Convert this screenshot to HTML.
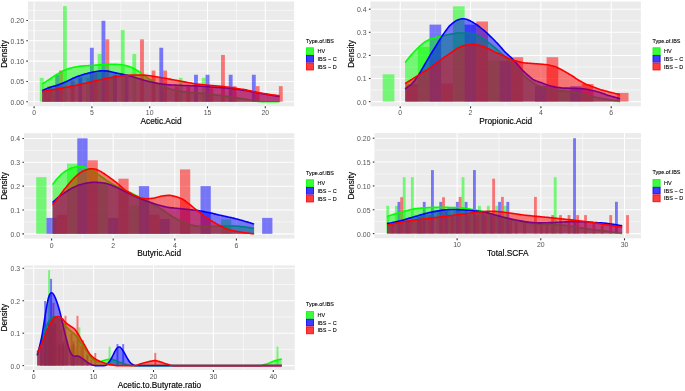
<!DOCTYPE html>
<html><head><meta charset="utf-8"><style>
html,body{margin:0;padding:0;background:#fff;width:685px;height:391px;overflow:hidden}
svg{display:block;filter:blur(0.3px)}
text{font-family:"Liberation Sans",sans-serif}
svg{-webkit-font-smoothing:antialiased}
.tx{filter:grayscale(1)}
.tk{font-size:6.9px;fill:#555;stroke:none}
.at{font-size:8.3px;fill:#000;stroke:#000;stroke-width:0.15px}
.lt{font-size:5.4px;fill:#000;stroke:#000;stroke-width:0.1px}
.lx{font-size:5.5px;fill:#000;stroke:#000;stroke-width:0.1px}
</style></head><body>
<svg width="685" height="391" viewBox="0 0 685 391">
<rect width="685" height="391" fill="#fff"/>
<rect x="27.9" y="1.5" width="266.2" height="104.8" fill="#EBEBEB"/>
<line x1="27.9" x2="294.1" y1="91.59" y2="91.59" stroke="#fff" stroke-width="0.55"/>
<line x1="27.9" x2="294.1" y1="71.28" y2="71.28" stroke="#fff" stroke-width="0.55"/>
<line x1="27.9" x2="294.1" y1="50.96" y2="50.96" stroke="#fff" stroke-width="0.55"/>
<line x1="27.9" x2="294.1" y1="30.65" y2="30.65" stroke="#fff" stroke-width="0.55"/>
<line x1="27.9" x2="294.1" y1="10.33" y2="10.33" stroke="#fff" stroke-width="0.55"/>
<line y1="1.5" y2="106.3" x1="63" x2="63" stroke="#fff" stroke-width="0.55"/>
<line y1="1.5" y2="106.3" x1="120.8" x2="120.8" stroke="#fff" stroke-width="0.55"/>
<line y1="1.5" y2="106.3" x1="178.6" x2="178.6" stroke="#fff" stroke-width="0.55"/>
<line y1="1.5" y2="106.3" x1="236.4" x2="236.4" stroke="#fff" stroke-width="0.55"/>
<line x1="27.9" x2="294.1" y1="101.75" y2="101.75" stroke="#fff" stroke-width="1.05"/>
<line x1="27.9" x2="294.1" y1="81.44" y2="81.44" stroke="#fff" stroke-width="1.05"/>
<line x1="27.9" x2="294.1" y1="61.12" y2="61.12" stroke="#fff" stroke-width="1.05"/>
<line x1="27.9" x2="294.1" y1="40.8" y2="40.8" stroke="#fff" stroke-width="1.05"/>
<line x1="27.9" x2="294.1" y1="20.49" y2="20.49" stroke="#fff" stroke-width="1.05"/>
<line y1="1.5" y2="106.3" x1="34.1" x2="34.1" stroke="#fff" stroke-width="1.05"/>
<line y1="1.5" y2="106.3" x1="91.9" x2="91.9" stroke="#fff" stroke-width="1.05"/>
<line y1="1.5" y2="106.3" x1="149.7" x2="149.7" stroke="#fff" stroke-width="1.05"/>
<line y1="1.5" y2="106.3" x1="207.5" x2="207.5" stroke="#fff" stroke-width="1.05"/>
<line y1="1.5" y2="106.3" x1="265.3" x2="265.3" stroke="#fff" stroke-width="1.05"/>
<clipPath id="c1"><rect x="27.9" y="1.5" width="266.2" height="104.8"/></clipPath>
<g clip-path="url(#c1)">
<g fill="#00FF00" fill-opacity="0.5"><rect x="39.8" y="77.85" width="3.86" height="23.9"/><rect x="62.94" y="6.15" width="3.86" height="95.6"/><rect x="97.64" y="53.95" width="3.86" height="47.8"/><rect x="120.78" y="30.05" width="3.86" height="71.7"/><rect x="132.34" y="53.95" width="3.86" height="47.8"/><rect x="178.62" y="77.85" width="3.86" height="23.9"/><rect x="201.75" y="77.85" width="3.86" height="23.9"/><rect x="51.37" y="88.15" width="3.86" height="13.6"/><rect x="86.07" y="77.85" width="3.86" height="23.9"/><rect x="109.21" y="77.85" width="3.86" height="23.9"/></g>
<g fill="#0000FF" fill-opacity="0.5"><rect x="55.22" y="74.75" width="3.86" height="27"/><rect x="89.93" y="47.75" width="3.86" height="54"/><rect x="101.5" y="20.75" width="3.86" height="81"/><rect x="159.34" y="47.75" width="3.86" height="54"/><rect x="194.04" y="74.75" width="3.86" height="27"/><rect x="205.61" y="74.75" width="3.86" height="27"/><rect x="228.74" y="74.75" width="3.86" height="27"/><rect x="251.88" y="74.75" width="3.86" height="27"/><rect x="78.36" y="77.3" width="3.86" height="24.45"/><rect x="113.06" y="74.85" width="3.86" height="26.9"/><rect x="124.63" y="76.49" width="3.86" height="25.26"/></g>
<g fill="#FF0000" fill-opacity="0.5"><rect x="47.51" y="86.15" width="3.86" height="15.6"/><rect x="59.08" y="70.55" width="3.86" height="31.2"/><rect x="105.35" y="39.35" width="3.86" height="62.4"/><rect x="140.06" y="39.35" width="3.86" height="62.4"/><rect x="151.62" y="70.55" width="3.86" height="31.2"/><rect x="163.19" y="70.55" width="3.86" height="31.2"/><rect x="221.03" y="54.95" width="3.86" height="46.8"/><rect x="232.6" y="86.15" width="3.86" height="15.6"/><rect x="255.74" y="86.15" width="3.86" height="15.6"/><rect x="278.87" y="86.15" width="3.86" height="15.6"/><rect x="43.66" y="91.08" width="3.86" height="10.67"/><rect x="70.65" y="80.65" width="3.86" height="21.1"/><rect x="93.78" y="73.07" width="3.86" height="28.68"/><rect x="174.76" y="86.47" width="3.86" height="15.28"/><rect x="186.33" y="86.87" width="3.86" height="14.88"/><rect x="209.46" y="88.39" width="3.86" height="13.36"/></g>
<path d="M42.1,83.9C42.35,83.75 43.1,83.29 43.6,82.99C44.1,82.68 44.6,82.38 45.1,82.07C45.6,81.77 46.1,81.47 46.6,81.16C47.1,80.85 47.6,80.54 48.1,80.23C48.6,79.91 49.1,79.59 49.6,79.27C50.1,78.94 50.6,78.61 51.1,78.27C51.6,77.94 52.1,77.6 52.6,77.26C53.1,76.92 53.6,76.57 54.1,76.24C54.6,75.9 55.1,75.57 55.6,75.24C56.1,74.92 56.6,74.6 57.1,74.3C57.6,73.99 58.1,73.69 58.6,73.4C59.1,73.1 59.6,72.81 60.1,72.53C60.6,72.25 61.1,71.97 61.6,71.71C62.1,71.45 62.6,71.19 63.1,70.95C63.6,70.71 64.1,70.49 64.6,70.28C65.1,70.06 65.6,69.86 66.1,69.67C66.6,69.47 67.1,69.28 67.6,69.1C68.1,68.92 68.6,68.74 69.1,68.57C69.6,68.41 70.1,68.25 70.6,68.1C71.1,67.96 71.6,67.82 72.1,67.7C72.6,67.57 73.1,67.44 73.6,67.33C74.1,67.21 74.6,67.1 75.1,66.99C75.6,66.89 76.1,66.79 76.6,66.71C77.1,66.62 77.6,66.55 78.1,66.48C78.6,66.41 79.1,66.36 79.6,66.3C80.1,66.24 80.6,66.19 81.1,66.14C81.6,66.09 82.1,66.05 82.6,66C83.1,65.96 83.6,65.92 84.1,65.88C84.6,65.84 85.1,65.81 85.6,65.78C86.1,65.74 86.6,65.71 87.1,65.68C87.6,65.65 88.1,65.62 88.6,65.59C89.1,65.57 89.6,65.54 90.1,65.51C90.6,65.48 91.1,65.45 91.6,65.42C92.1,65.39 92.6,65.37 93.1,65.34C93.6,65.31 94.1,65.28 94.6,65.24C95.1,65.21 95.6,65.18 96.1,65.14C96.6,65.11 97.1,65.07 97.6,65.03C98.1,64.99 98.6,64.95 99.1,64.91C99.6,64.87 100.1,64.83 100.6,64.78C101.1,64.74 101.6,64.7 102.1,64.67C102.6,64.63 103.1,64.59 103.6,64.56C104.1,64.53 104.6,64.5 105.1,64.47C105.6,64.45 106.1,64.43 106.6,64.4C107.1,64.38 107.6,64.36 108.1,64.34C108.6,64.32 109.1,64.3 109.6,64.28C110.1,64.26 110.6,64.24 111.1,64.23C111.6,64.21 112.1,64.2 112.6,64.19C113.1,64.18 113.6,64.18 114.1,64.19C114.6,64.19 115.1,64.21 115.6,64.23C116.1,64.25 116.6,64.29 117.1,64.32C117.6,64.35 118.1,64.39 118.6,64.43C119.1,64.48 119.6,64.52 120.1,64.58C120.6,64.64 121.1,64.7 121.6,64.77C122.1,64.85 122.6,64.93 123.1,65.01C123.6,65.1 124.1,65.19 124.6,65.29C125.1,65.39 125.6,65.49 126.1,65.61C126.6,65.72 127.1,65.85 127.6,65.99C128.1,66.13 128.6,66.3 129.1,66.47C129.6,66.65 130.1,66.84 130.6,67.05C131.1,67.25 131.6,67.47 132.1,67.7C132.6,67.93 133.1,68.18 133.6,68.44C134.1,68.69 134.6,68.97 135.1,69.25C135.6,69.52 136.1,69.81 136.6,70.11C137.1,70.41 137.6,70.72 138.1,71.04C138.6,71.36 139.1,71.69 139.6,72.04C140.1,72.38 140.6,72.74 141.1,73.1C141.6,73.46 142.1,73.83 142.6,74.2C143.1,74.56 143.6,74.94 144.1,75.31C144.6,75.68 145.1,76.06 145.6,76.43C146.1,76.8 146.6,77.17 147.1,77.53C147.6,77.89 148.1,78.25 148.6,78.58C149.1,78.92 149.6,79.24 150.1,79.55C150.6,79.86 151.1,80.16 151.6,80.45C152.1,80.74 152.6,81.01 153.1,81.29C153.6,81.57 154.1,81.84 154.6,82.11C155.1,82.38 155.6,82.64 156.1,82.91C156.6,83.17 157.1,83.43 157.6,83.7C158.1,83.96 158.6,84.22 159.1,84.47C159.6,84.73 160.1,84.98 160.6,85.22C161.1,85.46 161.6,85.7 162.1,85.92C162.6,86.14 163.1,86.35 163.6,86.55C164.1,86.76 164.6,86.95 165.1,87.14C165.6,87.33 166.1,87.52 166.6,87.71C167.1,87.89 167.6,88.08 168.1,88.26C168.6,88.43 169.1,88.6 169.6,88.76C170.1,88.92 170.6,89.07 171.1,89.21C171.6,89.34 172.1,89.47 172.6,89.6C173.1,89.72 173.6,89.84 174.1,89.96C174.6,90.08 175.1,90.19 175.6,90.31C176.1,90.42 176.6,90.54 177.1,90.65C177.6,90.76 178.1,90.87 178.6,90.96C179.1,91.06 179.6,91.15 180.1,91.24C180.6,91.32 181.1,91.39 181.6,91.47C182.1,91.54 182.6,91.6 183.1,91.67C183.6,91.74 184.1,91.8 184.6,91.86C185.1,91.93 185.6,91.99 186.1,92.05C186.6,92.1 187.1,92.16 187.6,92.21C188.1,92.26 188.6,92.31 189.1,92.35C189.6,92.39 190.1,92.43 190.6,92.47C191.1,92.5 191.6,92.54 192.1,92.57C192.6,92.61 193.1,92.64 193.6,92.67C194.1,92.71 194.6,92.74 195.1,92.77C195.6,92.81 196.1,92.84 196.6,92.88C197.1,92.91 197.6,92.95 198.1,92.99C198.6,93.02 199.1,93.06 199.6,93.1C200.1,93.13 200.6,93.17 201.1,93.21C201.6,93.25 202.1,93.28 202.6,93.33C203.1,93.37 203.6,93.41 204.1,93.46C204.6,93.5 205.1,93.55 205.6,93.61C206.1,93.66 206.6,93.73 207.1,93.79C207.6,93.85 208.1,93.91 208.6,93.98C209.1,94.04 209.6,94.11 210.1,94.17C210.6,94.24 211.1,94.31 211.6,94.37C212.1,94.44 212.6,94.5 213.1,94.57C213.6,94.63 214.1,94.69 214.6,94.76C215.1,94.82 215.6,94.89 216.1,94.95C216.6,95.02 217.1,95.08 217.6,95.14C218.1,95.21 218.6,95.27 219.1,95.34C219.6,95.4 220.1,95.46 220.6,95.53C221.1,95.59 221.6,95.66 222.1,95.73C222.6,95.79 223.1,95.86 223.6,95.93C224.1,95.99 224.6,96.06 225.1,96.13C225.6,96.2 226.1,96.28 226.6,96.35C227.1,96.42 227.6,96.49 228.1,96.56C228.6,96.63 229.1,96.71 229.6,96.78C230.1,96.85 230.6,96.92 231.1,97C231.6,97.07 232.1,97.14 232.6,97.21C233.1,97.28 233.6,97.36 234.1,97.43C234.6,97.5 235.1,97.58 235.6,97.65C236.1,97.73 236.6,97.8 237.1,97.88C237.6,97.95 238.1,98.03 238.6,98.11C239.1,98.18 239.6,98.26 240.1,98.34C240.6,98.42 241.1,98.49 241.6,98.57C242.1,98.65 242.6,98.72 243.1,98.8C243.6,98.88 244.1,98.95 244.6,99.03C245.1,99.11 245.6,99.19 246.1,99.27C246.6,99.35 247.1,99.44 247.6,99.52C248.1,99.61 248.6,99.7 249.1,99.78C249.6,99.87 250.1,99.96 250.6,100.05C251.1,100.14 251.6,100.23 252.1,100.32C252.6,100.41 253.1,100.5 253.6,100.59C254.1,100.68 254.6,100.77 255.1,100.86C255.6,100.95 256.1,101.04 256.6,101.13C257.1,101.21 257.6,101.3 258.1,101.37C258.6,101.45 259.1,101.52 259.6,101.57C260.1,101.62 260.6,101.66 261.1,101.68C261.6,101.71 262.1,101.72 262.6,101.73C263.1,101.74 263.6,101.74 264.1,101.75C264.6,101.75 265.1,101.75 265.6,101.75C266.1,101.75 266.6,101.75 267.1,101.75C267.6,101.75 268.1,101.75 268.6,101.75C269.1,101.75 269.6,101.75 270.1,101.75C270.6,101.75 271.1,101.75 271.6,101.75C272.1,101.75 272.6,101.75 273.1,101.75C273.6,101.75 274.1,101.75 274.6,101.75C275.1,101.75 275.6,101.75 276.1,101.75C276.6,101.75 277.1,101.75 277.6,101.75C278.1,101.75 278.78,101.75 279.1,101.75C279.42,101.75 279.43,101.75 279.5,101.75L279.5,101.75L42.1,101.75Z" fill="#00FF00" fill-opacity="0.5"/>
<path d="M42.1,83.9C42.35,83.75 43.1,83.29 43.6,82.99C44.1,82.68 44.6,82.38 45.1,82.07C45.6,81.77 46.1,81.47 46.6,81.16C47.1,80.85 47.6,80.54 48.1,80.23C48.6,79.91 49.1,79.59 49.6,79.27C50.1,78.94 50.6,78.61 51.1,78.27C51.6,77.94 52.1,77.6 52.6,77.26C53.1,76.92 53.6,76.57 54.1,76.24C54.6,75.9 55.1,75.57 55.6,75.24C56.1,74.92 56.6,74.6 57.1,74.3C57.6,73.99 58.1,73.69 58.6,73.4C59.1,73.1 59.6,72.81 60.1,72.53C60.6,72.25 61.1,71.97 61.6,71.71C62.1,71.45 62.6,71.19 63.1,70.95C63.6,70.71 64.1,70.49 64.6,70.28C65.1,70.06 65.6,69.86 66.1,69.67C66.6,69.47 67.1,69.28 67.6,69.1C68.1,68.92 68.6,68.74 69.1,68.57C69.6,68.41 70.1,68.25 70.6,68.1C71.1,67.96 71.6,67.82 72.1,67.7C72.6,67.57 73.1,67.44 73.6,67.33C74.1,67.21 74.6,67.1 75.1,66.99C75.6,66.89 76.1,66.79 76.6,66.71C77.1,66.62 77.6,66.55 78.1,66.48C78.6,66.41 79.1,66.36 79.6,66.3C80.1,66.24 80.6,66.19 81.1,66.14C81.6,66.09 82.1,66.05 82.6,66C83.1,65.96 83.6,65.92 84.1,65.88C84.6,65.84 85.1,65.81 85.6,65.78C86.1,65.74 86.6,65.71 87.1,65.68C87.6,65.65 88.1,65.62 88.6,65.59C89.1,65.57 89.6,65.54 90.1,65.51C90.6,65.48 91.1,65.45 91.6,65.42C92.1,65.39 92.6,65.37 93.1,65.34C93.6,65.31 94.1,65.28 94.6,65.24C95.1,65.21 95.6,65.18 96.1,65.14C96.6,65.11 97.1,65.07 97.6,65.03C98.1,64.99 98.6,64.95 99.1,64.91C99.6,64.87 100.1,64.83 100.6,64.78C101.1,64.74 101.6,64.7 102.1,64.67C102.6,64.63 103.1,64.59 103.6,64.56C104.1,64.53 104.6,64.5 105.1,64.47C105.6,64.45 106.1,64.43 106.6,64.4C107.1,64.38 107.6,64.36 108.1,64.34C108.6,64.32 109.1,64.3 109.6,64.28C110.1,64.26 110.6,64.24 111.1,64.23C111.6,64.21 112.1,64.2 112.6,64.19C113.1,64.18 113.6,64.18 114.1,64.19C114.6,64.19 115.1,64.21 115.6,64.23C116.1,64.25 116.6,64.29 117.1,64.32C117.6,64.35 118.1,64.39 118.6,64.43C119.1,64.48 119.6,64.52 120.1,64.58C120.6,64.64 121.1,64.7 121.6,64.77C122.1,64.85 122.6,64.93 123.1,65.01C123.6,65.1 124.1,65.19 124.6,65.29C125.1,65.39 125.6,65.49 126.1,65.61C126.6,65.72 127.1,65.85 127.6,65.99C128.1,66.13 128.6,66.3 129.1,66.47C129.6,66.65 130.1,66.84 130.6,67.05C131.1,67.25 131.6,67.47 132.1,67.7C132.6,67.93 133.1,68.18 133.6,68.44C134.1,68.69 134.6,68.97 135.1,69.25C135.6,69.52 136.1,69.81 136.6,70.11C137.1,70.41 137.6,70.72 138.1,71.04C138.6,71.36 139.1,71.69 139.6,72.04C140.1,72.38 140.6,72.74 141.1,73.1C141.6,73.46 142.1,73.83 142.6,74.2C143.1,74.56 143.6,74.94 144.1,75.31C144.6,75.68 145.1,76.06 145.6,76.43C146.1,76.8 146.6,77.17 147.1,77.53C147.6,77.89 148.1,78.25 148.6,78.58C149.1,78.92 149.6,79.24 150.1,79.55C150.6,79.86 151.1,80.16 151.6,80.45C152.1,80.74 152.6,81.01 153.1,81.29C153.6,81.57 154.1,81.84 154.6,82.11C155.1,82.38 155.6,82.64 156.1,82.91C156.6,83.17 157.1,83.43 157.6,83.7C158.1,83.96 158.6,84.22 159.1,84.47C159.6,84.73 160.1,84.98 160.6,85.22C161.1,85.46 161.6,85.7 162.1,85.92C162.6,86.14 163.1,86.35 163.6,86.55C164.1,86.76 164.6,86.95 165.1,87.14C165.6,87.33 166.1,87.52 166.6,87.71C167.1,87.89 167.6,88.08 168.1,88.26C168.6,88.43 169.1,88.6 169.6,88.76C170.1,88.92 170.6,89.07 171.1,89.21C171.6,89.34 172.1,89.47 172.6,89.6C173.1,89.72 173.6,89.84 174.1,89.96C174.6,90.08 175.1,90.19 175.6,90.31C176.1,90.42 176.6,90.54 177.1,90.65C177.6,90.76 178.1,90.87 178.6,90.96C179.1,91.06 179.6,91.15 180.1,91.24C180.6,91.32 181.1,91.39 181.6,91.47C182.1,91.54 182.6,91.6 183.1,91.67C183.6,91.74 184.1,91.8 184.6,91.86C185.1,91.93 185.6,91.99 186.1,92.05C186.6,92.1 187.1,92.16 187.6,92.21C188.1,92.26 188.6,92.31 189.1,92.35C189.6,92.39 190.1,92.43 190.6,92.47C191.1,92.5 191.6,92.54 192.1,92.57C192.6,92.61 193.1,92.64 193.6,92.67C194.1,92.71 194.6,92.74 195.1,92.77C195.6,92.81 196.1,92.84 196.6,92.88C197.1,92.91 197.6,92.95 198.1,92.99C198.6,93.02 199.1,93.06 199.6,93.1C200.1,93.13 200.6,93.17 201.1,93.21C201.6,93.25 202.1,93.28 202.6,93.33C203.1,93.37 203.6,93.41 204.1,93.46C204.6,93.5 205.1,93.55 205.6,93.61C206.1,93.66 206.6,93.73 207.1,93.79C207.6,93.85 208.1,93.91 208.6,93.98C209.1,94.04 209.6,94.11 210.1,94.17C210.6,94.24 211.1,94.31 211.6,94.37C212.1,94.44 212.6,94.5 213.1,94.57C213.6,94.63 214.1,94.69 214.6,94.76C215.1,94.82 215.6,94.89 216.1,94.95C216.6,95.02 217.1,95.08 217.6,95.14C218.1,95.21 218.6,95.27 219.1,95.34C219.6,95.4 220.1,95.46 220.6,95.53C221.1,95.59 221.6,95.66 222.1,95.73C222.6,95.79 223.1,95.86 223.6,95.93C224.1,95.99 224.6,96.06 225.1,96.13C225.6,96.2 226.1,96.28 226.6,96.35C227.1,96.42 227.6,96.49 228.1,96.56C228.6,96.63 229.1,96.71 229.6,96.78C230.1,96.85 230.6,96.92 231.1,97C231.6,97.07 232.1,97.14 232.6,97.21C233.1,97.28 233.6,97.36 234.1,97.43C234.6,97.5 235.1,97.58 235.6,97.65C236.1,97.73 236.6,97.8 237.1,97.88C237.6,97.95 238.1,98.03 238.6,98.11C239.1,98.18 239.6,98.26 240.1,98.34C240.6,98.42 241.1,98.49 241.6,98.57C242.1,98.65 242.6,98.72 243.1,98.8C243.6,98.88 244.1,98.95 244.6,99.03C245.1,99.11 245.6,99.19 246.1,99.27C246.6,99.35 247.1,99.44 247.6,99.52C248.1,99.61 248.6,99.7 249.1,99.78C249.6,99.87 250.1,99.96 250.6,100.05C251.1,100.14 251.6,100.23 252.1,100.32C252.6,100.41 253.1,100.5 253.6,100.59C254.1,100.68 254.6,100.77 255.1,100.86C255.6,100.95 256.1,101.04 256.6,101.13C257.1,101.21 257.6,101.3 258.1,101.37C258.6,101.45 259.1,101.52 259.6,101.57C260.1,101.62 260.6,101.66 261.1,101.68C261.6,101.71 262.1,101.72 262.6,101.73C263.1,101.74 263.6,101.74 264.1,101.75C264.6,101.75 265.1,101.75 265.6,101.75C266.1,101.75 266.6,101.75 267.1,101.75C267.6,101.75 268.1,101.75 268.6,101.75C269.1,101.75 269.6,101.75 270.1,101.75C270.6,101.75 271.1,101.75 271.6,101.75C272.1,101.75 272.6,101.75 273.1,101.75C273.6,101.75 274.1,101.75 274.6,101.75C275.1,101.75 275.6,101.75 276.1,101.75C276.6,101.75 277.1,101.75 277.6,101.75C278.1,101.75 278.78,101.75 279.1,101.75C279.42,101.75 279.43,101.75 279.5,101.75" fill="none" stroke="#00FF00" stroke-width="1.6" stroke-linejoin="round"/>
<path d="M42.1,90.7C42.35,90.58 43.1,90.22 43.6,89.98C44.1,89.75 44.6,89.52 45.1,89.31C45.6,89.09 46.1,88.88 46.6,88.68C47.1,88.48 47.6,88.28 48.1,88.09C48.6,87.9 49.1,87.72 49.6,87.55C50.1,87.38 50.6,87.21 51.1,87.05C51.6,86.89 52.1,86.74 52.6,86.59C53.1,86.44 53.6,86.29 54.1,86.14C54.6,85.99 55.1,85.83 55.6,85.68C56.1,85.52 56.6,85.36 57.1,85.19C57.6,85.02 58.1,84.85 58.6,84.68C59.1,84.51 59.6,84.33 60.1,84.15C60.6,83.97 61.1,83.79 61.6,83.6C62.1,83.4 62.6,83.2 63.1,83C63.6,82.79 64.1,82.56 64.6,82.34C65.1,82.11 65.6,81.87 66.1,81.64C66.6,81.4 67.1,81.16 67.6,80.92C68.1,80.68 68.6,80.44 69.1,80.2C69.6,79.96 70.1,79.72 70.6,79.49C71.1,79.25 71.6,79.02 72.1,78.79C72.6,78.55 73.1,78.32 73.6,78.1C74.1,77.87 74.6,77.64 75.1,77.43C75.6,77.21 76.1,77 76.6,76.8C77.1,76.6 77.6,76.41 78.1,76.22C78.6,76.04 79.1,75.87 79.6,75.69C80.1,75.52 80.6,75.35 81.1,75.19C81.6,75.02 82.1,74.86 82.6,74.7C83.1,74.55 83.6,74.4 84.1,74.25C84.6,74.11 85.1,73.97 85.6,73.83C86.1,73.69 86.6,73.56 87.1,73.43C87.6,73.29 88.1,73.16 88.6,73.04C89.1,72.91 89.6,72.79 90.1,72.67C90.6,72.55 91.1,72.44 91.6,72.33C92.1,72.22 92.6,72.12 93.1,72.02C93.6,71.92 94.1,71.82 94.6,71.73C95.1,71.64 95.6,71.55 96.1,71.47C96.6,71.39 97.1,71.31 97.6,71.24C98.1,71.16 98.6,71.09 99.1,71.03C99.6,70.97 100.1,70.91 100.6,70.86C101.1,70.82 101.6,70.78 102.1,70.76C102.6,70.75 103.1,70.75 103.6,70.76C104.1,70.77 104.6,70.79 105.1,70.83C105.6,70.86 106.1,70.9 106.6,70.96C107.1,71.02 107.6,71.08 108.1,71.16C108.6,71.25 109.1,71.35 109.6,71.45C110.1,71.56 110.6,71.68 111.1,71.79C111.6,71.91 112.1,72.04 112.6,72.16C113.1,72.28 113.6,72.4 114.1,72.52C114.6,72.63 115.1,72.75 115.6,72.86C116.1,72.97 116.6,73.08 117.1,73.18C117.6,73.29 118.1,73.39 118.6,73.5C119.1,73.6 119.6,73.7 120.1,73.8C120.6,73.9 121.1,74 121.6,74.1C122.1,74.2 122.6,74.3 123.1,74.39C123.6,74.49 124.1,74.58 124.6,74.68C125.1,74.78 125.6,74.88 126.1,74.99C126.6,75.09 127.1,75.2 127.6,75.33C128.1,75.45 128.6,75.58 129.1,75.72C129.6,75.86 130.1,76.01 130.6,76.16C131.1,76.31 131.6,76.46 132.1,76.62C132.6,76.77 133.1,76.93 133.6,77.08C134.1,77.23 134.6,77.39 135.1,77.54C135.6,77.69 136.1,77.84 136.6,77.99C137.1,78.13 137.6,78.28 138.1,78.43C138.6,78.58 139.1,78.72 139.6,78.87C140.1,79.02 140.6,79.16 141.1,79.31C141.6,79.45 142.1,79.6 142.6,79.74C143.1,79.88 143.6,80.03 144.1,80.17C144.6,80.31 145.1,80.45 145.6,80.58C146.1,80.72 146.6,80.85 147.1,80.98C147.6,81.11 148.1,81.23 148.6,81.35C149.1,81.47 149.6,81.59 150.1,81.7C150.6,81.82 151.1,81.93 151.6,82.04C152.1,82.15 152.6,82.26 153.1,82.37C153.6,82.48 154.1,82.58 154.6,82.68C155.1,82.79 155.6,82.89 156.1,82.98C156.6,83.08 157.1,83.18 157.6,83.28C158.1,83.38 158.6,83.47 159.1,83.57C159.6,83.66 160.1,83.75 160.6,83.83C161.1,83.92 161.6,83.99 162.1,84.07C162.6,84.14 163.1,84.2 163.6,84.26C164.1,84.31 164.6,84.37 165.1,84.42C165.6,84.47 166.1,84.52 166.6,84.57C167.1,84.61 167.6,84.66 168.1,84.7C168.6,84.75 169.1,84.79 169.6,84.83C170.1,84.86 170.6,84.9 171.1,84.93C171.6,84.96 172.1,84.98 172.6,85.01C173.1,85.03 173.6,85.05 174.1,85.07C174.6,85.1 175.1,85.12 175.6,85.14C176.1,85.16 176.6,85.18 177.1,85.2C177.6,85.22 178.1,85.24 178.6,85.26C179.1,85.28 179.6,85.3 180.1,85.32C180.6,85.34 181.1,85.36 181.6,85.38C182.1,85.39 182.6,85.41 183.1,85.43C183.6,85.45 184.1,85.46 184.6,85.48C185.1,85.5 185.6,85.52 186.1,85.53C186.6,85.55 187.1,85.57 187.6,85.59C188.1,85.6 188.6,85.62 189.1,85.64C189.6,85.65 190.1,85.67 190.6,85.69C191.1,85.7 191.6,85.72 192.1,85.74C192.6,85.75 193.1,85.77 193.6,85.79C194.1,85.81 194.6,85.82 195.1,85.84C195.6,85.86 196.1,85.89 196.6,85.91C197.1,85.94 197.6,85.97 198.1,86C198.6,86.03 199.1,86.06 199.6,86.1C200.1,86.13 200.6,86.17 201.1,86.21C201.6,86.25 202.1,86.28 202.6,86.32C203.1,86.36 203.6,86.4 204.1,86.44C204.6,86.48 205.1,86.52 205.6,86.56C206.1,86.6 206.6,86.64 207.1,86.69C207.6,86.73 208.1,86.77 208.6,86.82C209.1,86.86 209.6,86.9 210.1,86.94C210.6,86.99 211.1,87.03 211.6,87.06C212.1,87.1 212.6,87.14 213.1,87.17C213.6,87.21 214.1,87.24 214.6,87.27C215.1,87.3 215.6,87.33 216.1,87.36C216.6,87.39 217.1,87.42 217.6,87.45C218.1,87.48 218.6,87.52 219.1,87.55C219.6,87.58 220.1,87.61 220.6,87.64C221.1,87.67 221.6,87.7 222.1,87.73C222.6,87.77 223.1,87.8 223.6,87.83C224.1,87.86 224.6,87.89 225.1,87.93C225.6,87.96 226.1,87.99 226.6,88.03C227.1,88.06 227.6,88.1 228.1,88.14C228.6,88.18 229.1,88.23 229.6,88.28C230.1,88.33 230.6,88.39 231.1,88.45C231.6,88.52 232.1,88.58 232.6,88.65C233.1,88.72 233.6,88.79 234.1,88.86C234.6,88.93 235.1,89 235.6,89.07C236.1,89.14 236.6,89.21 237.1,89.28C237.6,89.35 238.1,89.43 238.6,89.5C239.1,89.58 239.6,89.65 240.1,89.73C240.6,89.81 241.1,89.88 241.6,89.96C242.1,90.04 242.6,90.12 243.1,90.19C243.6,90.27 244.1,90.35 244.6,90.43C245.1,90.51 245.6,90.59 246.1,90.67C246.6,90.76 247.1,90.84 247.6,90.93C248.1,91.02 248.6,91.11 249.1,91.2C249.6,91.29 250.1,91.38 250.6,91.48C251.1,91.57 251.6,91.66 252.1,91.76C252.6,91.85 253.1,91.95 253.6,92.04C254.1,92.14 254.6,92.23 255.1,92.33C255.6,92.43 256.1,92.52 256.6,92.62C257.1,92.72 257.6,92.82 258.1,92.92C258.6,93.01 259.1,93.11 259.6,93.2C260.1,93.3 260.6,93.39 261.1,93.48C261.6,93.57 262.1,93.65 262.6,93.74C263.1,93.83 263.6,93.91 264.1,94C264.6,94.08 265.1,94.17 265.6,94.25C266.1,94.34 266.6,94.42 267.1,94.51C267.6,94.59 268.1,94.68 268.6,94.76C269.1,94.84 269.6,94.92 270.1,95.01C270.6,95.09 271.1,95.17 271.6,95.25C272.1,95.33 272.6,95.41 273.1,95.49C273.6,95.57 274.1,95.65 274.6,95.73C275.1,95.8 275.6,95.88 276.1,95.96C276.6,96.04 277.1,96.12 277.6,96.19C278.1,96.27 278.78,96.37 279.1,96.42C279.42,96.47 279.43,96.49 279.5,96.5L279.5,101.75L42.1,101.75Z" fill="#0000FF" fill-opacity="0.5"/>
<path d="M42.1,90.7C42.35,90.58 43.1,90.22 43.6,89.98C44.1,89.75 44.6,89.52 45.1,89.31C45.6,89.09 46.1,88.88 46.6,88.68C47.1,88.48 47.6,88.28 48.1,88.09C48.6,87.9 49.1,87.72 49.6,87.55C50.1,87.38 50.6,87.21 51.1,87.05C51.6,86.89 52.1,86.74 52.6,86.59C53.1,86.44 53.6,86.29 54.1,86.14C54.6,85.99 55.1,85.83 55.6,85.68C56.1,85.52 56.6,85.36 57.1,85.19C57.6,85.02 58.1,84.85 58.6,84.68C59.1,84.51 59.6,84.33 60.1,84.15C60.6,83.97 61.1,83.79 61.6,83.6C62.1,83.4 62.6,83.2 63.1,83C63.6,82.79 64.1,82.56 64.6,82.34C65.1,82.11 65.6,81.87 66.1,81.64C66.6,81.4 67.1,81.16 67.6,80.92C68.1,80.68 68.6,80.44 69.1,80.2C69.6,79.96 70.1,79.72 70.6,79.49C71.1,79.25 71.6,79.02 72.1,78.79C72.6,78.55 73.1,78.32 73.6,78.1C74.1,77.87 74.6,77.64 75.1,77.43C75.6,77.21 76.1,77 76.6,76.8C77.1,76.6 77.6,76.41 78.1,76.22C78.6,76.04 79.1,75.87 79.6,75.69C80.1,75.52 80.6,75.35 81.1,75.19C81.6,75.02 82.1,74.86 82.6,74.7C83.1,74.55 83.6,74.4 84.1,74.25C84.6,74.11 85.1,73.97 85.6,73.83C86.1,73.69 86.6,73.56 87.1,73.43C87.6,73.29 88.1,73.16 88.6,73.04C89.1,72.91 89.6,72.79 90.1,72.67C90.6,72.55 91.1,72.44 91.6,72.33C92.1,72.22 92.6,72.12 93.1,72.02C93.6,71.92 94.1,71.82 94.6,71.73C95.1,71.64 95.6,71.55 96.1,71.47C96.6,71.39 97.1,71.31 97.6,71.24C98.1,71.16 98.6,71.09 99.1,71.03C99.6,70.97 100.1,70.91 100.6,70.86C101.1,70.82 101.6,70.78 102.1,70.76C102.6,70.75 103.1,70.75 103.6,70.76C104.1,70.77 104.6,70.79 105.1,70.83C105.6,70.86 106.1,70.9 106.6,70.96C107.1,71.02 107.6,71.08 108.1,71.16C108.6,71.25 109.1,71.35 109.6,71.45C110.1,71.56 110.6,71.68 111.1,71.79C111.6,71.91 112.1,72.04 112.6,72.16C113.1,72.28 113.6,72.4 114.1,72.52C114.6,72.63 115.1,72.75 115.6,72.86C116.1,72.97 116.6,73.08 117.1,73.18C117.6,73.29 118.1,73.39 118.6,73.5C119.1,73.6 119.6,73.7 120.1,73.8C120.6,73.9 121.1,74 121.6,74.1C122.1,74.2 122.6,74.3 123.1,74.39C123.6,74.49 124.1,74.58 124.6,74.68C125.1,74.78 125.6,74.88 126.1,74.99C126.6,75.09 127.1,75.2 127.6,75.33C128.1,75.45 128.6,75.58 129.1,75.72C129.6,75.86 130.1,76.01 130.6,76.16C131.1,76.31 131.6,76.46 132.1,76.62C132.6,76.77 133.1,76.93 133.6,77.08C134.1,77.23 134.6,77.39 135.1,77.54C135.6,77.69 136.1,77.84 136.6,77.99C137.1,78.13 137.6,78.28 138.1,78.43C138.6,78.58 139.1,78.72 139.6,78.87C140.1,79.02 140.6,79.16 141.1,79.31C141.6,79.45 142.1,79.6 142.6,79.74C143.1,79.88 143.6,80.03 144.1,80.17C144.6,80.31 145.1,80.45 145.6,80.58C146.1,80.72 146.6,80.85 147.1,80.98C147.6,81.11 148.1,81.23 148.6,81.35C149.1,81.47 149.6,81.59 150.1,81.7C150.6,81.82 151.1,81.93 151.6,82.04C152.1,82.15 152.6,82.26 153.1,82.37C153.6,82.48 154.1,82.58 154.6,82.68C155.1,82.79 155.6,82.89 156.1,82.98C156.6,83.08 157.1,83.18 157.6,83.28C158.1,83.38 158.6,83.47 159.1,83.57C159.6,83.66 160.1,83.75 160.6,83.83C161.1,83.92 161.6,83.99 162.1,84.07C162.6,84.14 163.1,84.2 163.6,84.26C164.1,84.31 164.6,84.37 165.1,84.42C165.6,84.47 166.1,84.52 166.6,84.57C167.1,84.61 167.6,84.66 168.1,84.7C168.6,84.75 169.1,84.79 169.6,84.83C170.1,84.86 170.6,84.9 171.1,84.93C171.6,84.96 172.1,84.98 172.6,85.01C173.1,85.03 173.6,85.05 174.1,85.07C174.6,85.1 175.1,85.12 175.6,85.14C176.1,85.16 176.6,85.18 177.1,85.2C177.6,85.22 178.1,85.24 178.6,85.26C179.1,85.28 179.6,85.3 180.1,85.32C180.6,85.34 181.1,85.36 181.6,85.38C182.1,85.39 182.6,85.41 183.1,85.43C183.6,85.45 184.1,85.46 184.6,85.48C185.1,85.5 185.6,85.52 186.1,85.53C186.6,85.55 187.1,85.57 187.6,85.59C188.1,85.6 188.6,85.62 189.1,85.64C189.6,85.65 190.1,85.67 190.6,85.69C191.1,85.7 191.6,85.72 192.1,85.74C192.6,85.75 193.1,85.77 193.6,85.79C194.1,85.81 194.6,85.82 195.1,85.84C195.6,85.86 196.1,85.89 196.6,85.91C197.1,85.94 197.6,85.97 198.1,86C198.6,86.03 199.1,86.06 199.6,86.1C200.1,86.13 200.6,86.17 201.1,86.21C201.6,86.25 202.1,86.28 202.6,86.32C203.1,86.36 203.6,86.4 204.1,86.44C204.6,86.48 205.1,86.52 205.6,86.56C206.1,86.6 206.6,86.64 207.1,86.69C207.6,86.73 208.1,86.77 208.6,86.82C209.1,86.86 209.6,86.9 210.1,86.94C210.6,86.99 211.1,87.03 211.6,87.06C212.1,87.1 212.6,87.14 213.1,87.17C213.6,87.21 214.1,87.24 214.6,87.27C215.1,87.3 215.6,87.33 216.1,87.36C216.6,87.39 217.1,87.42 217.6,87.45C218.1,87.48 218.6,87.52 219.1,87.55C219.6,87.58 220.1,87.61 220.6,87.64C221.1,87.67 221.6,87.7 222.1,87.73C222.6,87.77 223.1,87.8 223.6,87.83C224.1,87.86 224.6,87.89 225.1,87.93C225.6,87.96 226.1,87.99 226.6,88.03C227.1,88.06 227.6,88.1 228.1,88.14C228.6,88.18 229.1,88.23 229.6,88.28C230.1,88.33 230.6,88.39 231.1,88.45C231.6,88.52 232.1,88.58 232.6,88.65C233.1,88.72 233.6,88.79 234.1,88.86C234.6,88.93 235.1,89 235.6,89.07C236.1,89.14 236.6,89.21 237.1,89.28C237.6,89.35 238.1,89.43 238.6,89.5C239.1,89.58 239.6,89.65 240.1,89.73C240.6,89.81 241.1,89.88 241.6,89.96C242.1,90.04 242.6,90.12 243.1,90.19C243.6,90.27 244.1,90.35 244.6,90.43C245.1,90.51 245.6,90.59 246.1,90.67C246.6,90.76 247.1,90.84 247.6,90.93C248.1,91.02 248.6,91.11 249.1,91.2C249.6,91.29 250.1,91.38 250.6,91.48C251.1,91.57 251.6,91.66 252.1,91.76C252.6,91.85 253.1,91.95 253.6,92.04C254.1,92.14 254.6,92.23 255.1,92.33C255.6,92.43 256.1,92.52 256.6,92.62C257.1,92.72 257.6,92.82 258.1,92.92C258.6,93.01 259.1,93.11 259.6,93.2C260.1,93.3 260.6,93.39 261.1,93.48C261.6,93.57 262.1,93.65 262.6,93.74C263.1,93.83 263.6,93.91 264.1,94C264.6,94.08 265.1,94.17 265.6,94.25C266.1,94.34 266.6,94.42 267.1,94.51C267.6,94.59 268.1,94.68 268.6,94.76C269.1,94.84 269.6,94.92 270.1,95.01C270.6,95.09 271.1,95.17 271.6,95.25C272.1,95.33 272.6,95.41 273.1,95.49C273.6,95.57 274.1,95.65 274.6,95.73C275.1,95.8 275.6,95.88 276.1,95.96C276.6,96.04 277.1,96.12 277.6,96.19C278.1,96.27 278.78,96.37 279.1,96.42C279.42,96.47 279.43,96.49 279.5,96.5" fill="none" stroke="#0000FF" stroke-width="1.6" stroke-linejoin="round"/>
<path d="M42.1,91.6C42.35,91.56 43.1,91.43 43.6,91.34C44.1,91.25 44.6,91.17 45.1,91.08C45.6,90.99 46.1,90.91 46.6,90.82C47.1,90.73 47.6,90.65 48.1,90.56C48.6,90.47 49.1,90.39 49.6,90.3C50.1,90.21 50.6,90.13 51.1,90.04C51.6,89.95 52.1,89.87 52.6,89.78C53.1,89.69 53.6,89.61 54.1,89.52C54.6,89.44 55.1,89.35 55.6,89.26C56.1,89.17 56.6,89.09 57.1,89C57.6,88.91 58.1,88.82 58.6,88.73C59.1,88.64 59.6,88.55 60.1,88.46C60.6,88.37 61.1,88.27 61.6,88.17C62.1,88.08 62.6,87.98 63.1,87.88C63.6,87.78 64.1,87.68 64.6,87.58C65.1,87.48 65.6,87.38 66.1,87.28C66.6,87.18 67.1,87.08 67.6,86.98C68.1,86.88 68.6,86.78 69.1,86.68C69.6,86.58 70.1,86.48 70.6,86.38C71.1,86.28 71.6,86.18 72.1,86.08C72.6,85.98 73.1,85.88 73.6,85.78C74.1,85.68 74.6,85.58 75.1,85.48C75.6,85.38 76.1,85.28 76.6,85.18C77.1,85.08 77.6,84.98 78.1,84.87C78.6,84.77 79.1,84.67 79.6,84.56C80.1,84.45 80.6,84.34 81.1,84.23C81.6,84.11 82.1,84 82.6,83.88C83.1,83.76 83.6,83.65 84.1,83.53C84.6,83.41 85.1,83.29 85.6,83.17C86.1,83.05 86.6,82.93 87.1,82.82C87.6,82.7 88.1,82.58 88.6,82.46C89.1,82.34 89.6,82.22 90.1,82.1C90.6,81.99 91.1,81.87 91.6,81.75C92.1,81.63 92.6,81.51 93.1,81.39C93.6,81.28 94.1,81.16 94.6,81.04C95.1,80.92 95.6,80.81 96.1,80.69C96.6,80.58 97.1,80.46 97.6,80.35C98.1,80.23 98.6,80.12 99.1,80.01C99.6,79.89 100.1,79.78 100.6,79.67C101.1,79.55 101.6,79.44 102.1,79.33C102.6,79.21 103.1,79.1 103.6,78.99C104.1,78.87 104.6,78.76 105.1,78.65C105.6,78.54 106.1,78.43 106.6,78.33C107.1,78.23 107.6,78.13 108.1,78.03C108.6,77.93 109.1,77.84 109.6,77.75C110.1,77.66 110.6,77.58 111.1,77.49C111.6,77.41 112.1,77.32 112.6,77.24C113.1,77.15 113.6,77.07 114.1,76.98C114.6,76.9 115.1,76.81 115.6,76.73C116.1,76.65 116.6,76.56 117.1,76.48C117.6,76.39 118.1,76.31 118.6,76.23C119.1,76.15 119.6,76.08 120.1,76.01C120.6,75.94 121.1,75.87 121.6,75.82C122.1,75.76 122.6,75.71 123.1,75.67C123.6,75.62 124.1,75.58 124.6,75.54C125.1,75.5 125.6,75.47 126.1,75.43C126.6,75.39 127.1,75.36 127.6,75.32C128.1,75.28 128.6,75.25 129.1,75.21C129.6,75.18 130.1,75.15 130.6,75.12C131.1,75.09 131.6,75.07 132.1,75.05C132.6,75.03 133.1,75.02 133.6,75.02C134.1,75.01 134.6,75.01 135.1,75C135.6,75 136.1,75 136.6,75C137.1,75 137.6,75 138.1,75C138.6,75 139.1,75 139.6,75C140.1,75.01 140.6,75.01 141.1,75.02C141.6,75.03 142.1,75.05 142.6,75.07C143.1,75.09 143.6,75.12 144.1,75.16C144.6,75.19 145.1,75.24 145.6,75.28C146.1,75.32 146.6,75.37 147.1,75.42C147.6,75.47 148.1,75.53 148.6,75.58C149.1,75.64 149.6,75.7 150.1,75.76C150.6,75.83 151.1,75.9 151.6,75.97C152.1,76.05 152.6,76.12 153.1,76.2C153.6,76.28 154.1,76.36 154.6,76.44C155.1,76.52 155.6,76.6 156.1,76.68C156.6,76.76 157.1,76.84 157.6,76.92C158.1,77.01 158.6,77.09 159.1,77.17C159.6,77.25 160.1,77.33 160.6,77.42C161.1,77.5 161.6,77.59 162.1,77.68C162.6,77.77 163.1,77.86 163.6,77.96C164.1,78.05 164.6,78.15 165.1,78.25C165.6,78.34 166.1,78.44 166.6,78.54C167.1,78.63 167.6,78.73 168.1,78.83C168.6,78.92 169.1,79.02 169.6,79.11C170.1,79.21 170.6,79.3 171.1,79.39C171.6,79.49 172.1,79.58 172.6,79.67C173.1,79.76 173.6,79.85 174.1,79.94C174.6,80.03 175.1,80.12 175.6,80.21C176.1,80.3 176.6,80.39 177.1,80.48C177.6,80.58 178.1,80.67 178.6,80.76C179.1,80.85 179.6,80.94 180.1,81.03C180.6,81.12 181.1,81.22 181.6,81.31C182.1,81.4 182.6,81.5 183.1,81.59C183.6,81.68 184.1,81.77 184.6,81.87C185.1,81.96 185.6,82.05 186.1,82.15C186.6,82.24 187.1,82.33 187.6,82.42C188.1,82.51 188.6,82.6 189.1,82.69C189.6,82.78 190.1,82.87 190.6,82.96C191.1,83.05 191.6,83.14 192.1,83.23C192.6,83.32 193.1,83.41 193.6,83.49C194.1,83.58 194.6,83.67 195.1,83.75C195.6,83.83 196.1,83.91 196.6,83.98C197.1,84.05 197.6,84.12 198.1,84.18C198.6,84.25 199.1,84.3 199.6,84.36C200.1,84.41 200.6,84.46 201.1,84.52C201.6,84.57 202.1,84.62 202.6,84.67C203.1,84.72 203.6,84.77 204.1,84.82C204.6,84.87 205.1,84.92 205.6,84.97C206.1,85.02 206.6,85.07 207.1,85.12C207.6,85.17 208.1,85.22 208.6,85.27C209.1,85.31 209.6,85.36 210.1,85.4C210.6,85.44 211.1,85.49 211.6,85.53C212.1,85.57 212.6,85.61 213.1,85.65C213.6,85.69 214.1,85.73 214.6,85.77C215.1,85.81 215.6,85.86 216.1,85.9C216.6,85.94 217.1,85.98 217.6,86.02C218.1,86.06 218.6,86.1 219.1,86.14C219.6,86.18 220.1,86.22 220.6,86.27C221.1,86.31 221.6,86.35 222.1,86.4C222.6,86.45 223.1,86.5 223.6,86.56C224.1,86.62 224.6,86.68 225.1,86.75C225.6,86.81 226.1,86.88 226.6,86.95C227.1,87.02 227.6,87.09 228.1,87.16C228.6,87.23 229.1,87.31 229.6,87.38C230.1,87.45 230.6,87.52 231.1,87.6C231.6,87.67 232.1,87.74 232.6,87.81C233.1,87.88 233.6,87.96 234.1,88.03C234.6,88.1 235.1,88.18 235.6,88.25C236.1,88.33 236.6,88.4 237.1,88.48C237.6,88.55 238.1,88.63 238.6,88.71C239.1,88.78 239.6,88.86 240.1,88.94C240.6,89.02 241.1,89.09 241.6,89.17C242.1,89.25 242.6,89.32 243.1,89.4C243.6,89.48 244.1,89.56 244.6,89.64C245.1,89.72 245.6,89.8 246.1,89.9C246.6,89.99 247.1,90.08 247.6,90.18C248.1,90.28 248.6,90.39 249.1,90.5C249.6,90.61 250.1,90.73 250.6,90.84C251.1,90.96 251.6,91.08 252.1,91.19C252.6,91.31 253.1,91.43 253.6,91.54C254.1,91.66 254.6,91.77 255.1,91.89C255.6,92 256.1,92.11 256.6,92.22C257.1,92.33 257.6,92.43 258.1,92.53C258.6,92.63 259.1,92.72 259.6,92.81C260.1,92.9 260.6,92.99 261.1,93.07C261.6,93.16 262.1,93.24 262.6,93.33C263.1,93.41 263.6,93.49 264.1,93.58C264.6,93.66 265.1,93.74 265.6,93.82C266.1,93.91 266.6,93.99 267.1,94.07C267.6,94.15 268.1,94.23 268.6,94.3C269.1,94.38 269.6,94.46 270.1,94.54C270.6,94.62 271.1,94.69 271.6,94.76C272.1,94.84 272.6,94.91 273.1,94.97C273.6,95.04 274.1,95.1 274.6,95.16C275.1,95.22 275.6,95.28 276.1,95.33C276.6,95.39 277.1,95.44 277.6,95.49C278.1,95.54 278.78,95.61 279.1,95.65C279.42,95.68 279.43,95.69 279.5,95.7L279.5,101.75L42.1,101.75Z" fill="#FF0000" fill-opacity="0.5"/>
<path d="M42.1,91.6C42.35,91.56 43.1,91.43 43.6,91.34C44.1,91.25 44.6,91.17 45.1,91.08C45.6,90.99 46.1,90.91 46.6,90.82C47.1,90.73 47.6,90.65 48.1,90.56C48.6,90.47 49.1,90.39 49.6,90.3C50.1,90.21 50.6,90.13 51.1,90.04C51.6,89.95 52.1,89.87 52.6,89.78C53.1,89.69 53.6,89.61 54.1,89.52C54.6,89.44 55.1,89.35 55.6,89.26C56.1,89.17 56.6,89.09 57.1,89C57.6,88.91 58.1,88.82 58.6,88.73C59.1,88.64 59.6,88.55 60.1,88.46C60.6,88.37 61.1,88.27 61.6,88.17C62.1,88.08 62.6,87.98 63.1,87.88C63.6,87.78 64.1,87.68 64.6,87.58C65.1,87.48 65.6,87.38 66.1,87.28C66.6,87.18 67.1,87.08 67.6,86.98C68.1,86.88 68.6,86.78 69.1,86.68C69.6,86.58 70.1,86.48 70.6,86.38C71.1,86.28 71.6,86.18 72.1,86.08C72.6,85.98 73.1,85.88 73.6,85.78C74.1,85.68 74.6,85.58 75.1,85.48C75.6,85.38 76.1,85.28 76.6,85.18C77.1,85.08 77.6,84.98 78.1,84.87C78.6,84.77 79.1,84.67 79.6,84.56C80.1,84.45 80.6,84.34 81.1,84.23C81.6,84.11 82.1,84 82.6,83.88C83.1,83.76 83.6,83.65 84.1,83.53C84.6,83.41 85.1,83.29 85.6,83.17C86.1,83.05 86.6,82.93 87.1,82.82C87.6,82.7 88.1,82.58 88.6,82.46C89.1,82.34 89.6,82.22 90.1,82.1C90.6,81.99 91.1,81.87 91.6,81.75C92.1,81.63 92.6,81.51 93.1,81.39C93.6,81.28 94.1,81.16 94.6,81.04C95.1,80.92 95.6,80.81 96.1,80.69C96.6,80.58 97.1,80.46 97.6,80.35C98.1,80.23 98.6,80.12 99.1,80.01C99.6,79.89 100.1,79.78 100.6,79.67C101.1,79.55 101.6,79.44 102.1,79.33C102.6,79.21 103.1,79.1 103.6,78.99C104.1,78.87 104.6,78.76 105.1,78.65C105.6,78.54 106.1,78.43 106.6,78.33C107.1,78.23 107.6,78.13 108.1,78.03C108.6,77.93 109.1,77.84 109.6,77.75C110.1,77.66 110.6,77.58 111.1,77.49C111.6,77.41 112.1,77.32 112.6,77.24C113.1,77.15 113.6,77.07 114.1,76.98C114.6,76.9 115.1,76.81 115.6,76.73C116.1,76.65 116.6,76.56 117.1,76.48C117.6,76.39 118.1,76.31 118.6,76.23C119.1,76.15 119.6,76.08 120.1,76.01C120.6,75.94 121.1,75.87 121.6,75.82C122.1,75.76 122.6,75.71 123.1,75.67C123.6,75.62 124.1,75.58 124.6,75.54C125.1,75.5 125.6,75.47 126.1,75.43C126.6,75.39 127.1,75.36 127.6,75.32C128.1,75.28 128.6,75.25 129.1,75.21C129.6,75.18 130.1,75.15 130.6,75.12C131.1,75.09 131.6,75.07 132.1,75.05C132.6,75.03 133.1,75.02 133.6,75.02C134.1,75.01 134.6,75.01 135.1,75C135.6,75 136.1,75 136.6,75C137.1,75 137.6,75 138.1,75C138.6,75 139.1,75 139.6,75C140.1,75.01 140.6,75.01 141.1,75.02C141.6,75.03 142.1,75.05 142.6,75.07C143.1,75.09 143.6,75.12 144.1,75.16C144.6,75.19 145.1,75.24 145.6,75.28C146.1,75.32 146.6,75.37 147.1,75.42C147.6,75.47 148.1,75.53 148.6,75.58C149.1,75.64 149.6,75.7 150.1,75.76C150.6,75.83 151.1,75.9 151.6,75.97C152.1,76.05 152.6,76.12 153.1,76.2C153.6,76.28 154.1,76.36 154.6,76.44C155.1,76.52 155.6,76.6 156.1,76.68C156.6,76.76 157.1,76.84 157.6,76.92C158.1,77.01 158.6,77.09 159.1,77.17C159.6,77.25 160.1,77.33 160.6,77.42C161.1,77.5 161.6,77.59 162.1,77.68C162.6,77.77 163.1,77.86 163.6,77.96C164.1,78.05 164.6,78.15 165.1,78.25C165.6,78.34 166.1,78.44 166.6,78.54C167.1,78.63 167.6,78.73 168.1,78.83C168.6,78.92 169.1,79.02 169.6,79.11C170.1,79.21 170.6,79.3 171.1,79.39C171.6,79.49 172.1,79.58 172.6,79.67C173.1,79.76 173.6,79.85 174.1,79.94C174.6,80.03 175.1,80.12 175.6,80.21C176.1,80.3 176.6,80.39 177.1,80.48C177.6,80.58 178.1,80.67 178.6,80.76C179.1,80.85 179.6,80.94 180.1,81.03C180.6,81.12 181.1,81.22 181.6,81.31C182.1,81.4 182.6,81.5 183.1,81.59C183.6,81.68 184.1,81.77 184.6,81.87C185.1,81.96 185.6,82.05 186.1,82.15C186.6,82.24 187.1,82.33 187.6,82.42C188.1,82.51 188.6,82.6 189.1,82.69C189.6,82.78 190.1,82.87 190.6,82.96C191.1,83.05 191.6,83.14 192.1,83.23C192.6,83.32 193.1,83.41 193.6,83.49C194.1,83.58 194.6,83.67 195.1,83.75C195.6,83.83 196.1,83.91 196.6,83.98C197.1,84.05 197.6,84.12 198.1,84.18C198.6,84.25 199.1,84.3 199.6,84.36C200.1,84.41 200.6,84.46 201.1,84.52C201.6,84.57 202.1,84.62 202.6,84.67C203.1,84.72 203.6,84.77 204.1,84.82C204.6,84.87 205.1,84.92 205.6,84.97C206.1,85.02 206.6,85.07 207.1,85.12C207.6,85.17 208.1,85.22 208.6,85.27C209.1,85.31 209.6,85.36 210.1,85.4C210.6,85.44 211.1,85.49 211.6,85.53C212.1,85.57 212.6,85.61 213.1,85.65C213.6,85.69 214.1,85.73 214.6,85.77C215.1,85.81 215.6,85.86 216.1,85.9C216.6,85.94 217.1,85.98 217.6,86.02C218.1,86.06 218.6,86.1 219.1,86.14C219.6,86.18 220.1,86.22 220.6,86.27C221.1,86.31 221.6,86.35 222.1,86.4C222.6,86.45 223.1,86.5 223.6,86.56C224.1,86.62 224.6,86.68 225.1,86.75C225.6,86.81 226.1,86.88 226.6,86.95C227.1,87.02 227.6,87.09 228.1,87.16C228.6,87.23 229.1,87.31 229.6,87.38C230.1,87.45 230.6,87.52 231.1,87.6C231.6,87.67 232.1,87.74 232.6,87.81C233.1,87.88 233.6,87.96 234.1,88.03C234.6,88.1 235.1,88.18 235.6,88.25C236.1,88.33 236.6,88.4 237.1,88.48C237.6,88.55 238.1,88.63 238.6,88.71C239.1,88.78 239.6,88.86 240.1,88.94C240.6,89.02 241.1,89.09 241.6,89.17C242.1,89.25 242.6,89.32 243.1,89.4C243.6,89.48 244.1,89.56 244.6,89.64C245.1,89.72 245.6,89.8 246.1,89.9C246.6,89.99 247.1,90.08 247.6,90.18C248.1,90.28 248.6,90.39 249.1,90.5C249.6,90.61 250.1,90.73 250.6,90.84C251.1,90.96 251.6,91.08 252.1,91.19C252.6,91.31 253.1,91.43 253.6,91.54C254.1,91.66 254.6,91.77 255.1,91.89C255.6,92 256.1,92.11 256.6,92.22C257.1,92.33 257.6,92.43 258.1,92.53C258.6,92.63 259.1,92.72 259.6,92.81C260.1,92.9 260.6,92.99 261.1,93.07C261.6,93.16 262.1,93.24 262.6,93.33C263.1,93.41 263.6,93.49 264.1,93.58C264.6,93.66 265.1,93.74 265.6,93.82C266.1,93.91 266.6,93.99 267.1,94.07C267.6,94.15 268.1,94.23 268.6,94.3C269.1,94.38 269.6,94.46 270.1,94.54C270.6,94.62 271.1,94.69 271.6,94.76C272.1,94.84 272.6,94.91 273.1,94.97C273.6,95.04 274.1,95.1 274.6,95.16C275.1,95.22 275.6,95.28 276.1,95.33C276.6,95.39 277.1,95.44 277.6,95.49C278.1,95.54 278.78,95.61 279.1,95.65C279.42,95.68 279.43,95.69 279.5,95.7" fill="none" stroke="#FF0000" stroke-width="1.6" stroke-linejoin="round"/>
</g>
<line x1="26.3" x2="27.9" y1="101.75" y2="101.75" stroke="#333" stroke-width="1.1"/>
<line x1="26.3" x2="27.9" y1="81.44" y2="81.44" stroke="#333" stroke-width="1.1"/>
<line x1="26.3" x2="27.9" y1="61.12" y2="61.12" stroke="#333" stroke-width="1.1"/>
<line x1="26.3" x2="27.9" y1="40.8" y2="40.8" stroke="#333" stroke-width="1.1"/>
<line x1="26.3" x2="27.9" y1="20.49" y2="20.49" stroke="#333" stroke-width="1.1"/>
<line x1="34.1" x2="34.1" y1="106.3" y2="108.3" stroke="#333" stroke-width="1.1"/>
<line x1="91.9" x2="91.9" y1="106.3" y2="108.3" stroke="#333" stroke-width="1.1"/>
<line x1="149.7" x2="149.7" y1="106.3" y2="108.3" stroke="#333" stroke-width="1.1"/>
<line x1="207.5" x2="207.5" y1="106.3" y2="108.3" stroke="#333" stroke-width="1.1"/>
<line x1="265.3" x2="265.3" y1="106.3" y2="108.3" stroke="#333" stroke-width="1.1"/>
<rect x="306" y="47.4" width="7.9" height="7.65" fill="#F2F2F2"/>
<rect x="306.4" y="47.8" width="7.1" height="6.85" fill="#00FF00" fill-opacity="0.75" stroke="#00FF00" stroke-width="0.8"/>
<rect x="306" y="55.05" width="7.9" height="7.65" fill="#F2F2F2"/>
<rect x="306.4" y="55.45" width="7.1" height="6.85" fill="#0000FF" fill-opacity="0.75" stroke="#0000FF" stroke-width="0.8"/>
<rect x="306" y="62.7" width="7.9" height="7.65" fill="#F2F2F2"/>
<rect x="306.4" y="63.1" width="7.1" height="6.85" fill="#FF0000" fill-opacity="0.75" stroke="#FF0000" stroke-width="0.8"/>
<rect x="370.5" y="1.5" width="270.4" height="104.8" fill="#EBEBEB"/>
<line x1="370.5" x2="640.9" y1="90.05" y2="90.05" stroke="#fff" stroke-width="0.55"/>
<line x1="370.5" x2="640.9" y1="66.95" y2="66.95" stroke="#fff" stroke-width="0.55"/>
<line x1="370.5" x2="640.9" y1="43.85" y2="43.85" stroke="#fff" stroke-width="0.55"/>
<line x1="370.5" x2="640.9" y1="20.75" y2="20.75" stroke="#fff" stroke-width="0.55"/>
<line y1="1.5" y2="106.3" x1="435.37" x2="435.37" stroke="#fff" stroke-width="0.55"/>
<line y1="1.5" y2="106.3" x1="505.71" x2="505.71" stroke="#fff" stroke-width="0.55"/>
<line y1="1.5" y2="106.3" x1="576.05" x2="576.05" stroke="#fff" stroke-width="0.55"/>
<line x1="370.5" x2="640.9" y1="101.6" y2="101.6" stroke="#fff" stroke-width="1.05"/>
<line x1="370.5" x2="640.9" y1="78.5" y2="78.5" stroke="#fff" stroke-width="1.05"/>
<line x1="370.5" x2="640.9" y1="55.4" y2="55.4" stroke="#fff" stroke-width="1.05"/>
<line x1="370.5" x2="640.9" y1="32.3" y2="32.3" stroke="#fff" stroke-width="1.05"/>
<line x1="370.5" x2="640.9" y1="9.2" y2="9.2" stroke="#fff" stroke-width="1.05"/>
<line y1="1.5" y2="106.3" x1="400.2" x2="400.2" stroke="#fff" stroke-width="1.05"/>
<line y1="1.5" y2="106.3" x1="470.54" x2="470.54" stroke="#fff" stroke-width="1.05"/>
<line y1="1.5" y2="106.3" x1="540.88" x2="540.88" stroke="#fff" stroke-width="1.05"/>
<line y1="1.5" y2="106.3" x1="611.22" x2="611.22" stroke="#fff" stroke-width="1.05"/>
<clipPath id="c2"><rect x="370.5" y="1.5" width="270.4" height="104.8"/></clipPath>
<g clip-path="url(#c2)">
<g fill="#00FF00" fill-opacity="0.5"><rect x="382.7" y="74.3" width="11.7" height="27.3"/><rect x="417.81" y="47" width="11.7" height="54.6"/><rect x="452.93" y="6.3" width="11.7" height="95.3"/><rect x="488.04" y="60.7" width="11.71" height="40.9"/><rect x="558.27" y="89.39" width="11.71" height="12.21"/></g>
<g fill="#0000FF" fill-opacity="0.5"><rect x="429.52" y="24.6" width="11.7" height="77"/><rect x="464.63" y="24.6" width="11.7" height="77"/><rect x="569.98" y="86.2" width="11.7" height="15.4"/><rect x="499.75" y="60.83" width="11.7" height="40.77"/><rect x="534.87" y="85.96" width="11.7" height="15.64"/></g>
<g fill="#FF0000" fill-opacity="0.5"><rect x="476.34" y="21.5" width="11.7" height="80.1"/><rect x="511.45" y="57.2" width="11.7" height="44.4"/><rect x="546.57" y="57.2" width="11.71" height="44.4"/><rect x="581.68" y="84" width="11.71" height="17.6"/><rect x="616.8" y="92.9" width="11.71" height="8.7"/><rect x="406.11" y="84.16" width="11.7" height="17.44"/><rect x="441.22" y="83.6" width="11.71" height="18"/></g>
<path d="M405.1,62.6C405.35,62.28 406.1,61.31 406.6,60.67C407.1,60.03 407.6,59.38 408.1,58.75C408.6,58.11 409.1,57.48 409.6,56.87C410.1,56.26 410.6,55.68 411.1,55.11C411.6,54.54 412.1,53.99 412.6,53.44C413.1,52.89 413.6,52.34 414.1,51.81C414.6,51.27 415.1,50.74 415.6,50.22C416.1,49.71 416.6,49.2 417.1,48.7C417.6,48.2 418.1,47.7 418.6,47.21C419.1,46.73 419.6,46.25 420.1,45.81C420.6,45.36 421.1,44.94 421.6,44.53C422.1,44.12 422.6,43.72 423.1,43.33C423.6,42.94 424.1,42.55 424.6,42.21C425.1,41.86 425.6,41.55 426.1,41.26C426.6,40.97 427.1,40.71 427.6,40.45C428.1,40.19 428.6,39.93 429.1,39.7C429.6,39.47 430.1,39.26 430.6,39.08C431.1,38.89 431.6,38.75 432.1,38.59C432.6,38.44 433.1,38.29 433.6,38.15C434.1,38 434.6,37.85 435.1,37.72C435.6,37.58 436.1,37.45 436.6,37.34C437.1,37.22 437.6,37.13 438.1,37.03C438.6,36.94 439.1,36.86 439.6,36.77C440.1,36.67 440.6,36.58 441.1,36.46C441.6,36.34 442.1,36.2 442.6,36.06C443.1,35.92 443.6,35.76 444.1,35.61C444.6,35.46 445.1,35.3 445.6,35.17C446.1,35.03 446.6,34.9 447.1,34.79C447.6,34.67 448.1,34.57 448.6,34.47C449.1,34.37 449.6,34.27 450.1,34.18C450.6,34.08 451.1,33.99 451.6,33.9C452.1,33.82 452.6,33.75 453.1,33.68C453.6,33.62 454.1,33.56 454.6,33.5C455.1,33.44 455.6,33.39 456.1,33.33C456.6,33.28 457.1,33.22 457.6,33.17C458.1,33.12 458.6,33.08 459.1,33.05C459.6,33.02 460.1,33.01 460.6,33.01C461.1,33 461.6,33 462.1,33C462.6,33 463.1,33.01 463.6,33.02C464.1,33.03 464.6,33.05 465.1,33.07C465.6,33.09 466.1,33.11 466.6,33.14C467.1,33.16 467.6,33.18 468.1,33.22C468.6,33.25 469.1,33.28 469.6,33.35C470.1,33.42 470.6,33.52 471.1,33.64C471.6,33.75 472.1,33.9 472.6,34.03C473.1,34.17 473.6,34.31 474.1,34.46C474.6,34.6 475.1,34.74 475.6,34.92C476.1,35.09 476.6,35.29 477.1,35.51C477.6,35.73 478.1,35.99 478.6,36.24C479.1,36.49 479.6,36.75 480.1,37.01C480.6,37.27 481.1,37.52 481.6,37.79C482.1,38.07 482.6,38.35 483.1,38.67C483.6,38.99 484.1,39.34 484.6,39.69C485.1,40.05 485.6,40.42 486.1,40.79C486.6,41.16 487.1,41.53 487.6,41.9C488.1,42.27 488.6,42.63 489.1,43.01C489.6,43.38 490.1,43.74 490.6,44.13C491.1,44.51 491.6,44.9 492.1,45.3C492.6,45.71 493.1,46.14 493.6,46.56C494.1,46.99 494.6,47.42 495.1,47.86C495.6,48.29 496.1,48.73 496.6,49.17C497.1,49.61 497.6,50.06 498.1,50.51C498.6,50.95 499.1,51.41 499.6,51.86C500.1,52.32 500.6,52.77 501.1,53.23C501.6,53.68 502.1,54.14 502.6,54.59C503.1,55.05 503.6,55.51 504.1,55.97C504.6,56.43 505.1,56.9 505.6,57.36C506.1,57.83 506.6,58.29 507.1,58.76C507.6,59.22 508.1,59.69 508.6,60.15C509.1,60.62 509.6,61.08 510.1,61.55C510.6,62.02 511.1,62.49 511.6,62.98C512.1,63.47 512.6,63.98 513.1,64.49C513.6,65.01 514.1,65.56 514.6,66.09C515.1,66.63 515.6,67.17 516.1,67.71C516.6,68.25 517.1,68.79 517.6,69.33C518.1,69.87 518.6,70.41 519.1,70.94C519.6,71.48 520.1,72.03 520.6,72.56C521.1,73.1 521.6,73.65 522.1,74.16C522.6,74.68 523.1,75.19 523.6,75.64C524.1,76.1 524.6,76.5 525.1,76.9C525.6,77.3 526.1,77.67 526.6,78.04C527.1,78.42 527.6,78.79 528.1,79.17C528.6,79.54 529.1,79.91 529.6,80.29C530.1,80.66 530.6,81.04 531.1,81.41C531.6,81.78 532.1,82.16 532.6,82.53C533.1,82.89 533.6,83.28 534.1,83.6C534.6,83.93 535.1,84.23 535.6,84.48C536.1,84.74 536.6,84.93 537.1,85.13C537.6,85.33 538.1,85.5 538.6,85.69C539.1,85.87 539.6,86.06 540.1,86.24C540.6,86.43 541.1,86.61 541.6,86.79C542.1,86.98 542.6,87.16 543.1,87.35C543.6,87.53 544.1,87.72 544.6,87.89C545.1,88.07 545.6,88.25 546.1,88.39C546.6,88.54 547.1,88.66 547.6,88.77C548.1,88.88 548.6,88.96 549.1,89.05C549.6,89.14 550.1,89.23 550.6,89.31C551.1,89.4 551.6,89.49 552.1,89.57C552.6,89.66 553.1,89.75 553.6,89.83C554.1,89.92 554.6,90.01 555.1,90.1C555.6,90.18 556.1,90.27 556.6,90.35C557.1,90.43 557.6,90.51 558.1,90.58C558.6,90.64 559.1,90.7 559.6,90.75C560.1,90.81 560.6,90.85 561.1,90.9C561.6,90.95 562.1,91 562.6,91.05C563.1,91.1 563.6,91.15 564.1,91.2C564.6,91.25 565.1,91.3 565.6,91.35C566.1,91.4 566.6,91.44 567.1,91.49C567.6,91.54 568.1,91.59 568.6,91.64C569.1,91.69 569.6,91.74 570.1,91.79C570.6,91.84 571.1,91.88 571.6,91.94C572.1,91.99 572.6,92.03 573.1,92.1C573.6,92.16 574.1,92.24 574.6,92.33C575.1,92.42 575.6,92.54 576.1,92.66C576.6,92.78 577.1,92.91 577.6,93.03C578.1,93.16 578.6,93.28 579.1,93.41C579.6,93.53 580.1,93.66 580.6,93.79C581.1,93.91 581.6,94.04 582.1,94.16C582.6,94.29 583.1,94.42 583.6,94.54C584.1,94.67 584.6,94.79 585.1,94.92C585.6,95.04 586.1,95.17 586.6,95.3C587.1,95.42 587.6,95.54 588.1,95.66C588.6,95.78 589.1,95.89 589.6,96C590.1,96.1 590.6,96.2 591.1,96.31C591.6,96.41 592.1,96.51 592.6,96.61C593.1,96.71 593.6,96.81 594.1,96.92C594.6,97.02 595.1,97.12 595.6,97.22C596.1,97.32 596.6,97.42 597.1,97.52C597.6,97.63 598.1,97.73 598.6,97.83C599.1,97.93 599.6,98.03 600.1,98.13C600.6,98.23 601.1,98.34 601.6,98.43C602.1,98.53 602.6,98.63 603.1,98.72C603.6,98.81 604.1,98.9 604.6,98.99C605.1,99.07 605.6,99.15 606.1,99.24C606.6,99.32 607.1,99.41 607.6,99.49C608.1,99.58 608.6,99.66 609.1,99.75C609.6,99.83 610.1,99.91 610.6,100C611.1,100.08 611.6,100.17 612.1,100.25C612.6,100.34 613.1,100.42 613.6,100.5C614.1,100.59 614.6,100.67 615.1,100.76C615.6,100.84 616.1,100.93 616.6,101.01C617.1,101.09 617.6,101.18 618.1,101.26C618.6,101.35 619.27,101.46 619.6,101.52C619.93,101.57 620.02,101.59 620.1,101.6L620.1,101.6L405.1,101.6Z" fill="#00FF00" fill-opacity="0.5"/>
<path d="M405.1,62.6C405.35,62.28 406.1,61.31 406.6,60.67C407.1,60.03 407.6,59.38 408.1,58.75C408.6,58.11 409.1,57.48 409.6,56.87C410.1,56.26 410.6,55.68 411.1,55.11C411.6,54.54 412.1,53.99 412.6,53.44C413.1,52.89 413.6,52.34 414.1,51.81C414.6,51.27 415.1,50.74 415.6,50.22C416.1,49.71 416.6,49.2 417.1,48.7C417.6,48.2 418.1,47.7 418.6,47.21C419.1,46.73 419.6,46.25 420.1,45.81C420.6,45.36 421.1,44.94 421.6,44.53C422.1,44.12 422.6,43.72 423.1,43.33C423.6,42.94 424.1,42.55 424.6,42.21C425.1,41.86 425.6,41.55 426.1,41.26C426.6,40.97 427.1,40.71 427.6,40.45C428.1,40.19 428.6,39.93 429.1,39.7C429.6,39.47 430.1,39.26 430.6,39.08C431.1,38.89 431.6,38.75 432.1,38.59C432.6,38.44 433.1,38.29 433.6,38.15C434.1,38 434.6,37.85 435.1,37.72C435.6,37.58 436.1,37.45 436.6,37.34C437.1,37.22 437.6,37.13 438.1,37.03C438.6,36.94 439.1,36.86 439.6,36.77C440.1,36.67 440.6,36.58 441.1,36.46C441.6,36.34 442.1,36.2 442.6,36.06C443.1,35.92 443.6,35.76 444.1,35.61C444.6,35.46 445.1,35.3 445.6,35.17C446.1,35.03 446.6,34.9 447.1,34.79C447.6,34.67 448.1,34.57 448.6,34.47C449.1,34.37 449.6,34.27 450.1,34.18C450.6,34.08 451.1,33.99 451.6,33.9C452.1,33.82 452.6,33.75 453.1,33.68C453.6,33.62 454.1,33.56 454.6,33.5C455.1,33.44 455.6,33.39 456.1,33.33C456.6,33.28 457.1,33.22 457.6,33.17C458.1,33.12 458.6,33.08 459.1,33.05C459.6,33.02 460.1,33.01 460.6,33.01C461.1,33 461.6,33 462.1,33C462.6,33 463.1,33.01 463.6,33.02C464.1,33.03 464.6,33.05 465.1,33.07C465.6,33.09 466.1,33.11 466.6,33.14C467.1,33.16 467.6,33.18 468.1,33.22C468.6,33.25 469.1,33.28 469.6,33.35C470.1,33.42 470.6,33.52 471.1,33.64C471.6,33.75 472.1,33.9 472.6,34.03C473.1,34.17 473.6,34.31 474.1,34.46C474.6,34.6 475.1,34.74 475.6,34.92C476.1,35.09 476.6,35.29 477.1,35.51C477.6,35.73 478.1,35.99 478.6,36.24C479.1,36.49 479.6,36.75 480.1,37.01C480.6,37.27 481.1,37.52 481.6,37.79C482.1,38.07 482.6,38.35 483.1,38.67C483.6,38.99 484.1,39.34 484.6,39.69C485.1,40.05 485.6,40.42 486.1,40.79C486.6,41.16 487.1,41.53 487.6,41.9C488.1,42.27 488.6,42.63 489.1,43.01C489.6,43.38 490.1,43.74 490.6,44.13C491.1,44.51 491.6,44.9 492.1,45.3C492.6,45.71 493.1,46.14 493.6,46.56C494.1,46.99 494.6,47.42 495.1,47.86C495.6,48.29 496.1,48.73 496.6,49.17C497.1,49.61 497.6,50.06 498.1,50.51C498.6,50.95 499.1,51.41 499.6,51.86C500.1,52.32 500.6,52.77 501.1,53.23C501.6,53.68 502.1,54.14 502.6,54.59C503.1,55.05 503.6,55.51 504.1,55.97C504.6,56.43 505.1,56.9 505.6,57.36C506.1,57.83 506.6,58.29 507.1,58.76C507.6,59.22 508.1,59.69 508.6,60.15C509.1,60.62 509.6,61.08 510.1,61.55C510.6,62.02 511.1,62.49 511.6,62.98C512.1,63.47 512.6,63.98 513.1,64.49C513.6,65.01 514.1,65.56 514.6,66.09C515.1,66.63 515.6,67.17 516.1,67.71C516.6,68.25 517.1,68.79 517.6,69.33C518.1,69.87 518.6,70.41 519.1,70.94C519.6,71.48 520.1,72.03 520.6,72.56C521.1,73.1 521.6,73.65 522.1,74.16C522.6,74.68 523.1,75.19 523.6,75.64C524.1,76.1 524.6,76.5 525.1,76.9C525.6,77.3 526.1,77.67 526.6,78.04C527.1,78.42 527.6,78.79 528.1,79.17C528.6,79.54 529.1,79.91 529.6,80.29C530.1,80.66 530.6,81.04 531.1,81.41C531.6,81.78 532.1,82.16 532.6,82.53C533.1,82.89 533.6,83.28 534.1,83.6C534.6,83.93 535.1,84.23 535.6,84.48C536.1,84.74 536.6,84.93 537.1,85.13C537.6,85.33 538.1,85.5 538.6,85.69C539.1,85.87 539.6,86.06 540.1,86.24C540.6,86.43 541.1,86.61 541.6,86.79C542.1,86.98 542.6,87.16 543.1,87.35C543.6,87.53 544.1,87.72 544.6,87.89C545.1,88.07 545.6,88.25 546.1,88.39C546.6,88.54 547.1,88.66 547.6,88.77C548.1,88.88 548.6,88.96 549.1,89.05C549.6,89.14 550.1,89.23 550.6,89.31C551.1,89.4 551.6,89.49 552.1,89.57C552.6,89.66 553.1,89.75 553.6,89.83C554.1,89.92 554.6,90.01 555.1,90.1C555.6,90.18 556.1,90.27 556.6,90.35C557.1,90.43 557.6,90.51 558.1,90.58C558.6,90.64 559.1,90.7 559.6,90.75C560.1,90.81 560.6,90.85 561.1,90.9C561.6,90.95 562.1,91 562.6,91.05C563.1,91.1 563.6,91.15 564.1,91.2C564.6,91.25 565.1,91.3 565.6,91.35C566.1,91.4 566.6,91.44 567.1,91.49C567.6,91.54 568.1,91.59 568.6,91.64C569.1,91.69 569.6,91.74 570.1,91.79C570.6,91.84 571.1,91.88 571.6,91.94C572.1,91.99 572.6,92.03 573.1,92.1C573.6,92.16 574.1,92.24 574.6,92.33C575.1,92.42 575.6,92.54 576.1,92.66C576.6,92.78 577.1,92.91 577.6,93.03C578.1,93.16 578.6,93.28 579.1,93.41C579.6,93.53 580.1,93.66 580.6,93.79C581.1,93.91 581.6,94.04 582.1,94.16C582.6,94.29 583.1,94.42 583.6,94.54C584.1,94.67 584.6,94.79 585.1,94.92C585.6,95.04 586.1,95.17 586.6,95.3C587.1,95.42 587.6,95.54 588.1,95.66C588.6,95.78 589.1,95.89 589.6,96C590.1,96.1 590.6,96.2 591.1,96.31C591.6,96.41 592.1,96.51 592.6,96.61C593.1,96.71 593.6,96.81 594.1,96.92C594.6,97.02 595.1,97.12 595.6,97.22C596.1,97.32 596.6,97.42 597.1,97.52C597.6,97.63 598.1,97.73 598.6,97.83C599.1,97.93 599.6,98.03 600.1,98.13C600.6,98.23 601.1,98.34 601.6,98.43C602.1,98.53 602.6,98.63 603.1,98.72C603.6,98.81 604.1,98.9 604.6,98.99C605.1,99.07 605.6,99.15 606.1,99.24C606.6,99.32 607.1,99.41 607.6,99.49C608.1,99.58 608.6,99.66 609.1,99.75C609.6,99.83 610.1,99.91 610.6,100C611.1,100.08 611.6,100.17 612.1,100.25C612.6,100.34 613.1,100.42 613.6,100.5C614.1,100.59 614.6,100.67 615.1,100.76C615.6,100.84 616.1,100.93 616.6,101.01C617.1,101.09 617.6,101.18 618.1,101.26C618.6,101.35 619.27,101.46 619.6,101.52C619.93,101.57 620.02,101.59 620.1,101.6" fill="none" stroke="#00FF00" stroke-width="1.6" stroke-linejoin="round"/>
<path d="M405.1,88.9C405.35,88.72 406.1,88.19 406.6,87.83C407.1,87.48 407.6,87.13 408.1,86.77C408.6,86.41 409.1,86.07 409.6,85.7C410.1,85.33 410.6,84.98 411.1,84.54C411.6,84.1 412.1,83.61 412.6,83.04C413.1,82.48 413.6,81.81 414.1,81.17C414.6,80.52 415.1,79.84 415.6,79.16C416.1,78.49 416.6,77.83 417.1,77.13C417.6,76.43 418.1,75.73 418.6,74.96C419.1,74.19 419.6,73.36 420.1,72.53C420.6,71.69 421.1,70.8 421.6,69.94C422.1,69.07 422.6,68.19 423.1,67.32C423.6,66.45 424.1,65.58 424.6,64.71C425.1,63.84 425.6,62.98 426.1,62.13C426.6,61.27 427.1,60.41 427.6,59.56C428.1,58.71 428.6,57.85 429.1,57C429.6,56.15 430.1,55.29 430.6,54.46C431.1,53.62 431.6,52.79 432.1,51.98C432.6,51.17 433.1,50.38 433.6,49.58C434.1,48.79 434.6,48 435.1,47.21C435.6,46.42 436.1,45.62 436.6,44.82C437.1,44.03 437.6,43.22 438.1,42.42C438.6,41.61 439.1,40.8 439.6,40C440.1,39.2 440.6,38.38 441.1,37.6C441.6,36.82 442.1,36.05 442.6,35.31C443.1,34.56 443.6,33.86 444.1,33.15C444.6,32.44 445.1,31.74 445.6,31.04C446.1,30.34 446.6,29.63 447.1,28.95C447.6,28.27 448.1,27.58 448.6,26.98C449.1,26.39 449.6,25.86 450.1,25.37C450.6,24.89 451.1,24.5 451.6,24.09C452.1,23.67 452.6,23.28 453.1,22.88C453.6,22.48 454.1,22.07 454.6,21.7C455.1,21.34 455.6,20.97 456.1,20.69C456.6,20.4 457.1,20.19 457.6,19.98C458.1,19.78 458.6,19.63 459.1,19.47C459.6,19.31 460.1,19.14 460.6,19.03C461.1,18.91 461.6,18.81 462.1,18.77C462.6,18.73 463.1,18.76 463.6,18.79C464.1,18.82 464.6,18.88 465.1,18.97C465.6,19.06 466.1,19.18 466.6,19.34C467.1,19.5 467.6,19.72 468.1,19.93C468.6,20.13 469.1,20.36 469.6,20.59C470.1,20.83 470.6,21.07 471.1,21.34C471.6,21.61 472.1,21.91 472.6,22.21C473.1,22.5 473.6,22.81 474.1,23.12C474.6,23.42 475.1,23.72 475.6,24.04C476.1,24.35 476.6,24.65 477.1,24.98C477.6,25.32 478.1,25.67 478.6,26.05C479.1,26.43 479.6,26.84 480.1,27.25C480.6,27.65 481.1,28.07 481.6,28.49C482.1,28.9 482.6,29.31 483.1,29.73C483.6,30.15 484.1,30.56 484.6,30.98C485.1,31.4 485.6,31.83 486.1,32.28C486.6,32.72 487.1,33.19 487.6,33.66C488.1,34.13 488.6,34.62 489.1,35.1C489.6,35.58 490.1,36.07 490.6,36.55C491.1,37.03 491.6,37.51 492.1,38C492.6,38.48 493.1,38.96 493.6,39.46C494.1,39.95 494.6,40.44 495.1,40.96C495.6,41.47 496.1,42 496.6,42.53C497.1,43.07 497.6,43.61 498.1,44.15C498.6,44.69 499.1,45.24 499.6,45.79C500.1,46.35 500.6,46.91 501.1,47.49C501.6,48.06 502.1,48.64 502.6,49.21C503.1,49.79 503.6,50.37 504.1,50.92C504.6,51.46 505.1,51.99 505.6,52.49C506.1,52.99 506.6,53.45 507.1,53.92C507.6,54.39 508.1,54.84 508.6,55.3C509.1,55.76 509.6,56.21 510.1,56.68C510.6,57.14 511.1,57.6 511.6,58.09C512.1,58.58 512.6,59.1 513.1,59.62C513.6,60.15 514.1,60.7 514.6,61.25C515.1,61.8 515.6,62.35 516.1,62.91C516.6,63.46 517.1,64.01 517.6,64.58C518.1,65.14 518.6,65.71 519.1,66.28C519.6,66.86 520.1,67.44 520.6,68.02C521.1,68.59 521.6,69.19 522.1,69.74C522.6,70.3 523.1,70.85 523.6,71.35C524.1,71.86 524.6,72.31 525.1,72.76C525.6,73.21 526.1,73.62 526.6,74.05C527.1,74.48 527.6,74.9 528.1,75.33C528.6,75.75 529.1,76.18 529.6,76.6C530.1,77.02 530.6,77.46 531.1,77.87C531.6,78.29 532.1,78.72 532.6,79.08C533.1,79.45 533.6,79.77 534.1,80.04C534.6,80.3 535.1,80.48 535.6,80.68C536.1,80.87 536.6,81.03 537.1,81.2C537.6,81.38 538.1,81.55 538.6,81.72C539.1,81.9 539.6,82.07 540.1,82.26C540.6,82.44 541.1,82.63 541.6,82.83C542.1,83.02 542.6,83.21 543.1,83.41C543.6,83.6 544.1,83.8 544.6,83.99C545.1,84.19 545.6,84.38 546.1,84.57C546.6,84.75 547.1,84.94 547.6,85.1C548.1,85.26 548.6,85.4 549.1,85.54C549.6,85.67 550.1,85.79 550.6,85.92C551.1,86.04 551.6,86.16 552.1,86.29C552.6,86.41 553.1,86.53 553.6,86.65C554.1,86.77 554.6,86.89 555.1,86.99C555.6,87.09 556.1,87.17 556.6,87.25C557.1,87.32 557.6,87.39 558.1,87.45C558.6,87.52 559.1,87.59 559.6,87.65C560.1,87.72 560.6,87.79 561.1,87.85C561.6,87.91 562.1,87.97 562.6,88.01C563.1,88.05 563.6,88.08 564.1,88.1C564.6,88.12 565.1,88.12 565.6,88.13C566.1,88.14 566.6,88.15 567.1,88.15C567.6,88.16 568.1,88.17 568.6,88.17C569.1,88.18 569.6,88.19 570.1,88.2C570.6,88.21 571.1,88.22 571.6,88.24C572.1,88.26 572.6,88.27 573.1,88.29C573.6,88.31 574.1,88.33 574.6,88.35C575.1,88.37 575.6,88.39 576.1,88.41C576.6,88.43 577.1,88.45 577.6,88.48C578.1,88.5 578.6,88.53 579.1,88.56C579.6,88.6 580.1,88.64 580.6,88.67C581.1,88.71 581.6,88.75 582.1,88.79C582.6,88.83 583.1,88.87 583.6,88.91C584.1,88.95 584.6,88.99 585.1,89.05C585.6,89.11 586.1,89.17 586.6,89.26C587.1,89.34 587.6,89.44 588.1,89.54C588.6,89.64 589.1,89.74 589.6,89.85C590.1,89.95 590.6,90.06 591.1,90.16C591.6,90.26 592.1,90.37 592.6,90.48C593.1,90.59 593.6,90.7 594.1,90.82C594.6,90.93 595.1,91.06 595.6,91.18C596.1,91.31 596.6,91.44 597.1,91.56C597.6,91.69 598.1,91.82 598.6,91.95C599.1,92.09 599.6,92.23 600.1,92.4C600.6,92.56 601.1,92.74 601.6,92.93C602.1,93.11 602.6,93.31 603.1,93.51C603.6,93.7 604.1,93.9 604.6,94.09C605.1,94.28 605.6,94.48 606.1,94.66C606.6,94.84 607.1,95.02 607.6,95.18C608.1,95.34 608.6,95.48 609.1,95.63C609.6,95.77 610.1,95.91 610.6,96.05C611.1,96.19 611.6,96.33 612.1,96.47C612.6,96.61 613.1,96.75 613.6,96.89C614.1,97.03 614.6,97.17 615.1,97.3C615.6,97.44 616.1,97.58 616.6,97.72C617.1,97.86 617.6,98 618.1,98.14C618.6,98.28 619.27,98.47 619.6,98.56C619.93,98.65 620.02,98.68 620.1,98.7L620.1,101.6L405.1,101.6Z" fill="#0000FF" fill-opacity="0.5"/>
<path d="M405.1,88.9C405.35,88.72 406.1,88.19 406.6,87.83C407.1,87.48 407.6,87.13 408.1,86.77C408.6,86.41 409.1,86.07 409.6,85.7C410.1,85.33 410.6,84.98 411.1,84.54C411.6,84.1 412.1,83.61 412.6,83.04C413.1,82.48 413.6,81.81 414.1,81.17C414.6,80.52 415.1,79.84 415.6,79.16C416.1,78.49 416.6,77.83 417.1,77.13C417.6,76.43 418.1,75.73 418.6,74.96C419.1,74.19 419.6,73.36 420.1,72.53C420.6,71.69 421.1,70.8 421.6,69.94C422.1,69.07 422.6,68.19 423.1,67.32C423.6,66.45 424.1,65.58 424.6,64.71C425.1,63.84 425.6,62.98 426.1,62.13C426.6,61.27 427.1,60.41 427.6,59.56C428.1,58.71 428.6,57.85 429.1,57C429.6,56.15 430.1,55.29 430.6,54.46C431.1,53.62 431.6,52.79 432.1,51.98C432.6,51.17 433.1,50.38 433.6,49.58C434.1,48.79 434.6,48 435.1,47.21C435.6,46.42 436.1,45.62 436.6,44.82C437.1,44.03 437.6,43.22 438.1,42.42C438.6,41.61 439.1,40.8 439.6,40C440.1,39.2 440.6,38.38 441.1,37.6C441.6,36.82 442.1,36.05 442.6,35.31C443.1,34.56 443.6,33.86 444.1,33.15C444.6,32.44 445.1,31.74 445.6,31.04C446.1,30.34 446.6,29.63 447.1,28.95C447.6,28.27 448.1,27.58 448.6,26.98C449.1,26.39 449.6,25.86 450.1,25.37C450.6,24.89 451.1,24.5 451.6,24.09C452.1,23.67 452.6,23.28 453.1,22.88C453.6,22.48 454.1,22.07 454.6,21.7C455.1,21.34 455.6,20.97 456.1,20.69C456.6,20.4 457.1,20.19 457.6,19.98C458.1,19.78 458.6,19.63 459.1,19.47C459.6,19.31 460.1,19.14 460.6,19.03C461.1,18.91 461.6,18.81 462.1,18.77C462.6,18.73 463.1,18.76 463.6,18.79C464.1,18.82 464.6,18.88 465.1,18.97C465.6,19.06 466.1,19.18 466.6,19.34C467.1,19.5 467.6,19.72 468.1,19.93C468.6,20.13 469.1,20.36 469.6,20.59C470.1,20.83 470.6,21.07 471.1,21.34C471.6,21.61 472.1,21.91 472.6,22.21C473.1,22.5 473.6,22.81 474.1,23.12C474.6,23.42 475.1,23.72 475.6,24.04C476.1,24.35 476.6,24.65 477.1,24.98C477.6,25.32 478.1,25.67 478.6,26.05C479.1,26.43 479.6,26.84 480.1,27.25C480.6,27.65 481.1,28.07 481.6,28.49C482.1,28.9 482.6,29.31 483.1,29.73C483.6,30.15 484.1,30.56 484.6,30.98C485.1,31.4 485.6,31.83 486.1,32.28C486.6,32.72 487.1,33.19 487.6,33.66C488.1,34.13 488.6,34.62 489.1,35.1C489.6,35.58 490.1,36.07 490.6,36.55C491.1,37.03 491.6,37.51 492.1,38C492.6,38.48 493.1,38.96 493.6,39.46C494.1,39.95 494.6,40.44 495.1,40.96C495.6,41.47 496.1,42 496.6,42.53C497.1,43.07 497.6,43.61 498.1,44.15C498.6,44.69 499.1,45.24 499.6,45.79C500.1,46.35 500.6,46.91 501.1,47.49C501.6,48.06 502.1,48.64 502.6,49.21C503.1,49.79 503.6,50.37 504.1,50.92C504.6,51.46 505.1,51.99 505.6,52.49C506.1,52.99 506.6,53.45 507.1,53.92C507.6,54.39 508.1,54.84 508.6,55.3C509.1,55.76 509.6,56.21 510.1,56.68C510.6,57.14 511.1,57.6 511.6,58.09C512.1,58.58 512.6,59.1 513.1,59.62C513.6,60.15 514.1,60.7 514.6,61.25C515.1,61.8 515.6,62.35 516.1,62.91C516.6,63.46 517.1,64.01 517.6,64.58C518.1,65.14 518.6,65.71 519.1,66.28C519.6,66.86 520.1,67.44 520.6,68.02C521.1,68.59 521.6,69.19 522.1,69.74C522.6,70.3 523.1,70.85 523.6,71.35C524.1,71.86 524.6,72.31 525.1,72.76C525.6,73.21 526.1,73.62 526.6,74.05C527.1,74.48 527.6,74.9 528.1,75.33C528.6,75.75 529.1,76.18 529.6,76.6C530.1,77.02 530.6,77.46 531.1,77.87C531.6,78.29 532.1,78.72 532.6,79.08C533.1,79.45 533.6,79.77 534.1,80.04C534.6,80.3 535.1,80.48 535.6,80.68C536.1,80.87 536.6,81.03 537.1,81.2C537.6,81.38 538.1,81.55 538.6,81.72C539.1,81.9 539.6,82.07 540.1,82.26C540.6,82.44 541.1,82.63 541.6,82.83C542.1,83.02 542.6,83.21 543.1,83.41C543.6,83.6 544.1,83.8 544.6,83.99C545.1,84.19 545.6,84.38 546.1,84.57C546.6,84.75 547.1,84.94 547.6,85.1C548.1,85.26 548.6,85.4 549.1,85.54C549.6,85.67 550.1,85.79 550.6,85.92C551.1,86.04 551.6,86.16 552.1,86.29C552.6,86.41 553.1,86.53 553.6,86.65C554.1,86.77 554.6,86.89 555.1,86.99C555.6,87.09 556.1,87.17 556.6,87.25C557.1,87.32 557.6,87.39 558.1,87.45C558.6,87.52 559.1,87.59 559.6,87.65C560.1,87.72 560.6,87.79 561.1,87.85C561.6,87.91 562.1,87.97 562.6,88.01C563.1,88.05 563.6,88.08 564.1,88.1C564.6,88.12 565.1,88.12 565.6,88.13C566.1,88.14 566.6,88.15 567.1,88.15C567.6,88.16 568.1,88.17 568.6,88.17C569.1,88.18 569.6,88.19 570.1,88.2C570.6,88.21 571.1,88.22 571.6,88.24C572.1,88.26 572.6,88.27 573.1,88.29C573.6,88.31 574.1,88.33 574.6,88.35C575.1,88.37 575.6,88.39 576.1,88.41C576.6,88.43 577.1,88.45 577.6,88.48C578.1,88.5 578.6,88.53 579.1,88.56C579.6,88.6 580.1,88.64 580.6,88.67C581.1,88.71 581.6,88.75 582.1,88.79C582.6,88.83 583.1,88.87 583.6,88.91C584.1,88.95 584.6,88.99 585.1,89.05C585.6,89.11 586.1,89.17 586.6,89.26C587.1,89.34 587.6,89.44 588.1,89.54C588.6,89.64 589.1,89.74 589.6,89.85C590.1,89.95 590.6,90.06 591.1,90.16C591.6,90.26 592.1,90.37 592.6,90.48C593.1,90.59 593.6,90.7 594.1,90.82C594.6,90.93 595.1,91.06 595.6,91.18C596.1,91.31 596.6,91.44 597.1,91.56C597.6,91.69 598.1,91.82 598.6,91.95C599.1,92.09 599.6,92.23 600.1,92.4C600.6,92.56 601.1,92.74 601.6,92.93C602.1,93.11 602.6,93.31 603.1,93.51C603.6,93.7 604.1,93.9 604.6,94.09C605.1,94.28 605.6,94.48 606.1,94.66C606.6,94.84 607.1,95.02 607.6,95.18C608.1,95.34 608.6,95.48 609.1,95.63C609.6,95.77 610.1,95.91 610.6,96.05C611.1,96.19 611.6,96.33 612.1,96.47C612.6,96.61 613.1,96.75 613.6,96.89C614.1,97.03 614.6,97.17 615.1,97.3C615.6,97.44 616.1,97.58 616.6,97.72C617.1,97.86 617.6,98 618.1,98.14C618.6,98.28 619.27,98.47 619.6,98.56C619.93,98.65 620.02,98.68 620.1,98.7" fill="none" stroke="#0000FF" stroke-width="1.6" stroke-linejoin="round"/>
<path d="M405.1,83.6C405.35,83.44 406.1,82.96 406.6,82.64C407.1,82.32 407.6,82.01 408.1,81.69C408.6,81.37 409.1,81.05 409.6,80.73C410.1,80.41 410.6,80.09 411.1,79.78C411.6,79.46 412.1,79.14 412.6,78.83C413.1,78.51 413.6,78.2 414.1,77.88C414.6,77.57 415.1,77.26 415.6,76.94C416.1,76.63 416.6,76.32 417.1,76C417.6,75.69 418.1,75.38 418.6,75.06C419.1,74.75 419.6,74.43 420.1,74.12C420.6,73.81 421.1,73.49 421.6,73.18C422.1,72.86 422.6,72.55 423.1,72.24C423.6,71.92 424.1,71.61 424.6,71.29C425.1,70.98 425.6,70.66 426.1,70.35C426.6,70.04 427.1,69.72 427.6,69.41C428.1,69.09 428.6,68.78 429.1,68.45C429.6,68.12 430.1,67.78 430.6,67.42C431.1,67.07 431.6,66.7 432.1,66.33C432.6,65.96 433.1,65.58 433.6,65.21C434.1,64.83 434.6,64.46 435.1,64.09C435.6,63.71 436.1,63.34 436.6,62.96C437.1,62.59 437.6,62.22 438.1,61.84C438.6,61.47 439.1,61.09 439.6,60.72C440.1,60.35 440.6,59.98 441.1,59.62C441.6,59.25 442.1,58.9 442.6,58.54C443.1,58.19 443.6,57.84 444.1,57.49C444.6,57.14 445.1,56.8 445.6,56.45C446.1,56.1 446.6,55.75 447.1,55.41C447.6,55.06 448.1,54.71 448.6,54.36C449.1,54.02 449.6,53.67 450.1,53.32C450.6,52.97 451.1,52.63 451.6,52.28C452.1,51.93 452.6,51.59 453.1,51.24C453.6,50.9 454.1,50.55 454.6,50.21C455.1,49.87 455.6,49.51 456.1,49.18C456.6,48.85 457.1,48.51 457.6,48.22C458.1,47.93 458.6,47.68 459.1,47.45C459.6,47.22 460.1,47.03 460.6,46.83C461.1,46.63 461.6,46.43 462.1,46.25C462.6,46.06 463.1,45.88 463.6,45.73C464.1,45.58 464.6,45.47 465.1,45.37C465.6,45.26 466.1,45.2 466.6,45.12C467.1,45.04 467.6,44.97 468.1,44.9C468.6,44.83 469.1,44.75 469.6,44.7C470.1,44.64 470.6,44.6 471.1,44.58C471.6,44.57 472.1,44.58 472.6,44.59C473.1,44.61 473.6,44.63 474.1,44.66C474.6,44.69 475.1,44.7 475.6,44.75C476.1,44.79 476.6,44.83 477.1,44.91C477.6,44.99 478.1,45.1 478.6,45.21C479.1,45.32 479.6,45.45 480.1,45.58C480.6,45.7 481.1,45.82 481.6,45.96C482.1,46.1 482.6,46.23 483.1,46.4C483.6,46.57 484.1,46.77 484.6,46.99C485.1,47.2 485.6,47.44 486.1,47.67C486.6,47.9 487.1,48.14 487.6,48.37C488.1,48.61 488.6,48.84 489.1,49.09C489.6,49.33 490.1,49.57 490.6,49.82C491.1,50.08 491.6,50.34 492.1,50.59C492.6,50.85 493.1,51.11 493.6,51.36C494.1,51.62 494.6,51.86 495.1,52.1C495.6,52.33 496.1,52.55 496.6,52.76C497.1,52.98 497.6,53.19 498.1,53.4C498.6,53.61 499.1,53.82 499.6,54.03C500.1,54.24 500.6,54.44 501.1,54.65C501.6,54.87 502.1,55.07 502.6,55.29C503.1,55.51 503.6,55.74 504.1,55.97C504.6,56.21 505.1,56.46 505.6,56.7C506.1,56.95 506.6,57.2 507.1,57.45C507.6,57.7 508.1,57.95 508.6,58.2C509.1,58.45 509.6,58.71 510.1,58.95C510.6,59.19 511.1,59.43 511.6,59.64C512.1,59.85 512.6,60.03 513.1,60.19C513.6,60.35 514.1,60.47 514.6,60.61C515.1,60.74 515.6,60.86 516.1,60.99C516.6,61.12 517.1,61.25 517.6,61.37C518.1,61.5 518.6,61.63 519.1,61.76C519.6,61.88 520.1,62.01 520.6,62.14C521.1,62.26 521.6,62.4 522.1,62.51C522.6,62.62 523.1,62.73 523.6,62.81C524.1,62.89 524.6,62.94 525.1,62.99C525.6,63.04 526.1,63.07 526.6,63.11C527.1,63.14 527.6,63.18 528.1,63.21C528.6,63.25 529.1,63.28 529.6,63.32C530.1,63.35 530.6,63.39 531.1,63.42C531.6,63.46 532.1,63.49 532.6,63.53C533.1,63.56 533.6,63.59 534.1,63.63C534.6,63.66 535.1,63.7 535.6,63.73C536.1,63.77 536.6,63.8 537.1,63.84C537.6,63.88 538.1,63.91 538.6,63.95C539.1,63.99 539.6,64.03 540.1,64.07C540.6,64.11 541.1,64.16 541.6,64.2C542.1,64.24 542.6,64.28 543.1,64.32C543.6,64.36 544.1,64.4 544.6,64.44C545.1,64.49 545.6,64.52 546.1,64.58C546.6,64.63 547.1,64.68 547.6,64.76C548.1,64.84 548.6,64.95 549.1,65.06C549.6,65.17 550.1,65.29 550.6,65.42C551.1,65.54 551.6,65.66 552.1,65.79C552.6,65.91 553.1,66.03 553.6,66.17C554.1,66.3 554.6,66.44 555.1,66.62C555.6,66.8 556.1,67.01 556.6,67.24C557.1,67.47 557.6,67.73 558.1,67.99C558.6,68.24 559.1,68.5 559.6,68.76C560.1,69.01 560.6,69.27 561.1,69.53C561.6,69.79 562.1,70.04 562.6,70.31C563.1,70.58 563.6,70.86 564.1,71.14C564.6,71.41 565.1,71.7 565.6,71.99C566.1,72.27 566.6,72.56 567.1,72.84C567.6,73.13 568.1,73.41 568.6,73.7C569.1,73.99 569.6,74.28 570.1,74.58C570.6,74.89 571.1,75.2 571.6,75.52C572.1,75.85 572.6,76.19 573.1,76.52C573.6,76.86 574.1,77.2 574.6,77.53C575.1,77.87 575.6,78.21 576.1,78.55C576.6,78.88 577.1,79.22 577.6,79.54C578.1,79.86 578.6,80.17 579.1,80.46C579.6,80.76 580.1,81.03 580.6,81.31C581.1,81.59 581.6,81.87 582.1,82.14C582.6,82.42 583.1,82.7 583.6,82.97C584.1,83.24 584.6,83.52 585.1,83.77C585.6,84.02 586.1,84.26 586.6,84.47C587.1,84.69 587.6,84.87 588.1,85.06C588.6,85.25 589.1,85.43 589.6,85.61C590.1,85.79 590.6,85.97 591.1,86.15C591.6,86.34 592.1,86.52 592.6,86.7C593.1,86.89 593.6,87.07 594.1,87.26C594.6,87.44 595.1,87.63 595.6,87.82C596.1,88.01 596.6,88.21 597.1,88.39C597.6,88.58 598.1,88.78 598.6,88.96C599.1,89.14 599.6,89.32 600.1,89.48C600.6,89.64 601.1,89.78 601.6,89.93C602.1,90.07 602.6,90.2 603.1,90.34C603.6,90.47 604.1,90.61 604.6,90.74C605.1,90.87 605.6,91.01 606.1,91.14C606.6,91.28 607.1,91.41 607.6,91.55C608.1,91.68 608.6,91.82 609.1,91.95C609.6,92.09 610.1,92.22 610.6,92.35C611.1,92.48 611.6,92.61 612.1,92.73C612.6,92.85 613.1,92.97 613.6,93.09C614.1,93.21 614.6,93.32 615.1,93.44C615.6,93.55 616.1,93.67 616.6,93.79C617.1,93.9 617.6,94.02 618.1,94.13C618.6,94.25 619.27,94.41 619.6,94.48C619.93,94.56 620.02,94.58 620.1,94.6L620.1,101.6L405.1,101.6Z" fill="#FF0000" fill-opacity="0.5"/>
<path d="M405.1,83.6C405.35,83.44 406.1,82.96 406.6,82.64C407.1,82.32 407.6,82.01 408.1,81.69C408.6,81.37 409.1,81.05 409.6,80.73C410.1,80.41 410.6,80.09 411.1,79.78C411.6,79.46 412.1,79.14 412.6,78.83C413.1,78.51 413.6,78.2 414.1,77.88C414.6,77.57 415.1,77.26 415.6,76.94C416.1,76.63 416.6,76.32 417.1,76C417.6,75.69 418.1,75.38 418.6,75.06C419.1,74.75 419.6,74.43 420.1,74.12C420.6,73.81 421.1,73.49 421.6,73.18C422.1,72.86 422.6,72.55 423.1,72.24C423.6,71.92 424.1,71.61 424.6,71.29C425.1,70.98 425.6,70.66 426.1,70.35C426.6,70.04 427.1,69.72 427.6,69.41C428.1,69.09 428.6,68.78 429.1,68.45C429.6,68.12 430.1,67.78 430.6,67.42C431.1,67.07 431.6,66.7 432.1,66.33C432.6,65.96 433.1,65.58 433.6,65.21C434.1,64.83 434.6,64.46 435.1,64.09C435.6,63.71 436.1,63.34 436.6,62.96C437.1,62.59 437.6,62.22 438.1,61.84C438.6,61.47 439.1,61.09 439.6,60.72C440.1,60.35 440.6,59.98 441.1,59.62C441.6,59.25 442.1,58.9 442.6,58.54C443.1,58.19 443.6,57.84 444.1,57.49C444.6,57.14 445.1,56.8 445.6,56.45C446.1,56.1 446.6,55.75 447.1,55.41C447.6,55.06 448.1,54.71 448.6,54.36C449.1,54.02 449.6,53.67 450.1,53.32C450.6,52.97 451.1,52.63 451.6,52.28C452.1,51.93 452.6,51.59 453.1,51.24C453.6,50.9 454.1,50.55 454.6,50.21C455.1,49.87 455.6,49.51 456.1,49.18C456.6,48.85 457.1,48.51 457.6,48.22C458.1,47.93 458.6,47.68 459.1,47.45C459.6,47.22 460.1,47.03 460.6,46.83C461.1,46.63 461.6,46.43 462.1,46.25C462.6,46.06 463.1,45.88 463.6,45.73C464.1,45.58 464.6,45.47 465.1,45.37C465.6,45.26 466.1,45.2 466.6,45.12C467.1,45.04 467.6,44.97 468.1,44.9C468.6,44.83 469.1,44.75 469.6,44.7C470.1,44.64 470.6,44.6 471.1,44.58C471.6,44.57 472.1,44.58 472.6,44.59C473.1,44.61 473.6,44.63 474.1,44.66C474.6,44.69 475.1,44.7 475.6,44.75C476.1,44.79 476.6,44.83 477.1,44.91C477.6,44.99 478.1,45.1 478.6,45.21C479.1,45.32 479.6,45.45 480.1,45.58C480.6,45.7 481.1,45.82 481.6,45.96C482.1,46.1 482.6,46.23 483.1,46.4C483.6,46.57 484.1,46.77 484.6,46.99C485.1,47.2 485.6,47.44 486.1,47.67C486.6,47.9 487.1,48.14 487.6,48.37C488.1,48.61 488.6,48.84 489.1,49.09C489.6,49.33 490.1,49.57 490.6,49.82C491.1,50.08 491.6,50.34 492.1,50.59C492.6,50.85 493.1,51.11 493.6,51.36C494.1,51.62 494.6,51.86 495.1,52.1C495.6,52.33 496.1,52.55 496.6,52.76C497.1,52.98 497.6,53.19 498.1,53.4C498.6,53.61 499.1,53.82 499.6,54.03C500.1,54.24 500.6,54.44 501.1,54.65C501.6,54.87 502.1,55.07 502.6,55.29C503.1,55.51 503.6,55.74 504.1,55.97C504.6,56.21 505.1,56.46 505.6,56.7C506.1,56.95 506.6,57.2 507.1,57.45C507.6,57.7 508.1,57.95 508.6,58.2C509.1,58.45 509.6,58.71 510.1,58.95C510.6,59.19 511.1,59.43 511.6,59.64C512.1,59.85 512.6,60.03 513.1,60.19C513.6,60.35 514.1,60.47 514.6,60.61C515.1,60.74 515.6,60.86 516.1,60.99C516.6,61.12 517.1,61.25 517.6,61.37C518.1,61.5 518.6,61.63 519.1,61.76C519.6,61.88 520.1,62.01 520.6,62.14C521.1,62.26 521.6,62.4 522.1,62.51C522.6,62.62 523.1,62.73 523.6,62.81C524.1,62.89 524.6,62.94 525.1,62.99C525.6,63.04 526.1,63.07 526.6,63.11C527.1,63.14 527.6,63.18 528.1,63.21C528.6,63.25 529.1,63.28 529.6,63.32C530.1,63.35 530.6,63.39 531.1,63.42C531.6,63.46 532.1,63.49 532.6,63.53C533.1,63.56 533.6,63.59 534.1,63.63C534.6,63.66 535.1,63.7 535.6,63.73C536.1,63.77 536.6,63.8 537.1,63.84C537.6,63.88 538.1,63.91 538.6,63.95C539.1,63.99 539.6,64.03 540.1,64.07C540.6,64.11 541.1,64.16 541.6,64.2C542.1,64.24 542.6,64.28 543.1,64.32C543.6,64.36 544.1,64.4 544.6,64.44C545.1,64.49 545.6,64.52 546.1,64.58C546.6,64.63 547.1,64.68 547.6,64.76C548.1,64.84 548.6,64.95 549.1,65.06C549.6,65.17 550.1,65.29 550.6,65.42C551.1,65.54 551.6,65.66 552.1,65.79C552.6,65.91 553.1,66.03 553.6,66.17C554.1,66.3 554.6,66.44 555.1,66.62C555.6,66.8 556.1,67.01 556.6,67.24C557.1,67.47 557.6,67.73 558.1,67.99C558.6,68.24 559.1,68.5 559.6,68.76C560.1,69.01 560.6,69.27 561.1,69.53C561.6,69.79 562.1,70.04 562.6,70.31C563.1,70.58 563.6,70.86 564.1,71.14C564.6,71.41 565.1,71.7 565.6,71.99C566.1,72.27 566.6,72.56 567.1,72.84C567.6,73.13 568.1,73.41 568.6,73.7C569.1,73.99 569.6,74.28 570.1,74.58C570.6,74.89 571.1,75.2 571.6,75.52C572.1,75.85 572.6,76.19 573.1,76.52C573.6,76.86 574.1,77.2 574.6,77.53C575.1,77.87 575.6,78.21 576.1,78.55C576.6,78.88 577.1,79.22 577.6,79.54C578.1,79.86 578.6,80.17 579.1,80.46C579.6,80.76 580.1,81.03 580.6,81.31C581.1,81.59 581.6,81.87 582.1,82.14C582.6,82.42 583.1,82.7 583.6,82.97C584.1,83.24 584.6,83.52 585.1,83.77C585.6,84.02 586.1,84.26 586.6,84.47C587.1,84.69 587.6,84.87 588.1,85.06C588.6,85.25 589.1,85.43 589.6,85.61C590.1,85.79 590.6,85.97 591.1,86.15C591.6,86.34 592.1,86.52 592.6,86.7C593.1,86.89 593.6,87.07 594.1,87.26C594.6,87.44 595.1,87.63 595.6,87.82C596.1,88.01 596.6,88.21 597.1,88.39C597.6,88.58 598.1,88.78 598.6,88.96C599.1,89.14 599.6,89.32 600.1,89.48C600.6,89.64 601.1,89.78 601.6,89.93C602.1,90.07 602.6,90.2 603.1,90.34C603.6,90.47 604.1,90.61 604.6,90.74C605.1,90.87 605.6,91.01 606.1,91.14C606.6,91.28 607.1,91.41 607.6,91.55C608.1,91.68 608.6,91.82 609.1,91.95C609.6,92.09 610.1,92.22 610.6,92.35C611.1,92.48 611.6,92.61 612.1,92.73C612.6,92.85 613.1,92.97 613.6,93.09C614.1,93.21 614.6,93.32 615.1,93.44C615.6,93.55 616.1,93.67 616.6,93.79C617.1,93.9 617.6,94.02 618.1,94.13C618.6,94.25 619.27,94.41 619.6,94.48C619.93,94.56 620.02,94.58 620.1,94.6" fill="none" stroke="#FF0000" stroke-width="1.6" stroke-linejoin="round"/>
</g>
<line x1="368.9" x2="370.5" y1="101.6" y2="101.6" stroke="#333" stroke-width="1.1"/>
<line x1="368.9" x2="370.5" y1="78.5" y2="78.5" stroke="#333" stroke-width="1.1"/>
<line x1="368.9" x2="370.5" y1="55.4" y2="55.4" stroke="#333" stroke-width="1.1"/>
<line x1="368.9" x2="370.5" y1="32.3" y2="32.3" stroke="#333" stroke-width="1.1"/>
<line x1="368.9" x2="370.5" y1="9.2" y2="9.2" stroke="#333" stroke-width="1.1"/>
<line x1="400.2" x2="400.2" y1="106.3" y2="108.3" stroke="#333" stroke-width="1.1"/>
<line x1="470.54" x2="470.54" y1="106.3" y2="108.3" stroke="#333" stroke-width="1.1"/>
<line x1="540.88" x2="540.88" y1="106.3" y2="108.3" stroke="#333" stroke-width="1.1"/>
<line x1="611.22" x2="611.22" y1="106.3" y2="108.3" stroke="#333" stroke-width="1.1"/>
<rect x="652.6" y="47.4" width="7.9" height="7.65" fill="#F2F2F2"/>
<rect x="653" y="47.8" width="7.1" height="6.85" fill="#00FF00" fill-opacity="0.75" stroke="#00FF00" stroke-width="0.8"/>
<rect x="652.6" y="55.05" width="7.9" height="7.65" fill="#F2F2F2"/>
<rect x="653" y="55.45" width="7.1" height="6.85" fill="#0000FF" fill-opacity="0.75" stroke="#0000FF" stroke-width="0.8"/>
<rect x="652.6" y="62.7" width="7.9" height="7.65" fill="#F2F2F2"/>
<rect x="653" y="63.1" width="7.1" height="6.85" fill="#FF0000" fill-opacity="0.75" stroke="#FF0000" stroke-width="0.8"/>
<rect x="24" y="133.2" width="270.3" height="105.4" fill="#EBEBEB"/>
<line x1="24" x2="294.3" y1="221.92" y2="221.92" stroke="#fff" stroke-width="0.55"/>
<line x1="24" x2="294.3" y1="198.07" y2="198.07" stroke="#fff" stroke-width="0.55"/>
<line x1="24" x2="294.3" y1="174.22" y2="174.22" stroke="#fff" stroke-width="0.55"/>
<line x1="24" x2="294.3" y1="150.38" y2="150.38" stroke="#fff" stroke-width="0.55"/>
<line y1="133.2" y2="238.6" x1="82.4" x2="82.4" stroke="#fff" stroke-width="0.55"/>
<line y1="133.2" y2="238.6" x1="144" x2="144" stroke="#fff" stroke-width="0.55"/>
<line y1="133.2" y2="238.6" x1="205.6" x2="205.6" stroke="#fff" stroke-width="0.55"/>
<line y1="133.2" y2="238.6" x1="267.2" x2="267.2" stroke="#fff" stroke-width="0.55"/>
<line x1="24" x2="294.3" y1="233.85" y2="233.85" stroke="#fff" stroke-width="1.05"/>
<line x1="24" x2="294.3" y1="210" y2="210" stroke="#fff" stroke-width="1.05"/>
<line x1="24" x2="294.3" y1="186.15" y2="186.15" stroke="#fff" stroke-width="1.05"/>
<line x1="24" x2="294.3" y1="162.3" y2="162.3" stroke="#fff" stroke-width="1.05"/>
<line x1="24" x2="294.3" y1="138.45" y2="138.45" stroke="#fff" stroke-width="1.05"/>
<line y1="133.2" y2="238.6" x1="51.6" x2="51.6" stroke="#fff" stroke-width="1.05"/>
<line y1="133.2" y2="238.6" x1="113.2" x2="113.2" stroke="#fff" stroke-width="1.05"/>
<line y1="133.2" y2="238.6" x1="174.8" x2="174.8" stroke="#fff" stroke-width="1.05"/>
<line y1="133.2" y2="238.6" x1="236.4" x2="236.4" stroke="#fff" stroke-width="1.05"/>
<clipPath id="c3"><rect x="24" y="133.2" width="270.3" height="105.4"/></clipPath>
<g clip-path="url(#c3)">
<g fill="#00FF00" fill-opacity="0.5"><rect x="36.2" y="177.2" width="10.27" height="56.65"/><rect x="67.01" y="163.6" width="10.27" height="70.25"/><rect x="221.06" y="219.4" width="10.27" height="14.45"/><rect x="97.82" y="182.51" width="10.27" height="51.34"/><rect x="128.63" y="205.5" width="10.27" height="28.35"/></g>
<g fill="#0000FF" fill-opacity="0.5"><rect x="46.47" y="217.9" width="10.27" height="15.95"/><rect x="77.28" y="138.3" width="10.27" height="95.55"/><rect x="138.9" y="186.1" width="10.27" height="47.75"/><rect x="200.52" y="186.1" width="10.27" height="47.75"/><rect x="262.14" y="217.9" width="10.27" height="15.95"/><rect x="108.09" y="217.9" width="10.27" height="15.95"/><rect x="159.44" y="219" width="10.27" height="14.85"/></g>
<g fill="#FF0000" fill-opacity="0.5"><rect x="87.55" y="160.3" width="10.27" height="73.55"/><rect x="118.36" y="178.7" width="10.27" height="55.15"/><rect x="179.98" y="169.4" width="10.27" height="64.45"/><rect x="56.74" y="214.8" width="10.27" height="19.05"/><rect x="149.17" y="214.8" width="10.27" height="19.05"/></g>
<path d="M52.6,184.7C52.85,184.33 53.6,183.17 54.1,182.46C54.6,181.76 55.1,181.09 55.6,180.48C56.1,179.87 56.6,179.34 57.1,178.79C57.6,178.24 58.1,177.72 58.6,177.18C59.1,176.65 59.6,176.1 60.1,175.58C60.6,175.06 61.1,174.52 61.6,174.06C62.1,173.6 62.6,173.19 63.1,172.81C63.6,172.42 64.1,172.09 64.6,171.75C65.1,171.41 65.6,171.08 66.1,170.77C66.6,170.45 67.1,170.15 67.6,169.88C68.1,169.61 68.6,169.37 69.1,169.14C69.6,168.9 70.1,168.67 70.6,168.46C71.1,168.24 71.6,168.04 72.1,167.86C72.6,167.69 73.1,167.55 73.6,167.41C74.1,167.27 74.6,167.15 75.1,167.03C75.6,166.91 76.1,166.79 76.6,166.71C77.1,166.64 77.6,166.59 78.1,166.56C78.6,166.53 79.1,166.55 79.6,166.55C80.1,166.56 80.6,166.58 81.1,166.62C81.6,166.66 82.1,166.72 82.6,166.8C83.1,166.89 83.6,167.01 84.1,167.13C84.6,167.25 85.1,167.37 85.6,167.52C86.1,167.66 86.6,167.81 87.1,168C87.6,168.2 88.1,168.44 88.6,168.7C89.1,168.95 89.6,169.23 90.1,169.51C90.6,169.79 91.1,170.08 91.6,170.37C92.1,170.67 92.6,170.97 93.1,171.27C93.6,171.57 94.1,171.87 94.6,172.18C95.1,172.5 95.6,172.81 96.1,173.14C96.6,173.47 97.1,173.81 97.6,174.15C98.1,174.49 98.6,174.84 99.1,175.18C99.6,175.53 100.1,175.88 100.6,176.22C101.1,176.56 101.6,176.91 102.1,177.25C102.6,177.59 103.1,177.93 103.6,178.27C104.1,178.62 104.6,178.96 105.1,179.3C105.6,179.64 106.1,179.98 106.6,180.32C107.1,180.65 107.6,180.98 108.1,181.31C108.6,181.64 109.1,181.97 109.6,182.29C110.1,182.62 110.6,182.95 111.1,183.26C111.6,183.58 112.1,183.9 112.6,184.19C113.1,184.48 113.6,184.74 114.1,185C114.6,185.25 115.1,185.49 115.6,185.72C116.1,185.96 116.6,186.2 117.1,186.43C117.6,186.67 118.1,186.9 118.6,187.14C119.1,187.38 119.6,187.61 120.1,187.85C120.6,188.08 121.1,188.32 121.6,188.55C122.1,188.79 122.6,189.02 123.1,189.26C123.6,189.49 124.1,189.73 124.6,189.96C125.1,190.2 125.6,190.43 126.1,190.67C126.6,190.9 127.1,191.14 127.6,191.37C128.1,191.61 128.6,191.84 129.1,192.08C129.6,192.32 130.1,192.56 130.6,192.81C131.1,193.05 131.6,193.3 132.1,193.55C132.6,193.8 133.1,194.05 133.6,194.3C134.1,194.55 134.6,194.8 135.1,195.05C135.6,195.3 136.1,195.55 136.6,195.8C137.1,196.05 137.6,196.3 138.1,196.55C138.6,196.8 139.1,197.05 139.6,197.3C140.1,197.55 140.6,197.8 141.1,198.05C141.6,198.3 142.1,198.55 142.6,198.8C143.1,199.05 143.6,199.3 144.1,199.55C144.6,199.8 145.1,200.05 145.6,200.3C146.1,200.55 146.6,200.8 147.1,201.06C147.6,201.32 148.1,201.59 148.6,201.86C149.1,202.13 149.6,202.42 150.1,202.7C150.6,202.98 151.1,203.27 151.6,203.56C152.1,203.84 152.6,204.13 153.1,204.41C153.6,204.7 154.1,204.99 154.6,205.27C155.1,205.56 155.6,205.85 156.1,206.14C156.6,206.43 157.1,206.72 157.6,207.01C158.1,207.3 158.6,207.59 159.1,207.88C159.6,208.17 160.1,208.46 160.6,208.76C161.1,209.05 161.6,209.33 162.1,209.63C162.6,209.93 163.1,210.24 163.6,210.55C164.1,210.87 164.6,211.21 165.1,211.55C165.6,211.89 166.1,212.25 166.6,212.59C167.1,212.94 167.6,213.29 168.1,213.64C168.6,213.99 169.1,214.34 169.6,214.69C170.1,215.03 170.6,215.38 171.1,215.71C171.6,216.04 172.1,216.36 172.6,216.66C173.1,216.96 173.6,217.24 174.1,217.51C174.6,217.79 175.1,218.05 175.6,218.32C176.1,218.59 176.6,218.85 177.1,219.12C177.6,219.39 178.1,219.66 178.6,219.92C179.1,220.19 179.6,220.46 180.1,220.73C180.6,220.99 181.1,221.27 181.6,221.52C182.1,221.78 182.6,222.05 183.1,222.27C183.6,222.49 184.1,222.69 184.6,222.86C185.1,223.04 185.6,223.18 186.1,223.34C186.6,223.49 187.1,223.63 187.6,223.78C188.1,223.93 188.6,224.08 189.1,224.23C189.6,224.37 190.1,224.52 190.6,224.67C191.1,224.82 191.6,224.97 192.1,225.11C192.6,225.26 193.1,225.41 193.6,225.54C194.1,225.67 194.6,225.8 195.1,225.89C195.6,225.99 196.1,226.04 196.6,226.09C197.1,226.14 197.6,226.17 198.1,226.21C198.6,226.25 199.1,226.28 199.6,226.31C200.1,226.35 200.6,226.39 201.1,226.42C201.6,226.45 202.1,226.49 202.6,226.52C203.1,226.56 203.6,226.59 204.1,226.61C204.6,226.63 205.1,226.65 205.6,226.64C206.1,226.64 206.6,226.62 207.1,226.6C207.6,226.58 208.1,226.55 208.6,226.52C209.1,226.5 209.6,226.47 210.1,226.45C210.6,226.43 211.1,226.4 211.6,226.38C212.1,226.35 212.6,226.32 213.1,226.3C213.6,226.28 214.1,226.25 214.6,226.23C215.1,226.21 215.6,226.2 216.1,226.18C216.6,226.17 217.1,226.16 217.6,226.15C218.1,226.14 218.6,226.13 219.1,226.12C219.6,226.11 220.1,226.1 220.6,226.09C221.1,226.08 221.6,226.07 222.1,226.06C222.6,226.05 223.1,226.04 223.6,226.03C224.1,226.02 224.6,226.01 225.1,226C225.6,226 226.1,225.99 226.6,225.98C227.1,225.98 227.6,225.97 228.1,225.97C228.6,225.96 229.1,225.96 229.6,225.95C230.1,225.95 230.6,225.94 231.1,225.93C231.6,225.93 232.1,225.92 232.6,225.92C233.1,225.92 233.6,225.92 234.1,225.94C234.6,225.96 235.1,225.99 235.6,226.03C236.1,226.07 236.6,226.12 237.1,226.16C237.6,226.21 238.1,226.25 238.6,226.3C239.1,226.35 239.6,226.39 240.1,226.44C240.6,226.48 241.1,226.53 241.6,226.58C242.1,226.63 242.6,226.67 243.1,226.73C243.6,226.78 244.1,226.84 244.6,226.91C245.1,226.98 245.6,227.06 246.1,227.13C246.6,227.21 247.1,227.29 247.6,227.37C248.1,227.45 248.6,227.53 249.1,227.61C249.6,227.69 250.1,227.77 250.6,227.85C251.1,227.92 251.6,228 252.1,228.08C252.6,228.16 253.27,228.27 253.6,228.32C253.93,228.37 254.02,228.39 254.1,228.4L254.1,233.85L52.6,233.85Z" fill="#00FF00" fill-opacity="0.5"/>
<path d="M52.6,184.7C52.85,184.33 53.6,183.17 54.1,182.46C54.6,181.76 55.1,181.09 55.6,180.48C56.1,179.87 56.6,179.34 57.1,178.79C57.6,178.24 58.1,177.72 58.6,177.18C59.1,176.65 59.6,176.1 60.1,175.58C60.6,175.06 61.1,174.52 61.6,174.06C62.1,173.6 62.6,173.19 63.1,172.81C63.6,172.42 64.1,172.09 64.6,171.75C65.1,171.41 65.6,171.08 66.1,170.77C66.6,170.45 67.1,170.15 67.6,169.88C68.1,169.61 68.6,169.37 69.1,169.14C69.6,168.9 70.1,168.67 70.6,168.46C71.1,168.24 71.6,168.04 72.1,167.86C72.6,167.69 73.1,167.55 73.6,167.41C74.1,167.27 74.6,167.15 75.1,167.03C75.6,166.91 76.1,166.79 76.6,166.71C77.1,166.64 77.6,166.59 78.1,166.56C78.6,166.53 79.1,166.55 79.6,166.55C80.1,166.56 80.6,166.58 81.1,166.62C81.6,166.66 82.1,166.72 82.6,166.8C83.1,166.89 83.6,167.01 84.1,167.13C84.6,167.25 85.1,167.37 85.6,167.52C86.1,167.66 86.6,167.81 87.1,168C87.6,168.2 88.1,168.44 88.6,168.7C89.1,168.95 89.6,169.23 90.1,169.51C90.6,169.79 91.1,170.08 91.6,170.37C92.1,170.67 92.6,170.97 93.1,171.27C93.6,171.57 94.1,171.87 94.6,172.18C95.1,172.5 95.6,172.81 96.1,173.14C96.6,173.47 97.1,173.81 97.6,174.15C98.1,174.49 98.6,174.84 99.1,175.18C99.6,175.53 100.1,175.88 100.6,176.22C101.1,176.56 101.6,176.91 102.1,177.25C102.6,177.59 103.1,177.93 103.6,178.27C104.1,178.62 104.6,178.96 105.1,179.3C105.6,179.64 106.1,179.98 106.6,180.32C107.1,180.65 107.6,180.98 108.1,181.31C108.6,181.64 109.1,181.97 109.6,182.29C110.1,182.62 110.6,182.95 111.1,183.26C111.6,183.58 112.1,183.9 112.6,184.19C113.1,184.48 113.6,184.74 114.1,185C114.6,185.25 115.1,185.49 115.6,185.72C116.1,185.96 116.6,186.2 117.1,186.43C117.6,186.67 118.1,186.9 118.6,187.14C119.1,187.38 119.6,187.61 120.1,187.85C120.6,188.08 121.1,188.32 121.6,188.55C122.1,188.79 122.6,189.02 123.1,189.26C123.6,189.49 124.1,189.73 124.6,189.96C125.1,190.2 125.6,190.43 126.1,190.67C126.6,190.9 127.1,191.14 127.6,191.37C128.1,191.61 128.6,191.84 129.1,192.08C129.6,192.32 130.1,192.56 130.6,192.81C131.1,193.05 131.6,193.3 132.1,193.55C132.6,193.8 133.1,194.05 133.6,194.3C134.1,194.55 134.6,194.8 135.1,195.05C135.6,195.3 136.1,195.55 136.6,195.8C137.1,196.05 137.6,196.3 138.1,196.55C138.6,196.8 139.1,197.05 139.6,197.3C140.1,197.55 140.6,197.8 141.1,198.05C141.6,198.3 142.1,198.55 142.6,198.8C143.1,199.05 143.6,199.3 144.1,199.55C144.6,199.8 145.1,200.05 145.6,200.3C146.1,200.55 146.6,200.8 147.1,201.06C147.6,201.32 148.1,201.59 148.6,201.86C149.1,202.13 149.6,202.42 150.1,202.7C150.6,202.98 151.1,203.27 151.6,203.56C152.1,203.84 152.6,204.13 153.1,204.41C153.6,204.7 154.1,204.99 154.6,205.27C155.1,205.56 155.6,205.85 156.1,206.14C156.6,206.43 157.1,206.72 157.6,207.01C158.1,207.3 158.6,207.59 159.1,207.88C159.6,208.17 160.1,208.46 160.6,208.76C161.1,209.05 161.6,209.33 162.1,209.63C162.6,209.93 163.1,210.24 163.6,210.55C164.1,210.87 164.6,211.21 165.1,211.55C165.6,211.89 166.1,212.25 166.6,212.59C167.1,212.94 167.6,213.29 168.1,213.64C168.6,213.99 169.1,214.34 169.6,214.69C170.1,215.03 170.6,215.38 171.1,215.71C171.6,216.04 172.1,216.36 172.6,216.66C173.1,216.96 173.6,217.24 174.1,217.51C174.6,217.79 175.1,218.05 175.6,218.32C176.1,218.59 176.6,218.85 177.1,219.12C177.6,219.39 178.1,219.66 178.6,219.92C179.1,220.19 179.6,220.46 180.1,220.73C180.6,220.99 181.1,221.27 181.6,221.52C182.1,221.78 182.6,222.05 183.1,222.27C183.6,222.49 184.1,222.69 184.6,222.86C185.1,223.04 185.6,223.18 186.1,223.34C186.6,223.49 187.1,223.63 187.6,223.78C188.1,223.93 188.6,224.08 189.1,224.23C189.6,224.37 190.1,224.52 190.6,224.67C191.1,224.82 191.6,224.97 192.1,225.11C192.6,225.26 193.1,225.41 193.6,225.54C194.1,225.67 194.6,225.8 195.1,225.89C195.6,225.99 196.1,226.04 196.6,226.09C197.1,226.14 197.6,226.17 198.1,226.21C198.6,226.25 199.1,226.28 199.6,226.31C200.1,226.35 200.6,226.39 201.1,226.42C201.6,226.45 202.1,226.49 202.6,226.52C203.1,226.56 203.6,226.59 204.1,226.61C204.6,226.63 205.1,226.65 205.6,226.64C206.1,226.64 206.6,226.62 207.1,226.6C207.6,226.58 208.1,226.55 208.6,226.52C209.1,226.5 209.6,226.47 210.1,226.45C210.6,226.43 211.1,226.4 211.6,226.38C212.1,226.35 212.6,226.32 213.1,226.3C213.6,226.28 214.1,226.25 214.6,226.23C215.1,226.21 215.6,226.2 216.1,226.18C216.6,226.17 217.1,226.16 217.6,226.15C218.1,226.14 218.6,226.13 219.1,226.12C219.6,226.11 220.1,226.1 220.6,226.09C221.1,226.08 221.6,226.07 222.1,226.06C222.6,226.05 223.1,226.04 223.6,226.03C224.1,226.02 224.6,226.01 225.1,226C225.6,226 226.1,225.99 226.6,225.98C227.1,225.98 227.6,225.97 228.1,225.97C228.6,225.96 229.1,225.96 229.6,225.95C230.1,225.95 230.6,225.94 231.1,225.93C231.6,225.93 232.1,225.92 232.6,225.92C233.1,225.92 233.6,225.92 234.1,225.94C234.6,225.96 235.1,225.99 235.6,226.03C236.1,226.07 236.6,226.12 237.1,226.16C237.6,226.21 238.1,226.25 238.6,226.3C239.1,226.35 239.6,226.39 240.1,226.44C240.6,226.48 241.1,226.53 241.6,226.58C242.1,226.63 242.6,226.67 243.1,226.73C243.6,226.78 244.1,226.84 244.6,226.91C245.1,226.98 245.6,227.06 246.1,227.13C246.6,227.21 247.1,227.29 247.6,227.37C248.1,227.45 248.6,227.53 249.1,227.61C249.6,227.69 250.1,227.77 250.6,227.85C251.1,227.92 251.6,228 252.1,228.08C252.6,228.16 253.27,228.27 253.6,228.32C253.93,228.37 254.02,228.39 254.1,228.4" fill="none" stroke="#00FF00" stroke-width="1.6" stroke-linejoin="round"/>
<path d="M52.6,202.6C52.85,202.36 53.6,201.66 54.1,201.18C54.6,200.71 55.1,200.24 55.6,199.77C56.1,199.3 56.6,198.83 57.1,198.38C57.6,197.94 58.1,197.51 58.6,197.11C59.1,196.71 59.6,196.34 60.1,195.97C60.6,195.6 61.1,195.24 61.6,194.87C62.1,194.51 62.6,194.14 63.1,193.78C63.6,193.43 64.1,193.07 64.6,192.73C65.1,192.38 65.6,192.05 66.1,191.72C66.6,191.39 67.1,191.06 67.6,190.73C68.1,190.41 68.6,190.07 69.1,189.75C69.6,189.44 70.1,189.11 70.6,188.83C71.1,188.54 71.6,188.28 72.1,188.03C72.6,187.78 73.1,187.57 73.6,187.34C74.1,187.11 74.6,186.89 75.1,186.67C75.6,186.44 76.1,186.21 76.6,186C77.1,185.78 77.6,185.56 78.1,185.37C78.6,185.17 79.1,185 79.6,184.84C80.1,184.68 80.6,184.54 81.1,184.4C81.6,184.25 82.1,184.11 82.6,183.98C83.1,183.84 83.6,183.7 84.1,183.58C84.6,183.45 85.1,183.34 85.6,183.25C86.1,183.16 86.6,183.09 87.1,183.01C87.6,182.94 88.1,182.87 88.6,182.8C89.1,182.73 89.6,182.66 90.1,182.59C90.6,182.52 91.1,182.45 91.6,182.4C92.1,182.34 92.6,182.3 93.1,182.28C93.6,182.26 94.1,182.27 94.6,182.28C95.1,182.29 95.6,182.32 96.1,182.34C96.6,182.36 97.1,182.38 97.6,182.4C98.1,182.42 98.6,182.44 99.1,182.48C99.6,182.52 100.1,182.56 100.6,182.62C101.1,182.67 101.6,182.75 102.1,182.82C102.6,182.89 103.1,182.97 103.6,183.04C104.1,183.12 104.6,183.19 105.1,183.27C105.6,183.36 106.1,183.43 106.6,183.54C107.1,183.66 107.6,183.79 108.1,183.95C108.6,184.11 109.1,184.3 109.6,184.49C110.1,184.68 110.6,184.87 111.1,185.07C111.6,185.26 112.1,185.46 112.6,185.66C113.1,185.87 113.6,186.08 114.1,186.3C114.6,186.51 115.1,186.74 115.6,186.96C116.1,187.18 116.6,187.41 117.1,187.63C117.6,187.86 118.1,188.09 118.6,188.33C119.1,188.56 119.6,188.81 120.1,189.05C120.6,189.3 121.1,189.55 121.6,189.8C122.1,190.05 122.6,190.3 123.1,190.55C123.6,190.8 124.1,191.05 124.6,191.3C125.1,191.55 125.6,191.8 126.1,192.05C126.6,192.3 127.1,192.55 127.6,192.8C128.1,193.05 128.6,193.3 129.1,193.55C129.6,193.8 130.1,194.05 130.6,194.3C131.1,194.55 131.6,194.8 132.1,195.04C132.6,195.28 133.1,195.51 133.6,195.73C134.1,195.96 134.6,196.17 135.1,196.38C135.6,196.59 136.1,196.8 136.6,197.01C137.1,197.22 137.6,197.43 138.1,197.64C138.6,197.85 139.1,198.06 139.6,198.27C140.1,198.48 140.6,198.69 141.1,198.9C141.6,199.11 142.1,199.32 142.6,199.51C143.1,199.71 143.6,199.9 144.1,200.09C144.6,200.27 145.1,200.45 145.6,200.63C146.1,200.81 146.6,200.99 147.1,201.17C147.6,201.35 148.1,201.53 148.6,201.71C149.1,201.89 149.6,202.07 150.1,202.24C150.6,202.42 151.1,202.6 151.6,202.78C152.1,202.96 152.6,203.14 153.1,203.32C153.6,203.49 154.1,203.67 154.6,203.83C155.1,204 155.6,204.15 156.1,204.31C156.6,204.46 157.1,204.6 157.6,204.74C158.1,204.89 158.6,205.03 159.1,205.17C159.6,205.31 160.1,205.46 160.6,205.6C161.1,205.73 161.6,205.87 162.1,205.99C162.6,206.12 163.1,206.23 163.6,206.35C164.1,206.46 164.6,206.57 165.1,206.68C165.6,206.79 166.1,206.9 166.6,207.01C167.1,207.12 167.6,207.23 168.1,207.32C168.6,207.42 169.1,207.51 169.6,207.59C170.1,207.66 170.6,207.72 171.1,207.77C171.6,207.83 172.1,207.87 172.6,207.92C173.1,207.97 173.6,208.02 174.1,208.07C174.6,208.12 175.1,208.17 175.6,208.22C176.1,208.27 176.6,208.31 177.1,208.36C177.6,208.41 178.1,208.46 178.6,208.51C179.1,208.56 179.6,208.61 180.1,208.66C180.6,208.71 181.1,208.76 181.6,208.8C182.1,208.85 182.6,208.9 183.1,208.95C183.6,209 184.1,209.05 184.6,209.11C185.1,209.16 185.6,209.21 186.1,209.26C186.6,209.31 187.1,209.37 187.6,209.42C188.1,209.47 188.6,209.52 189.1,209.58C189.6,209.63 190.1,209.68 190.6,209.73C191.1,209.79 191.6,209.84 192.1,209.89C192.6,209.94 193.1,210 193.6,210.05C194.1,210.1 194.6,210.15 195.1,210.21C195.6,210.26 196.1,210.31 196.6,210.37C197.1,210.43 197.6,210.49 198.1,210.57C198.6,210.64 199.1,210.73 199.6,210.81C200.1,210.9 200.6,210.99 201.1,211.08C201.6,211.18 202.1,211.27 202.6,211.36C203.1,211.45 203.6,211.54 204.1,211.63C204.6,211.72 205.1,211.81 205.6,211.91C206.1,212 206.6,212.09 207.1,212.18C207.6,212.27 208.1,212.36 208.6,212.47C209.1,212.57 209.6,212.67 210.1,212.78C210.6,212.9 211.1,213.02 211.6,213.14C212.1,213.26 212.6,213.39 213.1,213.51C213.6,213.63 214.1,213.75 214.6,213.88C215.1,214 215.6,214.12 216.1,214.24C216.6,214.37 217.1,214.49 217.6,214.61C218.1,214.73 218.6,214.86 219.1,214.97C219.6,215.09 220.1,215.21 220.6,215.32C221.1,215.44 221.6,215.55 222.1,215.65C222.6,215.76 223.1,215.87 223.6,215.98C224.1,216.09 224.6,216.2 225.1,216.31C225.6,216.41 226.1,216.52 226.6,216.63C227.1,216.74 227.6,216.85 228.1,216.96C228.6,217.06 229.1,217.17 229.6,217.28C230.1,217.39 230.6,217.5 231.1,217.61C231.6,217.72 232.1,217.82 232.6,217.93C233.1,218.05 233.6,218.16 234.1,218.28C234.6,218.4 235.1,218.53 235.6,218.67C236.1,218.8 236.6,218.94 237.1,219.08C237.6,219.22 238.1,219.36 238.6,219.5C239.1,219.64 239.6,219.78 240.1,219.91C240.6,220.05 241.1,220.19 241.6,220.33C242.1,220.47 242.6,220.61 243.1,220.75C243.6,220.9 244.1,221.04 244.6,221.19C245.1,221.34 245.6,221.49 246.1,221.65C246.6,221.8 247.1,221.95 247.6,222.1C248.1,222.26 248.6,222.41 249.1,222.57C249.6,222.72 250.1,222.87 250.6,223.03C251.1,223.18 251.6,223.33 252.1,223.49C252.6,223.64 253.27,223.84 253.6,223.95C253.93,224.05 254.02,224.07 254.1,224.1L254.1,233.85L52.6,233.85Z" fill="#0000FF" fill-opacity="0.5"/>
<path d="M52.6,202.6C52.85,202.36 53.6,201.66 54.1,201.18C54.6,200.71 55.1,200.24 55.6,199.77C56.1,199.3 56.6,198.83 57.1,198.38C57.6,197.94 58.1,197.51 58.6,197.11C59.1,196.71 59.6,196.34 60.1,195.97C60.6,195.6 61.1,195.24 61.6,194.87C62.1,194.51 62.6,194.14 63.1,193.78C63.6,193.43 64.1,193.07 64.6,192.73C65.1,192.38 65.6,192.05 66.1,191.72C66.6,191.39 67.1,191.06 67.6,190.73C68.1,190.41 68.6,190.07 69.1,189.75C69.6,189.44 70.1,189.11 70.6,188.83C71.1,188.54 71.6,188.28 72.1,188.03C72.6,187.78 73.1,187.57 73.6,187.34C74.1,187.11 74.6,186.89 75.1,186.67C75.6,186.44 76.1,186.21 76.6,186C77.1,185.78 77.6,185.56 78.1,185.37C78.6,185.17 79.1,185 79.6,184.84C80.1,184.68 80.6,184.54 81.1,184.4C81.6,184.25 82.1,184.11 82.6,183.98C83.1,183.84 83.6,183.7 84.1,183.58C84.6,183.45 85.1,183.34 85.6,183.25C86.1,183.16 86.6,183.09 87.1,183.01C87.6,182.94 88.1,182.87 88.6,182.8C89.1,182.73 89.6,182.66 90.1,182.59C90.6,182.52 91.1,182.45 91.6,182.4C92.1,182.34 92.6,182.3 93.1,182.28C93.6,182.26 94.1,182.27 94.6,182.28C95.1,182.29 95.6,182.32 96.1,182.34C96.6,182.36 97.1,182.38 97.6,182.4C98.1,182.42 98.6,182.44 99.1,182.48C99.6,182.52 100.1,182.56 100.6,182.62C101.1,182.67 101.6,182.75 102.1,182.82C102.6,182.89 103.1,182.97 103.6,183.04C104.1,183.12 104.6,183.19 105.1,183.27C105.6,183.36 106.1,183.43 106.6,183.54C107.1,183.66 107.6,183.79 108.1,183.95C108.6,184.11 109.1,184.3 109.6,184.49C110.1,184.68 110.6,184.87 111.1,185.07C111.6,185.26 112.1,185.46 112.6,185.66C113.1,185.87 113.6,186.08 114.1,186.3C114.6,186.51 115.1,186.74 115.6,186.96C116.1,187.18 116.6,187.41 117.1,187.63C117.6,187.86 118.1,188.09 118.6,188.33C119.1,188.56 119.6,188.81 120.1,189.05C120.6,189.3 121.1,189.55 121.6,189.8C122.1,190.05 122.6,190.3 123.1,190.55C123.6,190.8 124.1,191.05 124.6,191.3C125.1,191.55 125.6,191.8 126.1,192.05C126.6,192.3 127.1,192.55 127.6,192.8C128.1,193.05 128.6,193.3 129.1,193.55C129.6,193.8 130.1,194.05 130.6,194.3C131.1,194.55 131.6,194.8 132.1,195.04C132.6,195.28 133.1,195.51 133.6,195.73C134.1,195.96 134.6,196.17 135.1,196.38C135.6,196.59 136.1,196.8 136.6,197.01C137.1,197.22 137.6,197.43 138.1,197.64C138.6,197.85 139.1,198.06 139.6,198.27C140.1,198.48 140.6,198.69 141.1,198.9C141.6,199.11 142.1,199.32 142.6,199.51C143.1,199.71 143.6,199.9 144.1,200.09C144.6,200.27 145.1,200.45 145.6,200.63C146.1,200.81 146.6,200.99 147.1,201.17C147.6,201.35 148.1,201.53 148.6,201.71C149.1,201.89 149.6,202.07 150.1,202.24C150.6,202.42 151.1,202.6 151.6,202.78C152.1,202.96 152.6,203.14 153.1,203.32C153.6,203.49 154.1,203.67 154.6,203.83C155.1,204 155.6,204.15 156.1,204.31C156.6,204.46 157.1,204.6 157.6,204.74C158.1,204.89 158.6,205.03 159.1,205.17C159.6,205.31 160.1,205.46 160.6,205.6C161.1,205.73 161.6,205.87 162.1,205.99C162.6,206.12 163.1,206.23 163.6,206.35C164.1,206.46 164.6,206.57 165.1,206.68C165.6,206.79 166.1,206.9 166.6,207.01C167.1,207.12 167.6,207.23 168.1,207.32C168.6,207.42 169.1,207.51 169.6,207.59C170.1,207.66 170.6,207.72 171.1,207.77C171.6,207.83 172.1,207.87 172.6,207.92C173.1,207.97 173.6,208.02 174.1,208.07C174.6,208.12 175.1,208.17 175.6,208.22C176.1,208.27 176.6,208.31 177.1,208.36C177.6,208.41 178.1,208.46 178.6,208.51C179.1,208.56 179.6,208.61 180.1,208.66C180.6,208.71 181.1,208.76 181.6,208.8C182.1,208.85 182.6,208.9 183.1,208.95C183.6,209 184.1,209.05 184.6,209.11C185.1,209.16 185.6,209.21 186.1,209.26C186.6,209.31 187.1,209.37 187.6,209.42C188.1,209.47 188.6,209.52 189.1,209.58C189.6,209.63 190.1,209.68 190.6,209.73C191.1,209.79 191.6,209.84 192.1,209.89C192.6,209.94 193.1,210 193.6,210.05C194.1,210.1 194.6,210.15 195.1,210.21C195.6,210.26 196.1,210.31 196.6,210.37C197.1,210.43 197.6,210.49 198.1,210.57C198.6,210.64 199.1,210.73 199.6,210.81C200.1,210.9 200.6,210.99 201.1,211.08C201.6,211.18 202.1,211.27 202.6,211.36C203.1,211.45 203.6,211.54 204.1,211.63C204.6,211.72 205.1,211.81 205.6,211.91C206.1,212 206.6,212.09 207.1,212.18C207.6,212.27 208.1,212.36 208.6,212.47C209.1,212.57 209.6,212.67 210.1,212.78C210.6,212.9 211.1,213.02 211.6,213.14C212.1,213.26 212.6,213.39 213.1,213.51C213.6,213.63 214.1,213.75 214.6,213.88C215.1,214 215.6,214.12 216.1,214.24C216.6,214.37 217.1,214.49 217.6,214.61C218.1,214.73 218.6,214.86 219.1,214.97C219.6,215.09 220.1,215.21 220.6,215.32C221.1,215.44 221.6,215.55 222.1,215.65C222.6,215.76 223.1,215.87 223.6,215.98C224.1,216.09 224.6,216.2 225.1,216.31C225.6,216.41 226.1,216.52 226.6,216.63C227.1,216.74 227.6,216.85 228.1,216.96C228.6,217.06 229.1,217.17 229.6,217.28C230.1,217.39 230.6,217.5 231.1,217.61C231.6,217.72 232.1,217.82 232.6,217.93C233.1,218.05 233.6,218.16 234.1,218.28C234.6,218.4 235.1,218.53 235.6,218.67C236.1,218.8 236.6,218.94 237.1,219.08C237.6,219.22 238.1,219.36 238.6,219.5C239.1,219.64 239.6,219.78 240.1,219.91C240.6,220.05 241.1,220.19 241.6,220.33C242.1,220.47 242.6,220.61 243.1,220.75C243.6,220.9 244.1,221.04 244.6,221.19C245.1,221.34 245.6,221.49 246.1,221.65C246.6,221.8 247.1,221.95 247.6,222.1C248.1,222.26 248.6,222.41 249.1,222.57C249.6,222.72 250.1,222.87 250.6,223.03C251.1,223.18 251.6,223.33 252.1,223.49C252.6,223.64 253.27,223.84 253.6,223.95C253.93,224.05 254.02,224.07 254.1,224.1" fill="none" stroke="#0000FF" stroke-width="1.6" stroke-linejoin="round"/>
<path d="M52.6,204.8C52.85,204.48 53.6,203.53 54.1,202.9C54.6,202.27 55.1,201.63 55.6,201C56.1,200.37 56.6,199.74 57.1,199.09C57.6,198.45 58.1,197.8 58.6,197.13C59.1,196.46 59.6,195.77 60.1,195.08C60.6,194.39 61.1,193.67 61.6,192.98C62.1,192.3 62.6,191.61 63.1,190.95C63.6,190.29 64.1,189.66 64.6,189.03C65.1,188.4 65.6,187.78 66.1,187.17C66.6,186.55 67.1,185.94 67.6,185.33C68.1,184.72 68.6,184.11 69.1,183.51C69.6,182.9 70.1,182.29 70.6,181.71C71.1,181.13 71.6,180.55 72.1,180.01C72.6,179.47 73.1,178.97 73.6,178.47C74.1,177.98 74.6,177.5 75.1,177.02C75.6,176.55 76.1,176.07 76.6,175.63C77.1,175.19 77.6,174.78 78.1,174.38C78.6,173.98 79.1,173.62 79.6,173.26C80.1,172.89 80.6,172.53 81.1,172.2C81.6,171.88 82.1,171.58 82.6,171.32C83.1,171.05 83.6,170.84 84.1,170.62C84.6,170.4 85.1,170.18 85.6,169.99C86.1,169.8 86.6,169.6 87.1,169.45C87.6,169.3 88.1,169.19 88.6,169.09C89.1,168.99 89.6,168.91 90.1,168.85C90.6,168.79 91.1,168.74 91.6,168.74C92.1,168.74 92.6,168.78 93.1,168.83C93.6,168.88 94.1,168.94 94.6,169.04C95.1,169.13 95.6,169.23 96.1,169.38C96.6,169.53 97.1,169.73 97.6,169.94C98.1,170.14 98.6,170.38 99.1,170.62C99.6,170.87 100.1,171.13 100.6,171.42C101.1,171.7 101.6,172.01 102.1,172.32C102.6,172.63 103.1,172.95 103.6,173.28C104.1,173.61 104.6,173.95 105.1,174.3C105.6,174.65 106.1,175.01 106.6,175.36C107.1,175.72 107.6,176.08 108.1,176.44C108.6,176.8 109.1,177.16 109.6,177.52C110.1,177.88 110.6,178.24 111.1,178.6C111.6,178.96 112.1,179.32 112.6,179.68C113.1,180.05 113.6,180.4 114.1,180.77C114.6,181.14 115.1,181.51 115.6,181.9C116.1,182.28 116.6,182.69 117.1,183.09C117.6,183.5 118.1,183.92 118.6,184.34C119.1,184.77 119.6,185.2 120.1,185.65C120.6,186.1 121.1,186.57 121.6,187.03C122.1,187.5 122.6,187.99 123.1,188.43C123.6,188.87 124.1,189.3 124.6,189.67C125.1,190.05 125.6,190.36 126.1,190.67C126.6,190.99 127.1,191.27 127.6,191.56C128.1,191.85 128.6,192.14 129.1,192.43C129.6,192.72 130.1,193.02 130.6,193.3C131.1,193.59 131.6,193.88 132.1,194.16C132.6,194.43 133.1,194.69 133.6,194.93C134.1,195.18 134.6,195.4 135.1,195.63C135.6,195.85 136.1,196.07 136.6,196.29C137.1,196.51 137.6,196.74 138.1,196.95C138.6,197.16 139.1,197.38 139.6,197.55C140.1,197.72 140.6,197.86 141.1,197.99C141.6,198.12 142.1,198.22 142.6,198.32C143.1,198.41 143.6,198.52 144.1,198.58C144.6,198.65 145.1,198.7 145.6,198.72C146.1,198.74 146.6,198.72 147.1,198.71C147.6,198.7 148.1,198.68 148.6,198.65C149.1,198.63 149.6,198.6 150.1,198.55C150.6,198.51 151.1,198.44 151.6,198.38C152.1,198.32 152.6,198.24 153.1,198.17C153.6,198.09 154.1,198.01 154.6,197.92C155.1,197.82 155.6,197.7 156.1,197.58C156.6,197.46 157.1,197.31 157.6,197.18C158.1,197.04 158.6,196.9 159.1,196.76C159.6,196.62 160.1,196.48 160.6,196.35C161.1,196.23 161.6,196.1 162.1,196C162.6,195.91 163.1,195.84 163.6,195.77C164.1,195.71 164.6,195.67 165.1,195.61C165.6,195.56 166.1,195.51 166.6,195.47C167.1,195.42 167.6,195.37 168.1,195.35C168.6,195.33 169.1,195.32 169.6,195.36C170.1,195.4 170.6,195.48 171.1,195.56C171.6,195.64 172.1,195.75 172.6,195.84C173.1,195.94 173.6,196.03 174.1,196.14C174.6,196.24 175.1,196.33 175.6,196.46C176.1,196.59 176.6,196.74 177.1,196.92C177.6,197.1 178.1,197.31 178.6,197.52C179.1,197.73 179.6,197.95 180.1,198.17C180.6,198.39 181.1,198.6 181.6,198.83C182.1,199.07 182.6,199.29 183.1,199.57C183.6,199.85 184.1,200.18 184.6,200.52C185.1,200.87 185.6,201.27 186.1,201.65C186.6,202.03 187.1,202.42 187.6,202.81C188.1,203.2 188.6,203.59 189.1,203.98C189.6,204.37 190.1,204.76 190.6,205.17C191.1,205.57 191.6,205.97 192.1,206.38C192.6,206.8 193.1,207.21 193.6,207.63C194.1,208.04 194.6,208.46 195.1,208.87C195.6,209.29 196.1,209.71 196.6,210.11C197.1,210.52 197.6,210.93 198.1,211.32C198.6,211.71 199.1,212.09 199.6,212.47C200.1,212.85 200.6,213.22 201.1,213.6C201.6,213.98 202.1,214.35 202.6,214.72C203.1,215.1 203.6,215.47 204.1,215.84C204.6,216.21 205.1,216.57 205.6,216.92C206.1,217.28 206.6,217.62 207.1,217.96C207.6,218.3 208.1,218.64 208.6,218.98C209.1,219.32 209.6,219.66 210.1,220C210.6,220.34 211.1,220.68 211.6,221C212.1,221.32 212.6,221.63 213.1,221.93C213.6,222.23 214.1,222.51 214.6,222.79C215.1,223.08 215.6,223.36 216.1,223.64C216.6,223.92 217.1,224.21 217.6,224.48C218.1,224.76 218.6,225.04 219.1,225.3C219.6,225.57 220.1,225.82 220.6,226.07C221.1,226.32 221.6,226.56 222.1,226.8C222.6,227.04 223.1,227.29 223.6,227.52C224.1,227.75 224.6,227.99 225.1,228.2C225.6,228.42 226.1,228.63 226.6,228.84C227.1,229.04 227.6,229.24 228.1,229.43C228.6,229.62 229.1,229.82 229.6,229.97C230.1,230.13 230.6,230.26 231.1,230.38C231.6,230.49 232.1,230.58 232.6,230.67C233.1,230.77 233.6,230.86 234.1,230.95C234.6,231.04 235.1,231.13 235.6,231.22C236.1,231.31 236.6,231.41 237.1,231.5C237.6,231.59 238.1,231.68 238.6,231.77C239.1,231.86 239.6,231.95 240.1,232.04C240.6,232.13 241.1,232.21 241.6,232.29C242.1,232.36 242.6,232.43 243.1,232.49C243.6,232.56 244.1,232.62 244.6,232.68C245.1,232.74 245.6,232.8 246.1,232.87C246.6,232.93 247.1,232.99 247.6,233.05C248.1,233.11 248.6,233.17 249.1,233.23C249.6,233.3 250.1,233.36 250.6,233.42C251.1,233.48 251.6,233.54 252.1,233.6C252.6,233.67 253.27,233.75 253.6,233.79C253.93,233.83 254.02,233.84 254.1,233.85L254.1,233.85L52.6,233.85Z" fill="#FF0000" fill-opacity="0.5"/>
<path d="M52.6,204.8C52.85,204.48 53.6,203.53 54.1,202.9C54.6,202.27 55.1,201.63 55.6,201C56.1,200.37 56.6,199.74 57.1,199.09C57.6,198.45 58.1,197.8 58.6,197.13C59.1,196.46 59.6,195.77 60.1,195.08C60.6,194.39 61.1,193.67 61.6,192.98C62.1,192.3 62.6,191.61 63.1,190.95C63.6,190.29 64.1,189.66 64.6,189.03C65.1,188.4 65.6,187.78 66.1,187.17C66.6,186.55 67.1,185.94 67.6,185.33C68.1,184.72 68.6,184.11 69.1,183.51C69.6,182.9 70.1,182.29 70.6,181.71C71.1,181.13 71.6,180.55 72.1,180.01C72.6,179.47 73.1,178.97 73.6,178.47C74.1,177.98 74.6,177.5 75.1,177.02C75.6,176.55 76.1,176.07 76.6,175.63C77.1,175.19 77.6,174.78 78.1,174.38C78.6,173.98 79.1,173.62 79.6,173.26C80.1,172.89 80.6,172.53 81.1,172.2C81.6,171.88 82.1,171.58 82.6,171.32C83.1,171.05 83.6,170.84 84.1,170.62C84.6,170.4 85.1,170.18 85.6,169.99C86.1,169.8 86.6,169.6 87.1,169.45C87.6,169.3 88.1,169.19 88.6,169.09C89.1,168.99 89.6,168.91 90.1,168.85C90.6,168.79 91.1,168.74 91.6,168.74C92.1,168.74 92.6,168.78 93.1,168.83C93.6,168.88 94.1,168.94 94.6,169.04C95.1,169.13 95.6,169.23 96.1,169.38C96.6,169.53 97.1,169.73 97.6,169.94C98.1,170.14 98.6,170.38 99.1,170.62C99.6,170.87 100.1,171.13 100.6,171.42C101.1,171.7 101.6,172.01 102.1,172.32C102.6,172.63 103.1,172.95 103.6,173.28C104.1,173.61 104.6,173.95 105.1,174.3C105.6,174.65 106.1,175.01 106.6,175.36C107.1,175.72 107.6,176.08 108.1,176.44C108.6,176.8 109.1,177.16 109.6,177.52C110.1,177.88 110.6,178.24 111.1,178.6C111.6,178.96 112.1,179.32 112.6,179.68C113.1,180.05 113.6,180.4 114.1,180.77C114.6,181.14 115.1,181.51 115.6,181.9C116.1,182.28 116.6,182.69 117.1,183.09C117.6,183.5 118.1,183.92 118.6,184.34C119.1,184.77 119.6,185.2 120.1,185.65C120.6,186.1 121.1,186.57 121.6,187.03C122.1,187.5 122.6,187.99 123.1,188.43C123.6,188.87 124.1,189.3 124.6,189.67C125.1,190.05 125.6,190.36 126.1,190.67C126.6,190.99 127.1,191.27 127.6,191.56C128.1,191.85 128.6,192.14 129.1,192.43C129.6,192.72 130.1,193.02 130.6,193.3C131.1,193.59 131.6,193.88 132.1,194.16C132.6,194.43 133.1,194.69 133.6,194.93C134.1,195.18 134.6,195.4 135.1,195.63C135.6,195.85 136.1,196.07 136.6,196.29C137.1,196.51 137.6,196.74 138.1,196.95C138.6,197.16 139.1,197.38 139.6,197.55C140.1,197.72 140.6,197.86 141.1,197.99C141.6,198.12 142.1,198.22 142.6,198.32C143.1,198.41 143.6,198.52 144.1,198.58C144.6,198.65 145.1,198.7 145.6,198.72C146.1,198.74 146.6,198.72 147.1,198.71C147.6,198.7 148.1,198.68 148.6,198.65C149.1,198.63 149.6,198.6 150.1,198.55C150.6,198.51 151.1,198.44 151.6,198.38C152.1,198.32 152.6,198.24 153.1,198.17C153.6,198.09 154.1,198.01 154.6,197.92C155.1,197.82 155.6,197.7 156.1,197.58C156.6,197.46 157.1,197.31 157.6,197.18C158.1,197.04 158.6,196.9 159.1,196.76C159.6,196.62 160.1,196.48 160.6,196.35C161.1,196.23 161.6,196.1 162.1,196C162.6,195.91 163.1,195.84 163.6,195.77C164.1,195.71 164.6,195.67 165.1,195.61C165.6,195.56 166.1,195.51 166.6,195.47C167.1,195.42 167.6,195.37 168.1,195.35C168.6,195.33 169.1,195.32 169.6,195.36C170.1,195.4 170.6,195.48 171.1,195.56C171.6,195.64 172.1,195.75 172.6,195.84C173.1,195.94 173.6,196.03 174.1,196.14C174.6,196.24 175.1,196.33 175.6,196.46C176.1,196.59 176.6,196.74 177.1,196.92C177.6,197.1 178.1,197.31 178.6,197.52C179.1,197.73 179.6,197.95 180.1,198.17C180.6,198.39 181.1,198.6 181.6,198.83C182.1,199.07 182.6,199.29 183.1,199.57C183.6,199.85 184.1,200.18 184.6,200.52C185.1,200.87 185.6,201.27 186.1,201.65C186.6,202.03 187.1,202.42 187.6,202.81C188.1,203.2 188.6,203.59 189.1,203.98C189.6,204.37 190.1,204.76 190.6,205.17C191.1,205.57 191.6,205.97 192.1,206.38C192.6,206.8 193.1,207.21 193.6,207.63C194.1,208.04 194.6,208.46 195.1,208.87C195.6,209.29 196.1,209.71 196.6,210.11C197.1,210.52 197.6,210.93 198.1,211.32C198.6,211.71 199.1,212.09 199.6,212.47C200.1,212.85 200.6,213.22 201.1,213.6C201.6,213.98 202.1,214.35 202.6,214.72C203.1,215.1 203.6,215.47 204.1,215.84C204.6,216.21 205.1,216.57 205.6,216.92C206.1,217.28 206.6,217.62 207.1,217.96C207.6,218.3 208.1,218.64 208.6,218.98C209.1,219.32 209.6,219.66 210.1,220C210.6,220.34 211.1,220.68 211.6,221C212.1,221.32 212.6,221.63 213.1,221.93C213.6,222.23 214.1,222.51 214.6,222.79C215.1,223.08 215.6,223.36 216.1,223.64C216.6,223.92 217.1,224.21 217.6,224.48C218.1,224.76 218.6,225.04 219.1,225.3C219.6,225.57 220.1,225.82 220.6,226.07C221.1,226.32 221.6,226.56 222.1,226.8C222.6,227.04 223.1,227.29 223.6,227.52C224.1,227.75 224.6,227.99 225.1,228.2C225.6,228.42 226.1,228.63 226.6,228.84C227.1,229.04 227.6,229.24 228.1,229.43C228.6,229.62 229.1,229.82 229.6,229.97C230.1,230.13 230.6,230.26 231.1,230.38C231.6,230.49 232.1,230.58 232.6,230.67C233.1,230.77 233.6,230.86 234.1,230.95C234.6,231.04 235.1,231.13 235.6,231.22C236.1,231.31 236.6,231.41 237.1,231.5C237.6,231.59 238.1,231.68 238.6,231.77C239.1,231.86 239.6,231.95 240.1,232.04C240.6,232.13 241.1,232.21 241.6,232.29C242.1,232.36 242.6,232.43 243.1,232.49C243.6,232.56 244.1,232.62 244.6,232.68C245.1,232.74 245.6,232.8 246.1,232.87C246.6,232.93 247.1,232.99 247.6,233.05C248.1,233.11 248.6,233.17 249.1,233.23C249.6,233.3 250.1,233.36 250.6,233.42C251.1,233.48 251.6,233.54 252.1,233.6C252.6,233.67 253.27,233.75 253.6,233.79C253.93,233.83 254.02,233.84 254.1,233.85" fill="none" stroke="#FF0000" stroke-width="1.6" stroke-linejoin="round"/>
</g>
<line x1="22.4" x2="24" y1="233.85" y2="233.85" stroke="#333" stroke-width="1.1"/>
<line x1="22.4" x2="24" y1="210" y2="210" stroke="#333" stroke-width="1.1"/>
<line x1="22.4" x2="24" y1="186.15" y2="186.15" stroke="#333" stroke-width="1.1"/>
<line x1="22.4" x2="24" y1="162.3" y2="162.3" stroke="#333" stroke-width="1.1"/>
<line x1="22.4" x2="24" y1="138.45" y2="138.45" stroke="#333" stroke-width="1.1"/>
<line x1="51.6" x2="51.6" y1="238.6" y2="240.6" stroke="#333" stroke-width="1.1"/>
<line x1="113.2" x2="113.2" y1="238.6" y2="240.6" stroke="#333" stroke-width="1.1"/>
<line x1="174.8" x2="174.8" y1="238.6" y2="240.6" stroke="#333" stroke-width="1.1"/>
<line x1="236.4" x2="236.4" y1="238.6" y2="240.6" stroke="#333" stroke-width="1.1"/>
<rect x="306" y="179.4" width="7.9" height="7.65" fill="#F2F2F2"/>
<rect x="306.4" y="179.8" width="7.1" height="6.85" fill="#00FF00" fill-opacity="0.75" stroke="#00FF00" stroke-width="0.8"/>
<rect x="306" y="187.05" width="7.9" height="7.65" fill="#F2F2F2"/>
<rect x="306.4" y="187.45" width="7.1" height="6.85" fill="#0000FF" fill-opacity="0.75" stroke="#0000FF" stroke-width="0.8"/>
<rect x="306" y="194.7" width="7.9" height="7.65" fill="#F2F2F2"/>
<rect x="306.4" y="195.1" width="7.1" height="6.85" fill="#FF0000" fill-opacity="0.75" stroke="#FF0000" stroke-width="0.8"/>
<rect x="374.4" y="133.1" width="266.6" height="105.2" fill="#EBEBEB"/>
<line x1="374.4" x2="641" y1="221.67" y2="221.67" stroke="#fff" stroke-width="0.55"/>
<line x1="374.4" x2="641" y1="197.82" y2="197.82" stroke="#fff" stroke-width="0.55"/>
<line x1="374.4" x2="641" y1="173.97" y2="173.97" stroke="#fff" stroke-width="0.55"/>
<line x1="374.4" x2="641" y1="150.12" y2="150.12" stroke="#fff" stroke-width="0.55"/>
<line y1="133.1" y2="238.3" x1="415.25" x2="415.25" stroke="#fff" stroke-width="0.55"/>
<line y1="133.1" y2="238.3" x1="498.95" x2="498.95" stroke="#fff" stroke-width="0.55"/>
<line y1="133.1" y2="238.3" x1="582.65" x2="582.65" stroke="#fff" stroke-width="0.55"/>
<line x1="374.4" x2="641" y1="233.6" y2="233.6" stroke="#fff" stroke-width="1.05"/>
<line x1="374.4" x2="641" y1="209.75" y2="209.75" stroke="#fff" stroke-width="1.05"/>
<line x1="374.4" x2="641" y1="185.9" y2="185.9" stroke="#fff" stroke-width="1.05"/>
<line x1="374.4" x2="641" y1="162.05" y2="162.05" stroke="#fff" stroke-width="1.05"/>
<line x1="374.4" x2="641" y1="138.2" y2="138.2" stroke="#fff" stroke-width="1.05"/>
<line y1="133.1" y2="238.3" x1="457.1" x2="457.1" stroke="#fff" stroke-width="1.05"/>
<line y1="133.1" y2="238.3" x1="540.8" x2="540.8" stroke="#fff" stroke-width="1.05"/>
<line y1="133.1" y2="238.3" x1="624.5" x2="624.5" stroke="#fff" stroke-width="1.05"/>
<clipPath id="c4"><rect x="374.4" y="133.1" width="266.6" height="105.2"/></clipPath>
<g clip-path="url(#c4)">
<g fill="#00FF00" fill-opacity="0.5"><rect x="386.3" y="205.8" width="2.85" height="27.8"/><rect x="394.9" y="205.8" width="2.85" height="27.8"/><rect x="402.8" y="177.2" width="2.85" height="56.4"/><rect x="410.9" y="177.2" width="2.85" height="56.4"/><rect x="461.6" y="177.2" width="2.85" height="56.4"/><rect x="478" y="205.8" width="2.85" height="27.8"/><rect x="486.9" y="205.8" width="2.85" height="27.8"/><rect x="495.2" y="205.8" width="2.85" height="27.8"/><rect x="503.8" y="205.8" width="2.85" height="27.8"/><rect x="553.8" y="177.2" width="2.85" height="56.4"/><rect x="389.2" y="224.35" width="2.85" height="9.25"/><rect x="414.5" y="217.82" width="2.85" height="15.78"/><rect x="420" y="216.24" width="2.85" height="17.36"/><rect x="425.7" y="214.6" width="2.85" height="19"/><rect x="436.5" y="212.33" width="2.85" height="21.27"/><rect x="447.8" y="210.85" width="2.85" height="22.75"/><rect x="453" y="210.75" width="2.85" height="22.85"/><rect x="470" y="211.89" width="2.85" height="21.71"/></g>
<g fill="#0000FF" fill-opacity="0.5"><rect x="397.5" y="201.9" width="2.85" height="31.7"/><rect x="422.8" y="201.9" width="2.85" height="31.7"/><rect x="431" y="170.1" width="2.85" height="63.5"/><rect x="439.3" y="201.9" width="2.85" height="31.7"/><rect x="455.9" y="201.9" width="2.85" height="31.7"/><rect x="464.7" y="201.9" width="2.85" height="31.7"/><rect x="473" y="170.1" width="2.85" height="63.5"/><rect x="498.1" y="201.9" width="2.85" height="31.7"/><rect x="506.4" y="201.9" width="2.85" height="31.7"/><rect x="573.1" y="138.2" width="2.85" height="95.4"/><rect x="615" y="201.8" width="2.85" height="31.8"/><rect x="405.5" y="220.53" width="2.85" height="13.07"/><rect x="417.2" y="217.04" width="2.85" height="16.56"/><rect x="445" y="211.02" width="2.85" height="22.58"/><rect x="481.5" y="212.93" width="2.85" height="20.67"/><rect x="489.8" y="215.33" width="2.85" height="18.27"/></g>
<g fill="#FF0000" fill-opacity="0.5"><rect x="400.2" y="197.2" width="2.85" height="36.4"/><rect x="442.1" y="197.2" width="2.85" height="36.4"/><rect x="458.7" y="196.9" width="2.85" height="36.7"/><rect x="492.2" y="178.7" width="2.85" height="54.9"/><rect x="501" y="196.9" width="2.85" height="36.7"/><rect x="534" y="196.9" width="2.85" height="36.7"/><rect x="551.2" y="215.1" width="2.85" height="18.5"/><rect x="559.1" y="215.1" width="2.85" height="18.5"/><rect x="567.6" y="215.1" width="2.85" height="18.5"/><rect x="576.2" y="215.1" width="2.85" height="18.5"/><rect x="584.1" y="215.1" width="2.85" height="18.5"/><rect x="609.3" y="215.1" width="2.85" height="18.5"/><rect x="626.1" y="215.1" width="2.85" height="18.5"/><rect x="391.5" y="223.87" width="2.85" height="9.73"/><rect x="408" y="219.77" width="2.85" height="13.83"/><rect x="419.8" y="216.3" width="2.85" height="17.3"/><rect x="428.2" y="215.1" width="2.85" height="18.5"/><rect x="450.6" y="215.1" width="2.85" height="18.5"/><rect x="467.3" y="215.1" width="2.85" height="18.5"/><rect x="475.9" y="215.1" width="2.85" height="18.5"/><rect x="484" y="215.1" width="2.85" height="18.5"/><rect x="509.3" y="220.54" width="2.85" height="13.06"/><rect x="514.8" y="221.54" width="2.85" height="12.06"/><rect x="523.2" y="223.05" width="2.85" height="10.55"/><rect x="539.9" y="224.07" width="2.85" height="9.53"/><rect x="545.5" y="223.95" width="2.85" height="9.65"/><rect x="592.5" y="224.17" width="2.85" height="9.43"/><rect x="600.9" y="225.52" width="2.85" height="8.08"/></g>
<path d="M387,216.5C387.25,216.42 388,216.18 388.5,216.03C389,215.87 389.5,215.71 390,215.55C390.5,215.39 391,215.24 391.5,215.08C392,214.92 392.5,214.76 393,214.6C393.5,214.44 394,214.29 394.5,214.13C395,213.97 395.5,213.81 396,213.65C396.5,213.5 397,213.34 397.5,213.18C398,213.03 398.5,212.87 399,212.72C399.5,212.57 400,212.42 400.5,212.28C401,212.14 401.5,212 402,211.87C402.5,211.73 403,211.6 403.5,211.47C404,211.35 404.5,211.22 405,211.09C405.5,210.97 406,210.84 406.5,210.71C407,210.59 407.5,210.46 408,210.34C408.5,210.21 409,210.09 409.5,209.96C410,209.83 410.5,209.71 411,209.59C411.5,209.46 412,209.34 412.5,209.22C413,209.11 413.5,209 414,208.9C414.5,208.8 415,208.72 415.5,208.65C416,208.57 416.5,208.52 417,208.46C417.5,208.41 418,208.37 418.5,208.33C419,208.29 419.5,208.25 420,208.21C420.5,208.17 421,208.13 421.5,208.09C422,208.05 422.5,208.02 423,207.98C423.5,207.94 424,207.9 424.5,207.86C425,207.82 425.5,207.79 426,207.75C426.5,207.71 427,207.68 427.5,207.64C428,207.61 428.5,207.58 429,207.55C429.5,207.53 430,207.51 430.5,207.49C431,207.47 431.5,207.46 432,207.45C432.5,207.43 433,207.42 433.5,207.41C434,207.4 434.5,207.39 435,207.38C435.5,207.37 436,207.36 436.5,207.35C437,207.34 437.5,207.33 438,207.32C438.5,207.31 439,207.3 439.5,207.29C440,207.28 440.5,207.27 441,207.26C441.5,207.25 442,207.25 442.5,207.24C443,207.24 443.5,207.24 444,207.25C444.5,207.26 445,207.27 445.5,207.28C446,207.29 446.5,207.31 447,207.33C447.5,207.35 448,207.37 448.5,207.38C449,207.4 449.5,207.42 450,207.44C450.5,207.46 451,207.48 451.5,207.5C452,207.51 452.5,207.53 453,207.55C453.5,207.57 454,207.59 454.5,207.61C455,207.63 455.5,207.65 456,207.66C456.5,207.68 457,207.7 457.5,207.72C458,207.74 458.5,207.76 459,207.78C459.5,207.8 460,207.83 460.5,207.86C461,207.89 461.5,207.92 462,207.97C462.5,208.01 463,208.06 463.5,208.12C464,208.18 464.5,208.25 465,208.32C465.5,208.4 466,208.47 466.5,208.55C467,208.62 467.5,208.7 468,208.78C468.5,208.85 469,208.93 469.5,209.01C470,209.08 470.5,209.16 471,209.24C471.5,209.32 472,209.39 472.5,209.47C473,209.55 473.5,209.62 474,209.7C474.5,209.78 475,209.86 475.5,209.95C476,210.03 476.5,210.12 477,210.21C477.5,210.3 478,210.39 478.5,210.48C479,210.58 479.5,210.68 480,210.77C480.5,210.87 481,210.97 481.5,211.07C482,211.17 482.5,211.27 483,211.38C483.5,211.49 484,211.6 484.5,211.72C485,211.84 485.5,211.97 486,212.11C486.5,212.24 487,212.39 487.5,212.54C488,212.69 488.5,212.85 489,213C489.5,213.15 490,213.31 490.5,213.46C491,213.62 491.5,213.77 492,213.93C492.5,214.08 493,214.23 493.5,214.38C494,214.53 494.5,214.68 495,214.83C495.5,214.98 496,215.13 496.5,215.28C497,215.43 497.5,215.58 498,215.73C498.5,215.89 499,216.04 499.5,216.19C500,216.34 500.5,216.49 501,216.64C501.5,216.79 502,216.94 502.5,217.08C503,217.23 503.5,217.38 504,217.52C504.5,217.66 505,217.8 505.5,217.93C506,218.06 506.5,218.19 507,218.31C507.5,218.44 508,218.56 508.5,218.68C509,218.8 509.5,218.91 510,219.03C510.5,219.15 511,219.27 511.5,219.39C512,219.51 512.5,219.62 513,219.74C513.5,219.86 514,219.98 514.5,220.1C515,220.21 515.5,220.33 516,220.45C516.5,220.57 517,220.68 517.5,220.8C518,220.91 518.5,221.03 519,221.14C519.5,221.24 520,221.35 520.5,221.45C521,221.56 521.5,221.66 522,221.76C522.5,221.86 523,221.95 523.5,222.05C524,222.15 524.5,222.24 525,222.34C525.5,222.43 526,222.53 526.5,222.62C527,222.72 527.5,222.81 528,222.9C528.5,222.99 529,223.07 529.5,223.15C530,223.23 530.5,223.3 531,223.36C531.5,223.42 532,223.48 532.5,223.53C533,223.59 533.5,223.63 534,223.68C534.5,223.73 535,223.78 535.5,223.82C536,223.87 536.5,223.91 537,223.95C537.5,223.99 538,224.02 538.5,224.05C539,224.08 539.5,224.1 540,224.12C540.5,224.14 541,224.15 541.5,224.16C542,224.18 542.5,224.19 543,224.2C543.5,224.21 544,224.22 544.5,224.23C545,224.24 545.5,224.25 546,224.26C546.5,224.27 547,224.28 547.5,224.29C548,224.3 548.5,224.31 549,224.33C549.5,224.34 550,224.35 550.5,224.36C551,224.38 551.5,224.4 552,224.42C552.5,224.44 553,224.46 553.5,224.49C554,224.52 554.5,224.56 555,224.59C555.5,224.63 556,224.66 556.5,224.7C557,224.74 557.5,224.78 558,224.82C558.5,224.85 559,224.89 559.5,224.93C560,224.97 560.5,225.01 561,225.05C561.5,225.08 562,225.12 562.5,225.16C563,225.2 563.5,225.24 564,225.28C564.5,225.33 565,225.37 565.5,225.42C566,225.47 566.5,225.52 567,225.58C567.5,225.65 568,225.72 568.5,225.79C569,225.86 569.5,225.94 570,226.02C570.5,226.11 571,226.19 571.5,226.27C572,226.36 572.5,226.44 573,226.52C573.5,226.61 574,226.69 574.5,226.78C575,226.86 575.5,226.94 576,227.03C576.5,227.11 577,227.2 577.5,227.28C578,227.36 578.5,227.45 579,227.53C579.5,227.61 580,227.69 580.5,227.77C581,227.85 581.5,227.93 582,228.01C582.5,228.08 583,228.16 583.5,228.23C584,228.31 584.5,228.38 585,228.45C585.5,228.53 586,228.6 586.5,228.67C587,228.75 587.5,228.82 588,228.89C588.5,228.96 589,229.04 589.5,229.11C590,229.18 590.5,229.26 591,229.33C591.5,229.4 592,229.47 592.5,229.55C593,229.62 593.5,229.69 594,229.75C594.5,229.82 595,229.89 595.5,229.95C596,230.01 596.5,230.06 597,230.12C597.5,230.17 598,230.22 598.5,230.27C599,230.32 599.5,230.37 600,230.42C600.5,230.47 601,230.52 601.5,230.57C602,230.62 602.5,230.67 603,230.73C603.5,230.78 604,230.85 604.5,230.91C605,230.98 605.5,231.05 606,231.12C606.5,231.19 607,231.26 607.5,231.34C608,231.42 608.5,231.49 609,231.57C609.5,231.65 610,231.72 610.5,231.8C611,231.88 611.5,231.95 612,232.03C612.5,232.11 613,232.18 613.5,232.26C614,232.34 614.5,232.42 615,232.49C615.5,232.57 616,232.65 616.5,232.72C617,232.8 617.5,232.88 618,232.95C618.5,233.03 619,233.1 619.5,233.18C620,233.25 620.55,233.32 621,233.39C621.45,233.46 622,233.57 622.2,233.6L622.2,233.6L387,233.6Z" fill="#00FF00" fill-opacity="0.5"/>
<path d="M387,216.5C387.25,216.42 388,216.18 388.5,216.03C389,215.87 389.5,215.71 390,215.55C390.5,215.39 391,215.24 391.5,215.08C392,214.92 392.5,214.76 393,214.6C393.5,214.44 394,214.29 394.5,214.13C395,213.97 395.5,213.81 396,213.65C396.5,213.5 397,213.34 397.5,213.18C398,213.03 398.5,212.87 399,212.72C399.5,212.57 400,212.42 400.5,212.28C401,212.14 401.5,212 402,211.87C402.5,211.73 403,211.6 403.5,211.47C404,211.35 404.5,211.22 405,211.09C405.5,210.97 406,210.84 406.5,210.71C407,210.59 407.5,210.46 408,210.34C408.5,210.21 409,210.09 409.5,209.96C410,209.83 410.5,209.71 411,209.59C411.5,209.46 412,209.34 412.5,209.22C413,209.11 413.5,209 414,208.9C414.5,208.8 415,208.72 415.5,208.65C416,208.57 416.5,208.52 417,208.46C417.5,208.41 418,208.37 418.5,208.33C419,208.29 419.5,208.25 420,208.21C420.5,208.17 421,208.13 421.5,208.09C422,208.05 422.5,208.02 423,207.98C423.5,207.94 424,207.9 424.5,207.86C425,207.82 425.5,207.79 426,207.75C426.5,207.71 427,207.68 427.5,207.64C428,207.61 428.5,207.58 429,207.55C429.5,207.53 430,207.51 430.5,207.49C431,207.47 431.5,207.46 432,207.45C432.5,207.43 433,207.42 433.5,207.41C434,207.4 434.5,207.39 435,207.38C435.5,207.37 436,207.36 436.5,207.35C437,207.34 437.5,207.33 438,207.32C438.5,207.31 439,207.3 439.5,207.29C440,207.28 440.5,207.27 441,207.26C441.5,207.25 442,207.25 442.5,207.24C443,207.24 443.5,207.24 444,207.25C444.5,207.26 445,207.27 445.5,207.28C446,207.29 446.5,207.31 447,207.33C447.5,207.35 448,207.37 448.5,207.38C449,207.4 449.5,207.42 450,207.44C450.5,207.46 451,207.48 451.5,207.5C452,207.51 452.5,207.53 453,207.55C453.5,207.57 454,207.59 454.5,207.61C455,207.63 455.5,207.65 456,207.66C456.5,207.68 457,207.7 457.5,207.72C458,207.74 458.5,207.76 459,207.78C459.5,207.8 460,207.83 460.5,207.86C461,207.89 461.5,207.92 462,207.97C462.5,208.01 463,208.06 463.5,208.12C464,208.18 464.5,208.25 465,208.32C465.5,208.4 466,208.47 466.5,208.55C467,208.62 467.5,208.7 468,208.78C468.5,208.85 469,208.93 469.5,209.01C470,209.08 470.5,209.16 471,209.24C471.5,209.32 472,209.39 472.5,209.47C473,209.55 473.5,209.62 474,209.7C474.5,209.78 475,209.86 475.5,209.95C476,210.03 476.5,210.12 477,210.21C477.5,210.3 478,210.39 478.5,210.48C479,210.58 479.5,210.68 480,210.77C480.5,210.87 481,210.97 481.5,211.07C482,211.17 482.5,211.27 483,211.38C483.5,211.49 484,211.6 484.5,211.72C485,211.84 485.5,211.97 486,212.11C486.5,212.24 487,212.39 487.5,212.54C488,212.69 488.5,212.85 489,213C489.5,213.15 490,213.31 490.5,213.46C491,213.62 491.5,213.77 492,213.93C492.5,214.08 493,214.23 493.5,214.38C494,214.53 494.5,214.68 495,214.83C495.5,214.98 496,215.13 496.5,215.28C497,215.43 497.5,215.58 498,215.73C498.5,215.89 499,216.04 499.5,216.19C500,216.34 500.5,216.49 501,216.64C501.5,216.79 502,216.94 502.5,217.08C503,217.23 503.5,217.38 504,217.52C504.5,217.66 505,217.8 505.5,217.93C506,218.06 506.5,218.19 507,218.31C507.5,218.44 508,218.56 508.5,218.68C509,218.8 509.5,218.91 510,219.03C510.5,219.15 511,219.27 511.5,219.39C512,219.51 512.5,219.62 513,219.74C513.5,219.86 514,219.98 514.5,220.1C515,220.21 515.5,220.33 516,220.45C516.5,220.57 517,220.68 517.5,220.8C518,220.91 518.5,221.03 519,221.14C519.5,221.24 520,221.35 520.5,221.45C521,221.56 521.5,221.66 522,221.76C522.5,221.86 523,221.95 523.5,222.05C524,222.15 524.5,222.24 525,222.34C525.5,222.43 526,222.53 526.5,222.62C527,222.72 527.5,222.81 528,222.9C528.5,222.99 529,223.07 529.5,223.15C530,223.23 530.5,223.3 531,223.36C531.5,223.42 532,223.48 532.5,223.53C533,223.59 533.5,223.63 534,223.68C534.5,223.73 535,223.78 535.5,223.82C536,223.87 536.5,223.91 537,223.95C537.5,223.99 538,224.02 538.5,224.05C539,224.08 539.5,224.1 540,224.12C540.5,224.14 541,224.15 541.5,224.16C542,224.18 542.5,224.19 543,224.2C543.5,224.21 544,224.22 544.5,224.23C545,224.24 545.5,224.25 546,224.26C546.5,224.27 547,224.28 547.5,224.29C548,224.3 548.5,224.31 549,224.33C549.5,224.34 550,224.35 550.5,224.36C551,224.38 551.5,224.4 552,224.42C552.5,224.44 553,224.46 553.5,224.49C554,224.52 554.5,224.56 555,224.59C555.5,224.63 556,224.66 556.5,224.7C557,224.74 557.5,224.78 558,224.82C558.5,224.85 559,224.89 559.5,224.93C560,224.97 560.5,225.01 561,225.05C561.5,225.08 562,225.12 562.5,225.16C563,225.2 563.5,225.24 564,225.28C564.5,225.33 565,225.37 565.5,225.42C566,225.47 566.5,225.52 567,225.58C567.5,225.65 568,225.72 568.5,225.79C569,225.86 569.5,225.94 570,226.02C570.5,226.11 571,226.19 571.5,226.27C572,226.36 572.5,226.44 573,226.52C573.5,226.61 574,226.69 574.5,226.78C575,226.86 575.5,226.94 576,227.03C576.5,227.11 577,227.2 577.5,227.28C578,227.36 578.5,227.45 579,227.53C579.5,227.61 580,227.69 580.5,227.77C581,227.85 581.5,227.93 582,228.01C582.5,228.08 583,228.16 583.5,228.23C584,228.31 584.5,228.38 585,228.45C585.5,228.53 586,228.6 586.5,228.67C587,228.75 587.5,228.82 588,228.89C588.5,228.96 589,229.04 589.5,229.11C590,229.18 590.5,229.26 591,229.33C591.5,229.4 592,229.47 592.5,229.55C593,229.62 593.5,229.69 594,229.75C594.5,229.82 595,229.89 595.5,229.95C596,230.01 596.5,230.06 597,230.12C597.5,230.17 598,230.22 598.5,230.27C599,230.32 599.5,230.37 600,230.42C600.5,230.47 601,230.52 601.5,230.57C602,230.62 602.5,230.67 603,230.73C603.5,230.78 604,230.85 604.5,230.91C605,230.98 605.5,231.05 606,231.12C606.5,231.19 607,231.26 607.5,231.34C608,231.42 608.5,231.49 609,231.57C609.5,231.65 610,231.72 610.5,231.8C611,231.88 611.5,231.95 612,232.03C612.5,232.11 613,232.18 613.5,232.26C614,232.34 614.5,232.42 615,232.49C615.5,232.57 616,232.65 616.5,232.72C617,232.8 617.5,232.88 618,232.95C618.5,233.03 619,233.1 619.5,233.18C620,233.25 620.55,233.32 621,233.39C621.45,233.46 622,233.57 622.2,233.6" fill="none" stroke="#00FF00" stroke-width="1.6" stroke-linejoin="round"/>
<path d="M387,223.6C387.25,223.55 388,223.39 388.5,223.29C389,223.19 389.5,223.09 390,222.98C390.5,222.88 391,222.78 391.5,222.67C392,222.57 392.5,222.47 393,222.36C393.5,222.26 394,222.16 394.5,222.06C395,221.95 395.5,221.85 396,221.75C396.5,221.64 397,221.54 397.5,221.43C398,221.33 398.5,221.22 399,221.11C399.5,220.99 400,220.88 400.5,220.75C401,220.62 401.5,220.49 402,220.35C402.5,220.21 403,220.07 403.5,219.92C404,219.78 404.5,219.63 405,219.48C405.5,219.33 406,219.18 406.5,219.03C407,218.88 407.5,218.73 408,218.57C408.5,218.42 409,218.27 409.5,218.12C410,217.97 410.5,217.82 411,217.67C411.5,217.52 412,217.37 412.5,217.22C413,217.07 413.5,216.92 414,216.78C414.5,216.63 415,216.48 415.5,216.34C416,216.19 416.5,216.04 417,215.9C417.5,215.76 418,215.61 418.5,215.47C419,215.32 419.5,215.18 420,215.04C420.5,214.89 421,214.75 421.5,214.61C422,214.46 422.5,214.32 423,214.18C423.5,214.03 424,213.89 424.5,213.75C425,213.61 425.5,213.46 426,213.32C426.5,213.18 427,213.04 427.5,212.91C428,212.78 428.5,212.65 429,212.54C429.5,212.42 430,212.31 430.5,212.21C431,212.11 431.5,212.01 432,211.92C432.5,211.83 433,211.74 433.5,211.65C434,211.57 434.5,211.48 435,211.39C435.5,211.31 436,211.22 436.5,211.13C437,211.05 437.5,210.96 438,210.87C438.5,210.79 439,210.7 439.5,210.61C440,210.53 440.5,210.44 441,210.36C441.5,210.28 442,210.2 442.5,210.13C443,210.06 443.5,210 444,209.95C444.5,209.89 445,209.85 445.5,209.81C446,209.77 446.5,209.73 447,209.7C447.5,209.67 448,209.64 448.5,209.61C449,209.58 449.5,209.56 450,209.54C450.5,209.51 451,209.5 451.5,209.49C452,209.48 452.5,209.47 453,209.48C453.5,209.48 454,209.49 454.5,209.51C455,209.52 455.5,209.54 456,209.56C456.5,209.57 457,209.59 457.5,209.61C458,209.63 458.5,209.65 459,209.67C459.5,209.69 460,209.72 460.5,209.74C461,209.76 461.5,209.79 462,209.82C462.5,209.85 463,209.88 463.5,209.92C464,209.95 464.5,209.99 465,210.03C465.5,210.07 466,210.11 466.5,210.15C467,210.19 467.5,210.24 468,210.28C468.5,210.32 469,210.36 469.5,210.4C470,210.45 470.5,210.49 471,210.53C471.5,210.57 472,210.61 472.5,210.66C473,210.7 473.5,210.74 474,210.79C474.5,210.83 475,210.88 475.5,210.93C476,210.98 476.5,211.03 477,211.09C477.5,211.15 478,211.21 478.5,211.28C479,211.34 479.5,211.41 480,211.48C480.5,211.55 481,211.61 481.5,211.69C482,211.76 482.5,211.83 483,211.91C483.5,211.99 484,212.08 484.5,212.17C485,212.27 485.5,212.37 486,212.49C486.5,212.6 487,212.73 487.5,212.86C488,212.99 488.5,213.13 489,213.26C489.5,213.4 490,213.54 490.5,213.68C491,213.82 491.5,213.96 492,214.1C492.5,214.24 493,214.38 493.5,214.52C494,214.66 494.5,214.8 495,214.93C495.5,215.07 496,215.21 496.5,215.35C497,215.48 497.5,215.62 498,215.75C498.5,215.88 499,216.02 499.5,216.14C500,216.27 500.5,216.4 501,216.53C501.5,216.66 502,216.78 502.5,216.91C503,217.03 503.5,217.16 504,217.29C504.5,217.41 505,217.54 505.5,217.66C506,217.79 506.5,217.91 507,218.04C507.5,218.17 508,218.29 508.5,218.42C509,218.54 509.5,218.67 510,218.79C510.5,218.91 511,219.03 511.5,219.14C512,219.26 512.5,219.37 513,219.47C513.5,219.57 514,219.67 514.5,219.77C515,219.86 515.5,219.95 516,220.04C516.5,220.14 517,220.23 517.5,220.32C518,220.41 518.5,220.49 519,220.58C519.5,220.67 520,220.76 520.5,220.85C521,220.94 521.5,221.03 522,221.12C522.5,221.21 523,221.3 523.5,221.39C524,221.48 524.5,221.57 525,221.66C525.5,221.74 526,221.83 526.5,221.9C527,221.98 527.5,222.05 528,222.11C528.5,222.17 529,222.23 529.5,222.27C530,222.32 530.5,222.36 531,222.4C531.5,222.44 532,222.47 532.5,222.5C533,222.54 533.5,222.57 534,222.61C534.5,222.64 535,222.67 535.5,222.7C536,222.73 536.5,222.76 537,222.78C537.5,222.81 538,222.82 538.5,222.83C539,222.84 539.5,222.85 540,222.84C540.5,222.84 541,222.84 541.5,222.83C542,222.82 542.5,222.81 543,222.8C543.5,222.79 544,222.78 544.5,222.77C545,222.76 545.5,222.75 546,222.74C546.5,222.73 547,222.72 547.5,222.71C548,222.7 548.5,222.69 549,222.67C549.5,222.66 550,222.65 550.5,222.64C551,222.63 551.5,222.61 552,222.59C552.5,222.58 553,222.56 553.5,222.53C554,222.51 554.5,222.49 555,222.46C555.5,222.44 556,222.41 556.5,222.38C557,222.35 557.5,222.33 558,222.3C558.5,222.27 559,222.24 559.5,222.21C560,222.19 560.5,222.16 561,222.13C561.5,222.1 562,222.07 562.5,222.05C563,222.02 563.5,221.99 564,221.96C564.5,221.94 565,221.91 565.5,221.88C566,221.86 566.5,221.83 567,221.81C567.5,221.78 568,221.76 568.5,221.74C569,221.71 569.5,221.69 570,221.67C570.5,221.65 571,221.63 571.5,221.61C572,221.6 572.5,221.58 573,221.57C573.5,221.56 574,221.56 574.5,221.56C575,221.56 575.5,221.56 576,221.57C576.5,221.58 577,221.59 577.5,221.6C578,221.62 578.5,221.63 579,221.65C579.5,221.66 580,221.68 580.5,221.69C581,221.71 581.5,221.72 582,221.74C582.5,221.76 583,221.78 583.5,221.8C584,221.83 584.5,221.85 585,221.88C585.5,221.91 586,221.94 586.5,221.97C587,222 587.5,222.04 588,222.07C588.5,222.11 589,222.14 589.5,222.18C590,222.21 590.5,222.25 591,222.28C591.5,222.31 592,222.35 592.5,222.38C593,222.42 593.5,222.45 594,222.48C594.5,222.52 595,222.55 595.5,222.58C596,222.61 596.5,222.63 597,222.66C597.5,222.69 598,222.71 598.5,222.74C599,222.76 599.5,222.79 600,222.81C600.5,222.84 601,222.86 601.5,222.89C602,222.92 602.5,222.95 603,222.99C603.5,223.03 604,223.07 604.5,223.13C605,223.18 605.5,223.24 606,223.3C606.5,223.37 607,223.44 607.5,223.51C608,223.58 608.5,223.65 609,223.72C609.5,223.79 610,223.87 610.5,223.94C611,224.01 611.5,224.09 612,224.16C612.5,224.24 613,224.31 613.5,224.39C614,224.47 614.5,224.55 615,224.63C615.5,224.71 616,224.79 616.5,224.87C617,224.95 617.5,225.03 618,225.11C618.5,225.19 619,225.28 619.5,225.35C620,225.43 620.55,225.51 621,225.58C621.45,225.66 622,225.76 622.2,225.8L622.2,233.6L387,233.6Z" fill="#0000FF" fill-opacity="0.5"/>
<path d="M387,223.6C387.25,223.55 388,223.39 388.5,223.29C389,223.19 389.5,223.09 390,222.98C390.5,222.88 391,222.78 391.5,222.67C392,222.57 392.5,222.47 393,222.36C393.5,222.26 394,222.16 394.5,222.06C395,221.95 395.5,221.85 396,221.75C396.5,221.64 397,221.54 397.5,221.43C398,221.33 398.5,221.22 399,221.11C399.5,220.99 400,220.88 400.5,220.75C401,220.62 401.5,220.49 402,220.35C402.5,220.21 403,220.07 403.5,219.92C404,219.78 404.5,219.63 405,219.48C405.5,219.33 406,219.18 406.5,219.03C407,218.88 407.5,218.73 408,218.57C408.5,218.42 409,218.27 409.5,218.12C410,217.97 410.5,217.82 411,217.67C411.5,217.52 412,217.37 412.5,217.22C413,217.07 413.5,216.92 414,216.78C414.5,216.63 415,216.48 415.5,216.34C416,216.19 416.5,216.04 417,215.9C417.5,215.76 418,215.61 418.5,215.47C419,215.32 419.5,215.18 420,215.04C420.5,214.89 421,214.75 421.5,214.61C422,214.46 422.5,214.32 423,214.18C423.5,214.03 424,213.89 424.5,213.75C425,213.61 425.5,213.46 426,213.32C426.5,213.18 427,213.04 427.5,212.91C428,212.78 428.5,212.65 429,212.54C429.5,212.42 430,212.31 430.5,212.21C431,212.11 431.5,212.01 432,211.92C432.5,211.83 433,211.74 433.5,211.65C434,211.57 434.5,211.48 435,211.39C435.5,211.31 436,211.22 436.5,211.13C437,211.05 437.5,210.96 438,210.87C438.5,210.79 439,210.7 439.5,210.61C440,210.53 440.5,210.44 441,210.36C441.5,210.28 442,210.2 442.5,210.13C443,210.06 443.5,210 444,209.95C444.5,209.89 445,209.85 445.5,209.81C446,209.77 446.5,209.73 447,209.7C447.5,209.67 448,209.64 448.5,209.61C449,209.58 449.5,209.56 450,209.54C450.5,209.51 451,209.5 451.5,209.49C452,209.48 452.5,209.47 453,209.48C453.5,209.48 454,209.49 454.5,209.51C455,209.52 455.5,209.54 456,209.56C456.5,209.57 457,209.59 457.5,209.61C458,209.63 458.5,209.65 459,209.67C459.5,209.69 460,209.72 460.5,209.74C461,209.76 461.5,209.79 462,209.82C462.5,209.85 463,209.88 463.5,209.92C464,209.95 464.5,209.99 465,210.03C465.5,210.07 466,210.11 466.5,210.15C467,210.19 467.5,210.24 468,210.28C468.5,210.32 469,210.36 469.5,210.4C470,210.45 470.5,210.49 471,210.53C471.5,210.57 472,210.61 472.5,210.66C473,210.7 473.5,210.74 474,210.79C474.5,210.83 475,210.88 475.5,210.93C476,210.98 476.5,211.03 477,211.09C477.5,211.15 478,211.21 478.5,211.28C479,211.34 479.5,211.41 480,211.48C480.5,211.55 481,211.61 481.5,211.69C482,211.76 482.5,211.83 483,211.91C483.5,211.99 484,212.08 484.5,212.17C485,212.27 485.5,212.37 486,212.49C486.5,212.6 487,212.73 487.5,212.86C488,212.99 488.5,213.13 489,213.26C489.5,213.4 490,213.54 490.5,213.68C491,213.82 491.5,213.96 492,214.1C492.5,214.24 493,214.38 493.5,214.52C494,214.66 494.5,214.8 495,214.93C495.5,215.07 496,215.21 496.5,215.35C497,215.48 497.5,215.62 498,215.75C498.5,215.88 499,216.02 499.5,216.14C500,216.27 500.5,216.4 501,216.53C501.5,216.66 502,216.78 502.5,216.91C503,217.03 503.5,217.16 504,217.29C504.5,217.41 505,217.54 505.5,217.66C506,217.79 506.5,217.91 507,218.04C507.5,218.17 508,218.29 508.5,218.42C509,218.54 509.5,218.67 510,218.79C510.5,218.91 511,219.03 511.5,219.14C512,219.26 512.5,219.37 513,219.47C513.5,219.57 514,219.67 514.5,219.77C515,219.86 515.5,219.95 516,220.04C516.5,220.14 517,220.23 517.5,220.32C518,220.41 518.5,220.49 519,220.58C519.5,220.67 520,220.76 520.5,220.85C521,220.94 521.5,221.03 522,221.12C522.5,221.21 523,221.3 523.5,221.39C524,221.48 524.5,221.57 525,221.66C525.5,221.74 526,221.83 526.5,221.9C527,221.98 527.5,222.05 528,222.11C528.5,222.17 529,222.23 529.5,222.27C530,222.32 530.5,222.36 531,222.4C531.5,222.44 532,222.47 532.5,222.5C533,222.54 533.5,222.57 534,222.61C534.5,222.64 535,222.67 535.5,222.7C536,222.73 536.5,222.76 537,222.78C537.5,222.81 538,222.82 538.5,222.83C539,222.84 539.5,222.85 540,222.84C540.5,222.84 541,222.84 541.5,222.83C542,222.82 542.5,222.81 543,222.8C543.5,222.79 544,222.78 544.5,222.77C545,222.76 545.5,222.75 546,222.74C546.5,222.73 547,222.72 547.5,222.71C548,222.7 548.5,222.69 549,222.67C549.5,222.66 550,222.65 550.5,222.64C551,222.63 551.5,222.61 552,222.59C552.5,222.58 553,222.56 553.5,222.53C554,222.51 554.5,222.49 555,222.46C555.5,222.44 556,222.41 556.5,222.38C557,222.35 557.5,222.33 558,222.3C558.5,222.27 559,222.24 559.5,222.21C560,222.19 560.5,222.16 561,222.13C561.5,222.1 562,222.07 562.5,222.05C563,222.02 563.5,221.99 564,221.96C564.5,221.94 565,221.91 565.5,221.88C566,221.86 566.5,221.83 567,221.81C567.5,221.78 568,221.76 568.5,221.74C569,221.71 569.5,221.69 570,221.67C570.5,221.65 571,221.63 571.5,221.61C572,221.6 572.5,221.58 573,221.57C573.5,221.56 574,221.56 574.5,221.56C575,221.56 575.5,221.56 576,221.57C576.5,221.58 577,221.59 577.5,221.6C578,221.62 578.5,221.63 579,221.65C579.5,221.66 580,221.68 580.5,221.69C581,221.71 581.5,221.72 582,221.74C582.5,221.76 583,221.78 583.5,221.8C584,221.83 584.5,221.85 585,221.88C585.5,221.91 586,221.94 586.5,221.97C587,222 587.5,222.04 588,222.07C588.5,222.11 589,222.14 589.5,222.18C590,222.21 590.5,222.25 591,222.28C591.5,222.31 592,222.35 592.5,222.38C593,222.42 593.5,222.45 594,222.48C594.5,222.52 595,222.55 595.5,222.58C596,222.61 596.5,222.63 597,222.66C597.5,222.69 598,222.71 598.5,222.74C599,222.76 599.5,222.79 600,222.81C600.5,222.84 601,222.86 601.5,222.89C602,222.92 602.5,222.95 603,222.99C603.5,223.03 604,223.07 604.5,223.13C605,223.18 605.5,223.24 606,223.3C606.5,223.37 607,223.44 607.5,223.51C608,223.58 608.5,223.65 609,223.72C609.5,223.79 610,223.87 610.5,223.94C611,224.01 611.5,224.09 612,224.16C612.5,224.24 613,224.31 613.5,224.39C614,224.47 614.5,224.55 615,224.63C615.5,224.71 616,224.79 616.5,224.87C617,224.95 617.5,225.03 618,225.11C618.5,225.19 619,225.28 619.5,225.35C620,225.43 620.55,225.51 621,225.58C621.45,225.66 622,225.76 622.2,225.8" fill="none" stroke="#0000FF" stroke-width="1.6" stroke-linejoin="round"/>
<path d="M387,225.1C387.25,225.05 388,224.89 388.5,224.78C389,224.67 389.5,224.57 390,224.46C390.5,224.35 391,224.25 391.5,224.14C392,224.03 392.5,223.93 393,223.82C393.5,223.71 394,223.61 394.5,223.5C395,223.39 395.5,223.29 396,223.18C396.5,223.08 397,222.97 397.5,222.86C398,222.76 398.5,222.66 399,222.56C399.5,222.46 400,222.36 400.5,222.27C401,222.18 401.5,222.1 402,222.01C402.5,221.93 403,221.85 403.5,221.78C404,221.7 404.5,221.63 405,221.55C405.5,221.48 406,221.41 406.5,221.33C407,221.26 407.5,221.19 408,221.11C408.5,221.04 409,220.97 409.5,220.89C410,220.82 410.5,220.75 411,220.67C411.5,220.6 412,220.53 412.5,220.46C413,220.38 413.5,220.31 414,220.24C414.5,220.18 415,220.11 415.5,220.04C416,219.98 416.5,219.92 417,219.85C417.5,219.79 418,219.73 418.5,219.67C419,219.61 419.5,219.55 420,219.49C420.5,219.43 421,219.37 421.5,219.32C422,219.26 422.5,219.2 423,219.14C423.5,219.08 424,219.02 424.5,218.96C425,218.9 425.5,218.84 426,218.78C426.5,218.72 427,218.66 427.5,218.6C428,218.54 428.5,218.48 429,218.41C429.5,218.35 430,218.29 430.5,218.22C431,218.16 431.5,218.09 432,218.03C432.5,217.96 433,217.9 433.5,217.83C434,217.77 434.5,217.7 435,217.63C435.5,217.57 436,217.5 436.5,217.44C437,217.37 437.5,217.3 438,217.24C438.5,217.17 439,217.11 439.5,217.04C440,216.98 440.5,216.91 441,216.84C441.5,216.78 442,216.71 442.5,216.65C443,216.58 443.5,216.51 444,216.45C444.5,216.38 445,216.32 445.5,216.25C446,216.19 446.5,216.12 447,216.05C447.5,215.99 448,215.92 448.5,215.86C449,215.79 449.5,215.73 450,215.67C450.5,215.6 451,215.54 451.5,215.48C452,215.42 452.5,215.36 453,215.3C453.5,215.25 454,215.19 454.5,215.14C455,215.08 455.5,215.03 456,214.97C456.5,214.92 457,214.87 457.5,214.81C458,214.76 458.5,214.71 459,214.65C459.5,214.6 460,214.54 460.5,214.48C461,214.43 461.5,214.37 462,214.31C462.5,214.24 463,214.18 463.5,214.11C464,214.04 464.5,213.97 465,213.9C465.5,213.83 466,213.76 466.5,213.68C467,213.61 467.5,213.54 468,213.46C468.5,213.39 469,213.32 469.5,213.24C470,213.17 470.5,213.1 471,213.02C471.5,212.95 472,212.88 472.5,212.8C473,212.73 473.5,212.66 474,212.59C474.5,212.52 475,212.45 475.5,212.38C476,212.32 476.5,212.26 477,212.2C477.5,212.15 478,212.09 478.5,212.05C479,212 479.5,211.95 480,211.91C480.5,211.86 481,211.82 481.5,211.77C482,211.73 482.5,211.69 483,211.64C483.5,211.6 484,211.56 484.5,211.52C485,211.48 485.5,211.43 486,211.4C486.5,211.37 487,211.33 487.5,211.31C488,211.29 488.5,211.28 489,211.28C489.5,211.27 490,211.28 490.5,211.28C491,211.29 491.5,211.31 492,211.32C492.5,211.33 493,211.35 493.5,211.36C494,211.38 494.5,211.39 495,211.41C495.5,211.43 496,211.45 496.5,211.48C497,211.5 497.5,211.53 498,211.57C498.5,211.61 499,211.66 499.5,211.72C500,211.77 500.5,211.83 501,211.89C501.5,211.95 502,212.02 502.5,212.09C503,212.15 503.5,212.22 504,212.28C504.5,212.35 505,212.42 505.5,212.48C506,212.55 506.5,212.62 507,212.68C507.5,212.75 508,212.82 508.5,212.88C509,212.95 509.5,213.02 510,213.08C510.5,213.15 511,213.22 511.5,213.29C512,213.36 512.5,213.42 513,213.5C513.5,213.57 514,213.64 514.5,213.71C515,213.78 515.5,213.86 516,213.93C516.5,214 517,214.07 517.5,214.15C518,214.22 518.5,214.29 519,214.37C519.5,214.44 520,214.51 520.5,214.59C521,214.66 521.5,214.73 522,214.8C522.5,214.87 523,214.94 523.5,215C524,215.06 524.5,215.12 525,215.18C525.5,215.24 526,215.29 526.5,215.34C527,215.39 527.5,215.44 528,215.49C528.5,215.54 529,215.59 529.5,215.64C530,215.69 530.5,215.74 531,215.79C531.5,215.83 532,215.88 532.5,215.93C533,215.98 533.5,216.03 534,216.08C534.5,216.13 535,216.18 535.5,216.23C536,216.27 536.5,216.32 537,216.37C537.5,216.42 538,216.47 538.5,216.52C539,216.57 539.5,216.62 540,216.67C540.5,216.72 541,216.76 541.5,216.81C542,216.86 542.5,216.91 543,216.96C543.5,217.01 544,217.06 544.5,217.11C545,217.16 545.5,217.2 546,217.25C546.5,217.3 547,217.35 547.5,217.4C548,217.45 548.5,217.5 549,217.55C549.5,217.6 550,217.65 550.5,217.7C551,217.74 551.5,217.79 552,217.84C552.5,217.9 553,217.95 553.5,218C554,218.05 554.5,218.1 555,218.15C555.5,218.2 556,218.26 556.5,218.31C557,218.36 557.5,218.41 558,218.47C558.5,218.52 559,218.57 559.5,218.62C560,218.68 560.5,218.73 561,218.78C561.5,218.83 562,218.89 562.5,218.94C563,218.99 563.5,219.04 564,219.1C564.5,219.15 565,219.2 565.5,219.26C566,219.31 566.5,219.36 567,219.42C567.5,219.47 568,219.53 568.5,219.58C569,219.64 569.5,219.69 570,219.75C570.5,219.8 571,219.86 571.5,219.91C572,219.97 572.5,220.03 573,220.08C573.5,220.14 574,220.19 574.5,220.25C575,220.31 575.5,220.36 576,220.42C576.5,220.47 577,220.53 577.5,220.59C578,220.64 578.5,220.7 579,220.76C579.5,220.82 580,220.87 580.5,220.94C581,221 581.5,221.06 582,221.12C582.5,221.19 583,221.26 583.5,221.32C584,221.39 584.5,221.46 585,221.53C585.5,221.6 586,221.67 586.5,221.74C587,221.81 587.5,221.88 588,221.94C588.5,222.01 589,222.08 589.5,222.15C590,222.22 590.5,222.29 591,222.36C591.5,222.43 592,222.5 592.5,222.57C593,222.64 593.5,222.71 594,222.78C594.5,222.86 595,222.93 595.5,223C596,223.08 596.5,223.15 597,223.23C597.5,223.31 598,223.39 598.5,223.47C599,223.55 599.5,223.63 600,223.71C600.5,223.79 601,223.87 601.5,223.95C602,224.03 602.5,224.11 603,224.2C603.5,224.28 604,224.36 604.5,224.44C605,224.52 605.5,224.6 606,224.68C606.5,224.76 607,224.84 607.5,224.92C608,225 608.5,225.08 609,225.16C609.5,225.24 610,225.31 610.5,225.39C611,225.47 611.5,225.55 612,225.62C612.5,225.7 613,225.78 613.5,225.86C614,225.93 614.5,226.01 615,226.09C615.5,226.17 616,226.24 616.5,226.32C617,226.4 617.5,226.47 618,226.55C618.5,226.63 619,226.7 619.5,226.78C620,226.85 620.55,226.92 621,226.99C621.45,227.06 622,227.17 622.2,227.2L622.2,233.6L387,233.6Z" fill="#FF0000" fill-opacity="0.5"/>
<path d="M387,225.1C387.25,225.05 388,224.89 388.5,224.78C389,224.67 389.5,224.57 390,224.46C390.5,224.35 391,224.25 391.5,224.14C392,224.03 392.5,223.93 393,223.82C393.5,223.71 394,223.61 394.5,223.5C395,223.39 395.5,223.29 396,223.18C396.5,223.08 397,222.97 397.5,222.86C398,222.76 398.5,222.66 399,222.56C399.5,222.46 400,222.36 400.5,222.27C401,222.18 401.5,222.1 402,222.01C402.5,221.93 403,221.85 403.5,221.78C404,221.7 404.5,221.63 405,221.55C405.5,221.48 406,221.41 406.5,221.33C407,221.26 407.5,221.19 408,221.11C408.5,221.04 409,220.97 409.5,220.89C410,220.82 410.5,220.75 411,220.67C411.5,220.6 412,220.53 412.5,220.46C413,220.38 413.5,220.31 414,220.24C414.5,220.18 415,220.11 415.5,220.04C416,219.98 416.5,219.92 417,219.85C417.5,219.79 418,219.73 418.5,219.67C419,219.61 419.5,219.55 420,219.49C420.5,219.43 421,219.37 421.5,219.32C422,219.26 422.5,219.2 423,219.14C423.5,219.08 424,219.02 424.5,218.96C425,218.9 425.5,218.84 426,218.78C426.5,218.72 427,218.66 427.5,218.6C428,218.54 428.5,218.48 429,218.41C429.5,218.35 430,218.29 430.5,218.22C431,218.16 431.5,218.09 432,218.03C432.5,217.96 433,217.9 433.5,217.83C434,217.77 434.5,217.7 435,217.63C435.5,217.57 436,217.5 436.5,217.44C437,217.37 437.5,217.3 438,217.24C438.5,217.17 439,217.11 439.5,217.04C440,216.98 440.5,216.91 441,216.84C441.5,216.78 442,216.71 442.5,216.65C443,216.58 443.5,216.51 444,216.45C444.5,216.38 445,216.32 445.5,216.25C446,216.19 446.5,216.12 447,216.05C447.5,215.99 448,215.92 448.5,215.86C449,215.79 449.5,215.73 450,215.67C450.5,215.6 451,215.54 451.5,215.48C452,215.42 452.5,215.36 453,215.3C453.5,215.25 454,215.19 454.5,215.14C455,215.08 455.5,215.03 456,214.97C456.5,214.92 457,214.87 457.5,214.81C458,214.76 458.5,214.71 459,214.65C459.5,214.6 460,214.54 460.5,214.48C461,214.43 461.5,214.37 462,214.31C462.5,214.24 463,214.18 463.5,214.11C464,214.04 464.5,213.97 465,213.9C465.5,213.83 466,213.76 466.5,213.68C467,213.61 467.5,213.54 468,213.46C468.5,213.39 469,213.32 469.5,213.24C470,213.17 470.5,213.1 471,213.02C471.5,212.95 472,212.88 472.5,212.8C473,212.73 473.5,212.66 474,212.59C474.5,212.52 475,212.45 475.5,212.38C476,212.32 476.5,212.26 477,212.2C477.5,212.15 478,212.09 478.5,212.05C479,212 479.5,211.95 480,211.91C480.5,211.86 481,211.82 481.5,211.77C482,211.73 482.5,211.69 483,211.64C483.5,211.6 484,211.56 484.5,211.52C485,211.48 485.5,211.43 486,211.4C486.5,211.37 487,211.33 487.5,211.31C488,211.29 488.5,211.28 489,211.28C489.5,211.27 490,211.28 490.5,211.28C491,211.29 491.5,211.31 492,211.32C492.5,211.33 493,211.35 493.5,211.36C494,211.38 494.5,211.39 495,211.41C495.5,211.43 496,211.45 496.5,211.48C497,211.5 497.5,211.53 498,211.57C498.5,211.61 499,211.66 499.5,211.72C500,211.77 500.5,211.83 501,211.89C501.5,211.95 502,212.02 502.5,212.09C503,212.15 503.5,212.22 504,212.28C504.5,212.35 505,212.42 505.5,212.48C506,212.55 506.5,212.62 507,212.68C507.5,212.75 508,212.82 508.5,212.88C509,212.95 509.5,213.02 510,213.08C510.5,213.15 511,213.22 511.5,213.29C512,213.36 512.5,213.42 513,213.5C513.5,213.57 514,213.64 514.5,213.71C515,213.78 515.5,213.86 516,213.93C516.5,214 517,214.07 517.5,214.15C518,214.22 518.5,214.29 519,214.37C519.5,214.44 520,214.51 520.5,214.59C521,214.66 521.5,214.73 522,214.8C522.5,214.87 523,214.94 523.5,215C524,215.06 524.5,215.12 525,215.18C525.5,215.24 526,215.29 526.5,215.34C527,215.39 527.5,215.44 528,215.49C528.5,215.54 529,215.59 529.5,215.64C530,215.69 530.5,215.74 531,215.79C531.5,215.83 532,215.88 532.5,215.93C533,215.98 533.5,216.03 534,216.08C534.5,216.13 535,216.18 535.5,216.23C536,216.27 536.5,216.32 537,216.37C537.5,216.42 538,216.47 538.5,216.52C539,216.57 539.5,216.62 540,216.67C540.5,216.72 541,216.76 541.5,216.81C542,216.86 542.5,216.91 543,216.96C543.5,217.01 544,217.06 544.5,217.11C545,217.16 545.5,217.2 546,217.25C546.5,217.3 547,217.35 547.5,217.4C548,217.45 548.5,217.5 549,217.55C549.5,217.6 550,217.65 550.5,217.7C551,217.74 551.5,217.79 552,217.84C552.5,217.9 553,217.95 553.5,218C554,218.05 554.5,218.1 555,218.15C555.5,218.2 556,218.26 556.5,218.31C557,218.36 557.5,218.41 558,218.47C558.5,218.52 559,218.57 559.5,218.62C560,218.68 560.5,218.73 561,218.78C561.5,218.83 562,218.89 562.5,218.94C563,218.99 563.5,219.04 564,219.1C564.5,219.15 565,219.2 565.5,219.26C566,219.31 566.5,219.36 567,219.42C567.5,219.47 568,219.53 568.5,219.58C569,219.64 569.5,219.69 570,219.75C570.5,219.8 571,219.86 571.5,219.91C572,219.97 572.5,220.03 573,220.08C573.5,220.14 574,220.19 574.5,220.25C575,220.31 575.5,220.36 576,220.42C576.5,220.47 577,220.53 577.5,220.59C578,220.64 578.5,220.7 579,220.76C579.5,220.82 580,220.87 580.5,220.94C581,221 581.5,221.06 582,221.12C582.5,221.19 583,221.26 583.5,221.32C584,221.39 584.5,221.46 585,221.53C585.5,221.6 586,221.67 586.5,221.74C587,221.81 587.5,221.88 588,221.94C588.5,222.01 589,222.08 589.5,222.15C590,222.22 590.5,222.29 591,222.36C591.5,222.43 592,222.5 592.5,222.57C593,222.64 593.5,222.71 594,222.78C594.5,222.86 595,222.93 595.5,223C596,223.08 596.5,223.15 597,223.23C597.5,223.31 598,223.39 598.5,223.47C599,223.55 599.5,223.63 600,223.71C600.5,223.79 601,223.87 601.5,223.95C602,224.03 602.5,224.11 603,224.2C603.5,224.28 604,224.36 604.5,224.44C605,224.52 605.5,224.6 606,224.68C606.5,224.76 607,224.84 607.5,224.92C608,225 608.5,225.08 609,225.16C609.5,225.24 610,225.31 610.5,225.39C611,225.47 611.5,225.55 612,225.62C612.5,225.7 613,225.78 613.5,225.86C614,225.93 614.5,226.01 615,226.09C615.5,226.17 616,226.24 616.5,226.32C617,226.4 617.5,226.47 618,226.55C618.5,226.63 619,226.7 619.5,226.78C620,226.85 620.55,226.92 621,226.99C621.45,227.06 622,227.17 622.2,227.2" fill="none" stroke="#FF0000" stroke-width="1.6" stroke-linejoin="round"/>
</g>
<line x1="372.8" x2="374.4" y1="233.6" y2="233.6" stroke="#333" stroke-width="1.1"/>
<line x1="372.8" x2="374.4" y1="209.75" y2="209.75" stroke="#333" stroke-width="1.1"/>
<line x1="372.8" x2="374.4" y1="185.9" y2="185.9" stroke="#333" stroke-width="1.1"/>
<line x1="372.8" x2="374.4" y1="162.05" y2="162.05" stroke="#333" stroke-width="1.1"/>
<line x1="372.8" x2="374.4" y1="138.2" y2="138.2" stroke="#333" stroke-width="1.1"/>
<line x1="457.1" x2="457.1" y1="238.3" y2="240.3" stroke="#333" stroke-width="1.1"/>
<line x1="540.8" x2="540.8" y1="238.3" y2="240.3" stroke="#333" stroke-width="1.1"/>
<line x1="624.5" x2="624.5" y1="238.3" y2="240.3" stroke="#333" stroke-width="1.1"/>
<rect x="652.6" y="179.2" width="7.9" height="7.65" fill="#F2F2F2"/>
<rect x="653" y="179.6" width="7.1" height="6.85" fill="#00FF00" fill-opacity="0.75" stroke="#00FF00" stroke-width="0.8"/>
<rect x="652.6" y="186.85" width="7.9" height="7.65" fill="#F2F2F2"/>
<rect x="653" y="187.25" width="7.1" height="6.85" fill="#0000FF" fill-opacity="0.75" stroke="#0000FF" stroke-width="0.8"/>
<rect x="652.6" y="194.5" width="7.9" height="7.65" fill="#F2F2F2"/>
<rect x="653" y="194.9" width="7.1" height="6.85" fill="#FF0000" fill-opacity="0.75" stroke="#FF0000" stroke-width="0.8"/>
<rect x="24.1" y="265.4" width="270.65" height="104.6" fill="#EBEBEB"/>
<line x1="24.1" x2="294.75" y1="349.39" y2="349.39" stroke="#fff" stroke-width="0.55"/>
<line x1="24.1" x2="294.75" y1="316.96" y2="316.96" stroke="#fff" stroke-width="0.55"/>
<line x1="24.1" x2="294.75" y1="284.53" y2="284.53" stroke="#fff" stroke-width="0.55"/>
<line y1="265.4" y2="370" x1="63.65" x2="63.65" stroke="#fff" stroke-width="0.55"/>
<line y1="265.4" y2="370" x1="123.55" x2="123.55" stroke="#fff" stroke-width="0.55"/>
<line y1="265.4" y2="370" x1="183.45" x2="183.45" stroke="#fff" stroke-width="0.55"/>
<line y1="265.4" y2="370" x1="243.35" x2="243.35" stroke="#fff" stroke-width="0.55"/>
<line x1="24.1" x2="294.75" y1="365.6" y2="365.6" stroke="#fff" stroke-width="1.05"/>
<line x1="24.1" x2="294.75" y1="333.17" y2="333.17" stroke="#fff" stroke-width="1.05"/>
<line x1="24.1" x2="294.75" y1="300.74" y2="300.74" stroke="#fff" stroke-width="1.05"/>
<line x1="24.1" x2="294.75" y1="268.31" y2="268.31" stroke="#fff" stroke-width="1.05"/>
<line y1="265.4" y2="370" x1="33.7" x2="33.7" stroke="#fff" stroke-width="1.05"/>
<line y1="265.4" y2="370" x1="93.6" x2="93.6" stroke="#fff" stroke-width="1.05"/>
<line y1="265.4" y2="370" x1="153.5" x2="153.5" stroke="#fff" stroke-width="1.05"/>
<line y1="265.4" y2="370" x1="213.4" x2="213.4" stroke="#fff" stroke-width="1.05"/>
<line y1="265.4" y2="370" x1="273.3" x2="273.3" stroke="#fff" stroke-width="1.05"/>
<clipPath id="c5"><rect x="24.1" y="265.4" width="270.65" height="104.6"/></clipPath>
<g clip-path="url(#c5)">
<g fill="#00FF00" fill-opacity="0.5"><rect x="48.1" y="270.2" width="1.95" height="95.4"/><rect x="78.4" y="327.4" width="1.95" height="38.2"/><rect x="108.6" y="346.7" width="1.95" height="18.9"/><rect x="276.5" y="346.6" width="1.95" height="19"/><rect x="44.2" y="333.27" width="1.95" height="32.33"/><rect x="46.1" y="328.28" width="1.95" height="37.32"/><rect x="50.1" y="320.56" width="1.95" height="45.04"/><rect x="52.1" y="328" width="1.95" height="37.6"/><rect x="56" y="346.6" width="1.95" height="19"/><rect x="60" y="346.6" width="1.95" height="19"/><rect x="64.5" y="346.6" width="1.95" height="19"/><rect x="70.5" y="346.6" width="1.95" height="19"/><rect x="74.5" y="346.6" width="1.95" height="19"/><rect x="86.4" y="354.68" width="1.95" height="10.92"/></g>
<g fill="#0000FF" fill-opacity="0.5"><rect x="44.2" y="301" width="1.95" height="64.6"/><rect x="50.1" y="278.9" width="1.95" height="86.7"/><rect x="116.5" y="344.1" width="1.95" height="21.5"/><rect x="122.2" y="344.1" width="1.95" height="21.5"/><rect x="40.2" y="346.5" width="1.95" height="19.1"/><rect x="42.2" y="339.56" width="1.95" height="26.04"/><rect x="46.1" y="328.28" width="1.95" height="37.32"/><rect x="48.1" y="323.63" width="1.95" height="41.97"/><rect x="52.1" y="318.76" width="1.95" height="46.84"/><rect x="54.2" y="323.4" width="1.95" height="42.2"/><rect x="58.2" y="344.1" width="1.95" height="21.5"/><rect x="62.2" y="344.1" width="1.95" height="21.5"/><rect x="72.5" y="344.1" width="1.95" height="21.5"/></g>
<g fill="#FF0000" fill-opacity="0.5"><rect x="52.4" y="302.9" width="1.95" height="62.7"/><rect x="64.5" y="315.8" width="1.95" height="49.8"/><rect x="76.5" y="315.8" width="1.95" height="49.8"/><rect x="82.1" y="340.5" width="1.95" height="25.1"/><rect x="94.3" y="353" width="1.95" height="12.6"/><rect x="154.3" y="352.9" width="1.95" height="12.7"/><rect x="40.2" y="346.5" width="1.95" height="19.1"/><rect x="44.2" y="333.27" width="1.95" height="32.33"/><rect x="48.1" y="323.63" width="1.95" height="41.97"/><rect x="50.1" y="329.4" width="1.95" height="36.2"/><rect x="54.2" y="317.96" width="1.95" height="47.64"/><rect x="56.2" y="317.96" width="1.95" height="47.64"/><rect x="58.2" y="318.21" width="1.95" height="47.39"/><rect x="60.2" y="329.4" width="1.95" height="36.2"/><rect x="62.2" y="341.2" width="1.95" height="24.4"/><rect x="66.4" y="341.2" width="1.95" height="24.4"/><rect x="70.5" y="333.6" width="1.95" height="32"/><rect x="72.5" y="341.2" width="1.95" height="24.4"/><rect x="80.4" y="345.95" width="1.95" height="19.65"/><rect x="86.4" y="354.68" width="1.95" height="10.92"/><rect x="90.3" y="359.88" width="1.95" height="5.72"/></g>
<path d="M37.2,354.8C37.45,354.01 38.2,351.68 38.7,350.08C39.2,348.49 39.7,346.89 40.2,345.23C40.7,343.57 41.2,341.77 41.7,340.1C42.2,338.42 42.7,336.74 43.2,335.19C43.7,333.64 44.2,332.19 44.7,330.79C45.2,329.4 45.7,328.08 46.2,326.83C46.7,325.57 47.2,324.3 47.7,323.28C48.2,322.26 48.7,321.46 49.2,320.7C49.7,319.95 50.2,319.27 50.7,318.74C51.2,318.21 51.7,317.85 52.2,317.52C52.7,317.19 53.2,316.92 53.7,316.77C54.2,316.63 54.7,316.6 55.2,316.66C55.7,316.72 56.2,316.86 56.7,317.13C57.2,317.4 57.7,317.9 58.2,318.3C58.7,318.7 59.2,319.11 59.7,319.51C60.2,319.92 60.7,320.27 61.2,320.75C61.7,321.24 62.2,321.83 62.7,322.43C63.2,323.03 63.7,323.73 64.2,324.35C64.7,324.97 65.2,325.6 65.7,326.17C66.2,326.73 66.7,327.23 67.2,327.75C67.7,328.26 68.2,328.79 68.7,329.27C69.2,329.74 69.7,330.17 70.2,330.6C70.7,331.02 71.2,331.4 71.7,331.8C72.2,332.2 72.7,332.59 73.2,333.02C73.7,333.44 74.2,333.82 74.7,334.33C75.2,334.84 75.7,335.47 76.2,336.09C76.7,336.72 77.2,337.4 77.7,338.09C78.2,338.78 78.7,339.5 79.2,340.24C79.7,340.98 80.2,341.78 80.7,342.5C81.2,343.22 81.7,343.88 82.2,344.56C82.7,345.23 83.2,345.85 83.7,346.55C84.2,347.24 84.7,347.99 85.2,348.73C85.7,349.48 86.2,350.26 86.7,351.02C87.2,351.77 87.7,352.53 88.2,353.25C88.7,353.97 89.2,354.65 89.7,355.34C90.2,356.02 90.7,356.76 91.2,357.37C91.7,357.98 92.2,358.52 92.7,358.97C93.2,359.43 93.7,359.74 94.2,360.11C94.7,360.48 95.2,360.88 95.7,361.2C96.2,361.52 96.7,361.92 97.2,362.04C97.7,362.17 98.2,362.02 98.7,361.95C99.2,361.87 99.7,361.72 100.2,361.6C100.7,361.48 101.2,361.36 101.7,361.21C102.2,361.06 102.7,360.88 103.2,360.71C103.7,360.54 104.2,360.34 104.7,360.19C105.2,360.03 105.7,359.88 106.2,359.78C106.7,359.68 107.2,359.63 107.7,359.57C108.2,359.5 108.7,359.44 109.2,359.38C109.7,359.32 110.2,359.22 110.7,359.22C111.2,359.21 111.7,359.26 112.2,359.36C112.7,359.45 113.2,359.66 113.7,359.82C114.2,359.98 114.7,360.13 115.2,360.32C115.7,360.5 116.2,360.71 116.7,360.93C117.2,361.14 117.7,361.4 118.2,361.62C118.7,361.84 119.2,362.05 119.7,362.24C120.2,362.43 120.7,362.59 121.2,362.77C121.7,362.95 122.2,363.12 122.7,363.29C123.2,363.46 123.7,363.61 124.2,363.77C124.7,363.93 125.2,364.08 125.7,364.24C126.2,364.39 126.7,364.55 127.2,364.7C127.7,364.86 128.2,365.03 128.7,365.16C129.2,365.3 129.7,365.46 130.2,365.53C130.7,365.6 131.2,365.59 131.7,365.6C132.2,365.61 132.7,365.6 133.2,365.6C133.7,365.6 134.2,365.6 134.7,365.6C135.2,365.6 135.7,365.6 136.2,365.6C136.7,365.6 137.2,365.6 137.7,365.6C138.2,365.6 138.7,365.6 139.2,365.6C139.7,365.6 140.2,365.6 140.7,365.6C141.2,365.6 141.7,365.6 142.2,365.6C142.7,365.6 143.2,365.6 143.7,365.6C144.2,365.6 144.7,365.6 145.2,365.6C145.7,365.6 146.2,365.6 146.7,365.6C147.2,365.6 147.7,365.6 148.2,365.6C148.7,365.6 149.2,365.6 149.7,365.6C150.2,365.6 150.7,365.6 151.2,365.6C151.7,365.6 152.2,365.6 152.7,365.6C153.2,365.6 153.7,365.6 154.2,365.6C154.7,365.6 155.2,365.6 155.7,365.6C156.2,365.6 156.7,365.6 157.2,365.6C157.7,365.6 158.2,365.6 158.7,365.6C159.2,365.6 159.7,365.6 160.2,365.6C160.7,365.6 161.2,365.6 161.7,365.6C162.2,365.6 162.7,365.6 163.2,365.6C163.7,365.6 164.2,365.6 164.7,365.6C165.2,365.6 165.7,365.6 166.2,365.6C166.7,365.6 167.2,365.6 167.7,365.6C168.2,365.6 168.7,365.6 169.2,365.6C169.7,365.6 170.2,365.6 170.7,365.6C171.2,365.6 171.7,365.6 172.2,365.6C172.7,365.6 173.2,365.6 173.7,365.6C174.2,365.6 174.7,365.6 175.2,365.6C175.7,365.6 176.2,365.6 176.7,365.6C177.2,365.6 177.7,365.6 178.2,365.6C178.7,365.6 179.2,365.6 179.7,365.6C180.2,365.6 180.7,365.6 181.2,365.6C181.7,365.6 182.2,365.6 182.7,365.6C183.2,365.6 183.7,365.6 184.2,365.6C184.7,365.6 185.2,365.6 185.7,365.6C186.2,365.6 186.7,365.6 187.2,365.6C187.7,365.6 188.2,365.6 188.7,365.6C189.2,365.6 189.7,365.6 190.2,365.6C190.7,365.6 191.2,365.6 191.7,365.6C192.2,365.6 192.7,365.6 193.2,365.6C193.7,365.6 194.2,365.6 194.7,365.6C195.2,365.6 195.7,365.6 196.2,365.6C196.7,365.6 197.2,365.6 197.7,365.6C198.2,365.6 198.7,365.6 199.2,365.6C199.7,365.6 200.2,365.6 200.7,365.6C201.2,365.6 201.7,365.6 202.2,365.6C202.7,365.6 203.2,365.6 203.7,365.6C204.2,365.6 204.7,365.6 205.2,365.6C205.7,365.6 206.2,365.6 206.7,365.6C207.2,365.6 207.7,365.6 208.2,365.6C208.7,365.6 209.2,365.6 209.7,365.6C210.2,365.6 210.7,365.6 211.2,365.6C211.7,365.6 212.2,365.6 212.7,365.6C213.2,365.6 213.7,365.6 214.2,365.6C214.7,365.6 215.2,365.6 215.7,365.6C216.2,365.6 216.7,365.6 217.2,365.6C217.7,365.6 218.2,365.6 218.7,365.6C219.2,365.6 219.7,365.6 220.2,365.6C220.7,365.6 221.2,365.6 221.7,365.6C222.2,365.6 222.7,365.6 223.2,365.6C223.7,365.6 224.2,365.6 224.7,365.6C225.2,365.6 225.7,365.6 226.2,365.6C226.7,365.6 227.2,365.6 227.7,365.6C228.2,365.6 228.7,365.6 229.2,365.6C229.7,365.6 230.2,365.6 230.7,365.6C231.2,365.6 231.7,365.6 232.2,365.6C232.7,365.6 233.2,365.6 233.7,365.6C234.2,365.6 234.7,365.6 235.2,365.6C235.7,365.6 236.2,365.6 236.7,365.6C237.2,365.6 237.7,365.6 238.2,365.6C238.7,365.6 239.2,365.6 239.7,365.6C240.2,365.6 240.7,365.6 241.2,365.6C241.7,365.6 242.2,365.6 242.7,365.6C243.2,365.6 243.7,365.6 244.2,365.6C244.7,365.6 245.2,365.6 245.7,365.6C246.2,365.6 246.7,365.6 247.2,365.6C247.7,365.6 248.2,365.6 248.7,365.6C249.2,365.6 249.7,365.6 250.2,365.6C250.7,365.6 251.2,365.6 251.7,365.6C252.2,365.6 252.7,365.6 253.2,365.6C253.7,365.6 254.2,365.6 254.7,365.6C255.2,365.6 255.7,365.6 256.2,365.6C256.7,365.6 257.2,365.6 257.7,365.6C258.2,365.6 258.7,365.62 259.2,365.6C259.7,365.58 260.2,365.56 260.7,365.48C261.2,365.4 261.7,365.25 262.2,365.13C262.7,365 263.2,364.86 263.7,364.73C264.2,364.6 264.7,364.47 265.2,364.33C265.7,364.2 266.2,364.05 266.7,363.89C267.2,363.74 267.7,363.57 268.2,363.4C268.7,363.23 269.2,363.07 269.7,362.87C270.2,362.67 270.7,362.43 271.2,362.2C271.7,361.96 272.2,361.68 272.7,361.47C273.2,361.25 273.7,361.07 274.2,360.9C274.7,360.73 275.2,360.59 275.7,360.44C276.2,360.3 276.7,360.14 277.2,360.01C277.7,359.88 278.2,359.78 278.7,359.67C279.2,359.57 279.7,359.48 280.2,359.39C280.7,359.29 281.45,359.15 281.7,359.1L281.7,365.6L37.2,365.6Z" fill="#00FF00" fill-opacity="0.5"/>
<path d="M37.2,354.8C37.45,354.01 38.2,351.68 38.7,350.08C39.2,348.49 39.7,346.89 40.2,345.23C40.7,343.57 41.2,341.77 41.7,340.1C42.2,338.42 42.7,336.74 43.2,335.19C43.7,333.64 44.2,332.19 44.7,330.79C45.2,329.4 45.7,328.08 46.2,326.83C46.7,325.57 47.2,324.3 47.7,323.28C48.2,322.26 48.7,321.46 49.2,320.7C49.7,319.95 50.2,319.27 50.7,318.74C51.2,318.21 51.7,317.85 52.2,317.52C52.7,317.19 53.2,316.92 53.7,316.77C54.2,316.63 54.7,316.6 55.2,316.66C55.7,316.72 56.2,316.86 56.7,317.13C57.2,317.4 57.7,317.9 58.2,318.3C58.7,318.7 59.2,319.11 59.7,319.51C60.2,319.92 60.7,320.27 61.2,320.75C61.7,321.24 62.2,321.83 62.7,322.43C63.2,323.03 63.7,323.73 64.2,324.35C64.7,324.97 65.2,325.6 65.7,326.17C66.2,326.73 66.7,327.23 67.2,327.75C67.7,328.26 68.2,328.79 68.7,329.27C69.2,329.74 69.7,330.17 70.2,330.6C70.7,331.02 71.2,331.4 71.7,331.8C72.2,332.2 72.7,332.59 73.2,333.02C73.7,333.44 74.2,333.82 74.7,334.33C75.2,334.84 75.7,335.47 76.2,336.09C76.7,336.72 77.2,337.4 77.7,338.09C78.2,338.78 78.7,339.5 79.2,340.24C79.7,340.98 80.2,341.78 80.7,342.5C81.2,343.22 81.7,343.88 82.2,344.56C82.7,345.23 83.2,345.85 83.7,346.55C84.2,347.24 84.7,347.99 85.2,348.73C85.7,349.48 86.2,350.26 86.7,351.02C87.2,351.77 87.7,352.53 88.2,353.25C88.7,353.97 89.2,354.65 89.7,355.34C90.2,356.02 90.7,356.76 91.2,357.37C91.7,357.98 92.2,358.52 92.7,358.97C93.2,359.43 93.7,359.74 94.2,360.11C94.7,360.48 95.2,360.88 95.7,361.2C96.2,361.52 96.7,361.92 97.2,362.04C97.7,362.17 98.2,362.02 98.7,361.95C99.2,361.87 99.7,361.72 100.2,361.6C100.7,361.48 101.2,361.36 101.7,361.21C102.2,361.06 102.7,360.88 103.2,360.71C103.7,360.54 104.2,360.34 104.7,360.19C105.2,360.03 105.7,359.88 106.2,359.78C106.7,359.68 107.2,359.63 107.7,359.57C108.2,359.5 108.7,359.44 109.2,359.38C109.7,359.32 110.2,359.22 110.7,359.22C111.2,359.21 111.7,359.26 112.2,359.36C112.7,359.45 113.2,359.66 113.7,359.82C114.2,359.98 114.7,360.13 115.2,360.32C115.7,360.5 116.2,360.71 116.7,360.93C117.2,361.14 117.7,361.4 118.2,361.62C118.7,361.84 119.2,362.05 119.7,362.24C120.2,362.43 120.7,362.59 121.2,362.77C121.7,362.95 122.2,363.12 122.7,363.29C123.2,363.46 123.7,363.61 124.2,363.77C124.7,363.93 125.2,364.08 125.7,364.24C126.2,364.39 126.7,364.55 127.2,364.7C127.7,364.86 128.2,365.03 128.7,365.16C129.2,365.3 129.7,365.46 130.2,365.53C130.7,365.6 131.2,365.59 131.7,365.6C132.2,365.61 132.7,365.6 133.2,365.6C133.7,365.6 134.2,365.6 134.7,365.6C135.2,365.6 135.7,365.6 136.2,365.6C136.7,365.6 137.2,365.6 137.7,365.6C138.2,365.6 138.7,365.6 139.2,365.6C139.7,365.6 140.2,365.6 140.7,365.6C141.2,365.6 141.7,365.6 142.2,365.6C142.7,365.6 143.2,365.6 143.7,365.6C144.2,365.6 144.7,365.6 145.2,365.6C145.7,365.6 146.2,365.6 146.7,365.6C147.2,365.6 147.7,365.6 148.2,365.6C148.7,365.6 149.2,365.6 149.7,365.6C150.2,365.6 150.7,365.6 151.2,365.6C151.7,365.6 152.2,365.6 152.7,365.6C153.2,365.6 153.7,365.6 154.2,365.6C154.7,365.6 155.2,365.6 155.7,365.6C156.2,365.6 156.7,365.6 157.2,365.6C157.7,365.6 158.2,365.6 158.7,365.6C159.2,365.6 159.7,365.6 160.2,365.6C160.7,365.6 161.2,365.6 161.7,365.6C162.2,365.6 162.7,365.6 163.2,365.6C163.7,365.6 164.2,365.6 164.7,365.6C165.2,365.6 165.7,365.6 166.2,365.6C166.7,365.6 167.2,365.6 167.7,365.6C168.2,365.6 168.7,365.6 169.2,365.6C169.7,365.6 170.2,365.6 170.7,365.6C171.2,365.6 171.7,365.6 172.2,365.6C172.7,365.6 173.2,365.6 173.7,365.6C174.2,365.6 174.7,365.6 175.2,365.6C175.7,365.6 176.2,365.6 176.7,365.6C177.2,365.6 177.7,365.6 178.2,365.6C178.7,365.6 179.2,365.6 179.7,365.6C180.2,365.6 180.7,365.6 181.2,365.6C181.7,365.6 182.2,365.6 182.7,365.6C183.2,365.6 183.7,365.6 184.2,365.6C184.7,365.6 185.2,365.6 185.7,365.6C186.2,365.6 186.7,365.6 187.2,365.6C187.7,365.6 188.2,365.6 188.7,365.6C189.2,365.6 189.7,365.6 190.2,365.6C190.7,365.6 191.2,365.6 191.7,365.6C192.2,365.6 192.7,365.6 193.2,365.6C193.7,365.6 194.2,365.6 194.7,365.6C195.2,365.6 195.7,365.6 196.2,365.6C196.7,365.6 197.2,365.6 197.7,365.6C198.2,365.6 198.7,365.6 199.2,365.6C199.7,365.6 200.2,365.6 200.7,365.6C201.2,365.6 201.7,365.6 202.2,365.6C202.7,365.6 203.2,365.6 203.7,365.6C204.2,365.6 204.7,365.6 205.2,365.6C205.7,365.6 206.2,365.6 206.7,365.6C207.2,365.6 207.7,365.6 208.2,365.6C208.7,365.6 209.2,365.6 209.7,365.6C210.2,365.6 210.7,365.6 211.2,365.6C211.7,365.6 212.2,365.6 212.7,365.6C213.2,365.6 213.7,365.6 214.2,365.6C214.7,365.6 215.2,365.6 215.7,365.6C216.2,365.6 216.7,365.6 217.2,365.6C217.7,365.6 218.2,365.6 218.7,365.6C219.2,365.6 219.7,365.6 220.2,365.6C220.7,365.6 221.2,365.6 221.7,365.6C222.2,365.6 222.7,365.6 223.2,365.6C223.7,365.6 224.2,365.6 224.7,365.6C225.2,365.6 225.7,365.6 226.2,365.6C226.7,365.6 227.2,365.6 227.7,365.6C228.2,365.6 228.7,365.6 229.2,365.6C229.7,365.6 230.2,365.6 230.7,365.6C231.2,365.6 231.7,365.6 232.2,365.6C232.7,365.6 233.2,365.6 233.7,365.6C234.2,365.6 234.7,365.6 235.2,365.6C235.7,365.6 236.2,365.6 236.7,365.6C237.2,365.6 237.7,365.6 238.2,365.6C238.7,365.6 239.2,365.6 239.7,365.6C240.2,365.6 240.7,365.6 241.2,365.6C241.7,365.6 242.2,365.6 242.7,365.6C243.2,365.6 243.7,365.6 244.2,365.6C244.7,365.6 245.2,365.6 245.7,365.6C246.2,365.6 246.7,365.6 247.2,365.6C247.7,365.6 248.2,365.6 248.7,365.6C249.2,365.6 249.7,365.6 250.2,365.6C250.7,365.6 251.2,365.6 251.7,365.6C252.2,365.6 252.7,365.6 253.2,365.6C253.7,365.6 254.2,365.6 254.7,365.6C255.2,365.6 255.7,365.6 256.2,365.6C256.7,365.6 257.2,365.6 257.7,365.6C258.2,365.6 258.7,365.62 259.2,365.6C259.7,365.58 260.2,365.56 260.7,365.48C261.2,365.4 261.7,365.25 262.2,365.13C262.7,365 263.2,364.86 263.7,364.73C264.2,364.6 264.7,364.47 265.2,364.33C265.7,364.2 266.2,364.05 266.7,363.89C267.2,363.74 267.7,363.57 268.2,363.4C268.7,363.23 269.2,363.07 269.7,362.87C270.2,362.67 270.7,362.43 271.2,362.2C271.7,361.96 272.2,361.68 272.7,361.47C273.2,361.25 273.7,361.07 274.2,360.9C274.7,360.73 275.2,360.59 275.7,360.44C276.2,360.3 276.7,360.14 277.2,360.01C277.7,359.88 278.2,359.78 278.7,359.67C279.2,359.57 279.7,359.48 280.2,359.39C280.7,359.29 281.45,359.15 281.7,359.1" fill="none" stroke="#00FF00" stroke-width="1.6" stroke-linejoin="round"/>
<path d="M37.2,355.5C37.45,354.57 38.2,351.86 38.7,349.92C39.2,347.99 39.7,346.03 40.2,343.87C40.7,341.72 41.2,339.6 41.7,336.98C42.2,334.37 42.7,331.27 43.2,328.16C43.7,325.06 44.2,321.54 44.7,318.37C45.2,315.2 45.7,311.99 46.2,309.13C46.7,306.26 47.2,303.42 47.7,301.17C48.2,298.91 48.7,296.95 49.2,295.6C49.7,294.25 50.2,293.54 50.7,293.09C51.2,292.64 51.7,292.65 52.2,292.9C52.7,293.15 53.2,293.82 53.7,294.61C54.2,295.4 54.7,296.5 55.2,297.64C55.7,298.78 56.2,300.09 56.7,301.47C57.2,302.85 57.7,304.3 58.2,305.91C58.7,307.52 59.2,309.26 59.7,311.13C60.2,313 60.7,315.03 61.2,317.13C61.7,319.24 62.2,321.58 62.7,323.78C63.2,325.99 63.7,328.28 64.2,330.38C64.7,332.48 65.2,334.45 65.7,336.38C66.2,338.32 66.7,340.18 67.2,342.01C67.7,343.84 68.2,345.75 68.7,347.37C69.2,348.99 69.7,350.56 70.2,351.73C70.7,352.9 71.2,353.7 71.7,354.39C72.2,355.07 72.7,355.53 73.2,355.84C73.7,356.14 74.2,356.2 74.7,356.23C75.2,356.27 75.7,356.08 76.2,356.04C76.7,356 77.2,355.92 77.7,355.99C78.2,356.07 78.7,356.26 79.2,356.49C79.7,356.72 80.2,357.07 80.7,357.38C81.2,357.7 81.7,358.04 82.2,358.38C82.7,358.72 83.2,359.04 83.7,359.41C84.2,359.77 84.7,360.16 85.2,360.56C85.7,360.96 86.2,361.4 86.7,361.81C87.2,362.22 87.7,362.67 88.2,363.01C88.7,363.34 89.2,363.58 89.7,363.82C90.2,364.05 90.7,364.21 91.2,364.4C91.7,364.6 92.2,364.8 92.7,364.98C93.2,365.16 93.7,365.37 94.2,365.47C94.7,365.57 95.2,365.58 95.7,365.6C96.2,365.62 96.7,365.6 97.2,365.6C97.7,365.6 98.2,365.6 98.7,365.6C99.2,365.6 99.7,365.6 100.2,365.6C100.7,365.6 101.2,365.6 101.7,365.6C102.2,365.6 102.7,365.6 103.2,365.6C103.7,365.6 104.2,365.67 104.7,365.58C105.2,365.49 105.7,365.38 106.2,365.06C106.7,364.73 107.2,364.16 107.7,363.62C108.2,363.07 108.7,362.47 109.2,361.79C109.7,361.12 110.2,360.37 110.7,359.54C111.2,358.71 111.7,357.78 112.2,356.82C112.7,355.86 113.2,354.78 113.7,353.78C114.2,352.78 114.7,351.7 115.2,350.83C115.7,349.95 116.2,349.14 116.7,348.52C117.2,347.91 117.7,347.37 118.2,347.13C118.7,346.89 119.2,346.88 119.7,347.06C120.2,347.24 120.7,347.69 121.2,348.22C121.7,348.74 122.2,349.46 122.7,350.19C123.2,350.92 123.7,351.76 124.2,352.62C124.7,353.47 125.2,354.42 125.7,355.32C126.2,356.22 126.7,357.16 127.2,358.03C127.7,358.9 128.2,359.79 128.7,360.54C129.2,361.3 129.7,362.03 130.2,362.57C130.7,363.11 131.2,363.41 131.7,363.78C132.2,364.15 132.7,364.5 133.2,364.78C133.7,365.07 134.2,365.36 134.7,365.49C135.2,365.63 135.7,365.58 136.2,365.6C136.7,365.62 137.2,365.6 137.7,365.6C138.2,365.6 138.7,365.6 139.2,365.6C139.7,365.6 140.2,365.6 140.7,365.6C141.2,365.6 141.7,365.6 142.2,365.6C142.7,365.6 143.2,365.6 143.7,365.6C144.2,365.6 144.7,365.6 145.2,365.6C145.7,365.6 146.2,365.6 146.7,365.6C147.2,365.6 147.7,365.6 148.2,365.6C148.7,365.6 149.2,365.6 149.7,365.6C150.2,365.6 150.7,365.6 151.2,365.6C151.7,365.6 152.2,365.6 152.7,365.6C153.2,365.6 153.7,365.6 154.2,365.6C154.7,365.6 155.2,365.6 155.7,365.6C156.2,365.6 156.7,365.6 157.2,365.6C157.7,365.6 158.2,365.6 158.7,365.6C159.2,365.6 159.7,365.6 160.2,365.6C160.7,365.6 161.2,365.6 161.7,365.6C162.2,365.6 162.7,365.6 163.2,365.6C163.7,365.6 164.2,365.6 164.7,365.6C165.2,365.6 165.7,365.6 166.2,365.6C166.7,365.6 167.2,365.6 167.7,365.6C168.2,365.6 168.7,365.6 169.2,365.6C169.7,365.6 170.2,365.6 170.7,365.6C171.2,365.6 171.7,365.6 172.2,365.6C172.7,365.6 173.2,365.6 173.7,365.6C174.2,365.6 174.7,365.6 175.2,365.6C175.7,365.6 176.2,365.6 176.7,365.6C177.2,365.6 177.7,365.6 178.2,365.6C178.7,365.6 179.2,365.6 179.7,365.6C180.2,365.6 180.7,365.6 181.2,365.6C181.7,365.6 182.2,365.6 182.7,365.6C183.2,365.6 183.7,365.6 184.2,365.6C184.7,365.6 185.2,365.6 185.7,365.6C186.2,365.6 186.7,365.6 187.2,365.6C187.7,365.6 188.2,365.6 188.7,365.6C189.2,365.6 189.7,365.6 190.2,365.6C190.7,365.6 191.2,365.6 191.7,365.6C192.2,365.6 192.7,365.6 193.2,365.6C193.7,365.6 194.2,365.6 194.7,365.6C195.2,365.6 195.7,365.6 196.2,365.6C196.7,365.6 197.2,365.6 197.7,365.6C198.2,365.6 198.7,365.6 199.2,365.6C199.7,365.6 200.2,365.6 200.7,365.6C201.2,365.6 201.7,365.6 202.2,365.6C202.7,365.6 203.2,365.6 203.7,365.6C204.2,365.6 204.7,365.6 205.2,365.6C205.7,365.6 206.2,365.6 206.7,365.6C207.2,365.6 207.7,365.6 208.2,365.6C208.7,365.6 209.2,365.6 209.7,365.6C210.2,365.6 210.7,365.6 211.2,365.6C211.7,365.6 212.2,365.6 212.7,365.6C213.2,365.6 213.7,365.6 214.2,365.6C214.7,365.6 215.2,365.6 215.7,365.6C216.2,365.6 216.7,365.6 217.2,365.6C217.7,365.6 218.2,365.6 218.7,365.6C219.2,365.6 219.7,365.6 220.2,365.6C220.7,365.6 221.2,365.6 221.7,365.6C222.2,365.6 222.7,365.6 223.2,365.6C223.7,365.6 224.2,365.6 224.7,365.6C225.2,365.6 225.7,365.6 226.2,365.6C226.7,365.6 227.2,365.6 227.7,365.6C228.2,365.6 228.7,365.6 229.2,365.6C229.7,365.6 230.2,365.6 230.7,365.6C231.2,365.6 231.7,365.6 232.2,365.6C232.7,365.6 233.2,365.6 233.7,365.6C234.2,365.6 234.7,365.6 235.2,365.6C235.7,365.6 236.2,365.6 236.7,365.6C237.2,365.6 237.7,365.6 238.2,365.6C238.7,365.6 239.2,365.6 239.7,365.6C240.2,365.6 240.7,365.6 241.2,365.6C241.7,365.6 242.2,365.6 242.7,365.6C243.2,365.6 243.7,365.6 244.2,365.6C244.7,365.6 245.2,365.6 245.7,365.6C246.2,365.6 246.7,365.6 247.2,365.6C247.7,365.6 248.2,365.6 248.7,365.6C249.2,365.6 249.7,365.6 250.2,365.6C250.7,365.6 251.2,365.6 251.7,365.6C252.2,365.6 252.7,365.6 253.2,365.6C253.7,365.6 254.2,365.6 254.7,365.6C255.2,365.6 255.7,365.6 256.2,365.6C256.7,365.6 257.2,365.6 257.7,365.6C258.2,365.6 258.7,365.6 259.2,365.6C259.7,365.6 260.2,365.6 260.7,365.6C261.2,365.6 261.7,365.6 262.2,365.6C262.7,365.6 263.2,365.6 263.7,365.6C264.2,365.6 264.7,365.6 265.2,365.6C265.7,365.6 266.2,365.6 266.7,365.6C267.2,365.6 267.7,365.6 268.2,365.6C268.7,365.6 269.2,365.6 269.7,365.6C270.2,365.6 270.7,365.6 271.2,365.6C271.7,365.6 272.2,365.6 272.7,365.6C273.2,365.6 273.7,365.6 274.2,365.6C274.7,365.6 275.2,365.6 275.7,365.6C276.2,365.6 276.7,365.6 277.2,365.6C277.7,365.6 278.2,365.6 278.7,365.6C279.2,365.6 279.7,365.6 280.2,365.6C280.7,365.6 281.45,365.6 281.7,365.6L281.7,365.6L37.2,365.6Z" fill="#0000FF" fill-opacity="0.5"/>
<path d="M37.2,355.5C37.45,354.57 38.2,351.86 38.7,349.92C39.2,347.99 39.7,346.03 40.2,343.87C40.7,341.72 41.2,339.6 41.7,336.98C42.2,334.37 42.7,331.27 43.2,328.16C43.7,325.06 44.2,321.54 44.7,318.37C45.2,315.2 45.7,311.99 46.2,309.13C46.7,306.26 47.2,303.42 47.7,301.17C48.2,298.91 48.7,296.95 49.2,295.6C49.7,294.25 50.2,293.54 50.7,293.09C51.2,292.64 51.7,292.65 52.2,292.9C52.7,293.15 53.2,293.82 53.7,294.61C54.2,295.4 54.7,296.5 55.2,297.64C55.7,298.78 56.2,300.09 56.7,301.47C57.2,302.85 57.7,304.3 58.2,305.91C58.7,307.52 59.2,309.26 59.7,311.13C60.2,313 60.7,315.03 61.2,317.13C61.7,319.24 62.2,321.58 62.7,323.78C63.2,325.99 63.7,328.28 64.2,330.38C64.7,332.48 65.2,334.45 65.7,336.38C66.2,338.32 66.7,340.18 67.2,342.01C67.7,343.84 68.2,345.75 68.7,347.37C69.2,348.99 69.7,350.56 70.2,351.73C70.7,352.9 71.2,353.7 71.7,354.39C72.2,355.07 72.7,355.53 73.2,355.84C73.7,356.14 74.2,356.2 74.7,356.23C75.2,356.27 75.7,356.08 76.2,356.04C76.7,356 77.2,355.92 77.7,355.99C78.2,356.07 78.7,356.26 79.2,356.49C79.7,356.72 80.2,357.07 80.7,357.38C81.2,357.7 81.7,358.04 82.2,358.38C82.7,358.72 83.2,359.04 83.7,359.41C84.2,359.77 84.7,360.16 85.2,360.56C85.7,360.96 86.2,361.4 86.7,361.81C87.2,362.22 87.7,362.67 88.2,363.01C88.7,363.34 89.2,363.58 89.7,363.82C90.2,364.05 90.7,364.21 91.2,364.4C91.7,364.6 92.2,364.8 92.7,364.98C93.2,365.16 93.7,365.37 94.2,365.47C94.7,365.57 95.2,365.58 95.7,365.6C96.2,365.62 96.7,365.6 97.2,365.6C97.7,365.6 98.2,365.6 98.7,365.6C99.2,365.6 99.7,365.6 100.2,365.6C100.7,365.6 101.2,365.6 101.7,365.6C102.2,365.6 102.7,365.6 103.2,365.6C103.7,365.6 104.2,365.67 104.7,365.58C105.2,365.49 105.7,365.38 106.2,365.06C106.7,364.73 107.2,364.16 107.7,363.62C108.2,363.07 108.7,362.47 109.2,361.79C109.7,361.12 110.2,360.37 110.7,359.54C111.2,358.71 111.7,357.78 112.2,356.82C112.7,355.86 113.2,354.78 113.7,353.78C114.2,352.78 114.7,351.7 115.2,350.83C115.7,349.95 116.2,349.14 116.7,348.52C117.2,347.91 117.7,347.37 118.2,347.13C118.7,346.89 119.2,346.88 119.7,347.06C120.2,347.24 120.7,347.69 121.2,348.22C121.7,348.74 122.2,349.46 122.7,350.19C123.2,350.92 123.7,351.76 124.2,352.62C124.7,353.47 125.2,354.42 125.7,355.32C126.2,356.22 126.7,357.16 127.2,358.03C127.7,358.9 128.2,359.79 128.7,360.54C129.2,361.3 129.7,362.03 130.2,362.57C130.7,363.11 131.2,363.41 131.7,363.78C132.2,364.15 132.7,364.5 133.2,364.78C133.7,365.07 134.2,365.36 134.7,365.49C135.2,365.63 135.7,365.58 136.2,365.6C136.7,365.62 137.2,365.6 137.7,365.6C138.2,365.6 138.7,365.6 139.2,365.6C139.7,365.6 140.2,365.6 140.7,365.6C141.2,365.6 141.7,365.6 142.2,365.6C142.7,365.6 143.2,365.6 143.7,365.6C144.2,365.6 144.7,365.6 145.2,365.6C145.7,365.6 146.2,365.6 146.7,365.6C147.2,365.6 147.7,365.6 148.2,365.6C148.7,365.6 149.2,365.6 149.7,365.6C150.2,365.6 150.7,365.6 151.2,365.6C151.7,365.6 152.2,365.6 152.7,365.6C153.2,365.6 153.7,365.6 154.2,365.6C154.7,365.6 155.2,365.6 155.7,365.6C156.2,365.6 156.7,365.6 157.2,365.6C157.7,365.6 158.2,365.6 158.7,365.6C159.2,365.6 159.7,365.6 160.2,365.6C160.7,365.6 161.2,365.6 161.7,365.6C162.2,365.6 162.7,365.6 163.2,365.6C163.7,365.6 164.2,365.6 164.7,365.6C165.2,365.6 165.7,365.6 166.2,365.6C166.7,365.6 167.2,365.6 167.7,365.6C168.2,365.6 168.7,365.6 169.2,365.6C169.7,365.6 170.2,365.6 170.7,365.6C171.2,365.6 171.7,365.6 172.2,365.6C172.7,365.6 173.2,365.6 173.7,365.6C174.2,365.6 174.7,365.6 175.2,365.6C175.7,365.6 176.2,365.6 176.7,365.6C177.2,365.6 177.7,365.6 178.2,365.6C178.7,365.6 179.2,365.6 179.7,365.6C180.2,365.6 180.7,365.6 181.2,365.6C181.7,365.6 182.2,365.6 182.7,365.6C183.2,365.6 183.7,365.6 184.2,365.6C184.7,365.6 185.2,365.6 185.7,365.6C186.2,365.6 186.7,365.6 187.2,365.6C187.7,365.6 188.2,365.6 188.7,365.6C189.2,365.6 189.7,365.6 190.2,365.6C190.7,365.6 191.2,365.6 191.7,365.6C192.2,365.6 192.7,365.6 193.2,365.6C193.7,365.6 194.2,365.6 194.7,365.6C195.2,365.6 195.7,365.6 196.2,365.6C196.7,365.6 197.2,365.6 197.7,365.6C198.2,365.6 198.7,365.6 199.2,365.6C199.7,365.6 200.2,365.6 200.7,365.6C201.2,365.6 201.7,365.6 202.2,365.6C202.7,365.6 203.2,365.6 203.7,365.6C204.2,365.6 204.7,365.6 205.2,365.6C205.7,365.6 206.2,365.6 206.7,365.6C207.2,365.6 207.7,365.6 208.2,365.6C208.7,365.6 209.2,365.6 209.7,365.6C210.2,365.6 210.7,365.6 211.2,365.6C211.7,365.6 212.2,365.6 212.7,365.6C213.2,365.6 213.7,365.6 214.2,365.6C214.7,365.6 215.2,365.6 215.7,365.6C216.2,365.6 216.7,365.6 217.2,365.6C217.7,365.6 218.2,365.6 218.7,365.6C219.2,365.6 219.7,365.6 220.2,365.6C220.7,365.6 221.2,365.6 221.7,365.6C222.2,365.6 222.7,365.6 223.2,365.6C223.7,365.6 224.2,365.6 224.7,365.6C225.2,365.6 225.7,365.6 226.2,365.6C226.7,365.6 227.2,365.6 227.7,365.6C228.2,365.6 228.7,365.6 229.2,365.6C229.7,365.6 230.2,365.6 230.7,365.6C231.2,365.6 231.7,365.6 232.2,365.6C232.7,365.6 233.2,365.6 233.7,365.6C234.2,365.6 234.7,365.6 235.2,365.6C235.7,365.6 236.2,365.6 236.7,365.6C237.2,365.6 237.7,365.6 238.2,365.6C238.7,365.6 239.2,365.6 239.7,365.6C240.2,365.6 240.7,365.6 241.2,365.6C241.7,365.6 242.2,365.6 242.7,365.6C243.2,365.6 243.7,365.6 244.2,365.6C244.7,365.6 245.2,365.6 245.7,365.6C246.2,365.6 246.7,365.6 247.2,365.6C247.7,365.6 248.2,365.6 248.7,365.6C249.2,365.6 249.7,365.6 250.2,365.6C250.7,365.6 251.2,365.6 251.7,365.6C252.2,365.6 252.7,365.6 253.2,365.6C253.7,365.6 254.2,365.6 254.7,365.6C255.2,365.6 255.7,365.6 256.2,365.6C256.7,365.6 257.2,365.6 257.7,365.6C258.2,365.6 258.7,365.6 259.2,365.6C259.7,365.6 260.2,365.6 260.7,365.6C261.2,365.6 261.7,365.6 262.2,365.6C262.7,365.6 263.2,365.6 263.7,365.6C264.2,365.6 264.7,365.6 265.2,365.6C265.7,365.6 266.2,365.6 266.7,365.6C267.2,365.6 267.7,365.6 268.2,365.6C268.7,365.6 269.2,365.6 269.7,365.6C270.2,365.6 270.7,365.6 271.2,365.6C271.7,365.6 272.2,365.6 272.7,365.6C273.2,365.6 273.7,365.6 274.2,365.6C274.7,365.6 275.2,365.6 275.7,365.6C276.2,365.6 276.7,365.6 277.2,365.6C277.7,365.6 278.2,365.6 278.7,365.6C279.2,365.6 279.7,365.6 280.2,365.6C280.7,365.6 281.45,365.6 281.7,365.6" fill="none" stroke="#0000FF" stroke-width="1.6" stroke-linejoin="round"/>
<path d="M37.2,352.7C37.45,352.23 38.2,350.87 38.7,349.91C39.2,348.95 39.7,348.01 40.2,346.95C40.7,345.89 41.2,344.72 41.7,343.57C42.2,342.43 42.7,341.25 43.2,340.08C43.7,338.91 44.2,337.72 44.7,336.54C45.2,335.36 45.7,334.18 46.2,332.99C46.7,331.81 47.2,330.6 47.7,329.44C48.2,328.28 48.7,327.1 49.2,326.02C49.7,324.94 50.2,323.9 50.7,322.95C51.2,322 51.7,321.07 52.2,320.31C52.7,319.55 53.2,318.9 53.7,318.38C54.2,317.87 54.7,317.54 55.2,317.25C55.7,316.96 56.2,316.78 56.7,316.65C57.2,316.53 57.7,316.45 58.2,316.49C58.7,316.53 59.2,316.66 59.7,316.88C60.2,317.09 60.7,317.41 61.2,317.79C61.7,318.17 62.2,318.63 62.7,319.15C63.2,319.67 63.7,320.35 64.2,320.92C64.7,321.49 65.2,322.09 65.7,322.58C66.2,323.07 66.7,323.46 67.2,323.85C67.7,324.24 68.2,324.59 68.7,324.93C69.2,325.26 69.7,325.56 70.2,325.88C70.7,326.2 71.2,326.51 71.7,326.85C72.2,327.19 72.7,327.51 73.2,327.89C73.7,328.28 74.2,328.66 74.7,329.16C75.2,329.67 75.7,330.24 76.2,330.92C76.7,331.6 77.2,332.39 77.7,333.22C78.2,334.05 78.7,334.99 79.2,335.91C79.7,336.82 80.2,337.82 80.7,338.71C81.2,339.6 81.7,340.44 82.2,341.26C82.7,342.08 83.2,342.79 83.7,343.61C84.2,344.42 84.7,345.27 85.2,346.15C85.7,347.03 86.2,347.98 86.7,348.9C87.2,349.82 87.7,350.83 88.2,351.66C88.7,352.48 89.2,353.2 89.7,353.86C90.2,354.52 90.7,355.08 91.2,355.6C91.7,356.13 92.2,356.55 92.7,356.99C93.2,357.43 93.7,357.87 94.2,358.24C94.7,358.61 95.2,358.89 95.7,359.19C96.2,359.49 96.7,359.77 97.2,360.04C97.7,360.31 98.2,360.56 98.7,360.79C99.2,361.03 99.7,361.23 100.2,361.44C100.7,361.65 101.2,361.86 101.7,362.06C102.2,362.26 102.7,362.45 103.2,362.63C103.7,362.81 104.2,363.01 104.7,363.16C105.2,363.32 105.7,363.44 106.2,363.56C106.7,363.69 107.2,363.79 107.7,363.9C108.2,364.01 108.7,364.12 109.2,364.22C109.7,364.33 110.2,364.43 110.7,364.54C111.2,364.64 111.7,364.75 112.2,364.85C112.7,364.95 113.2,365.06 113.7,365.16C114.2,365.26 114.7,365.39 115.2,365.46C115.7,365.53 116.2,365.57 116.7,365.59C117.2,365.62 117.7,365.6 118.2,365.6C118.7,365.6 119.2,365.6 119.7,365.6C120.2,365.6 120.7,365.6 121.2,365.6C121.7,365.6 122.2,365.6 122.7,365.6C123.2,365.6 123.7,365.6 124.2,365.6C124.7,365.6 125.2,365.6 125.7,365.6C126.2,365.6 126.7,365.6 127.2,365.6C127.7,365.6 128.2,365.6 128.7,365.6C129.2,365.6 129.7,365.6 130.2,365.6C130.7,365.6 131.2,365.6 131.7,365.6C132.2,365.6 132.7,365.6 133.2,365.6C133.7,365.6 134.2,365.62 134.7,365.6C135.2,365.57 135.7,365.55 136.2,365.44C136.7,365.33 137.2,365.11 137.7,364.92C138.2,364.73 138.7,364.51 139.2,364.33C139.7,364.14 140.2,363.97 140.7,363.81C141.2,363.65 141.7,363.52 142.2,363.38C142.7,363.24 143.2,363.09 143.7,362.96C144.2,362.82 144.7,362.68 145.2,362.55C145.7,362.41 146.2,362.29 146.7,362.16C147.2,362.03 147.7,361.89 148.2,361.77C148.7,361.64 149.2,361.5 149.7,361.4C150.2,361.29 150.7,361.2 151.2,361.12C151.7,361.04 152.2,360.97 152.7,360.89C153.2,360.82 153.7,360.71 154.2,360.67C154.7,360.63 155.2,360.6 155.7,360.65C156.2,360.7 156.7,360.87 157.2,360.99C157.7,361.1 158.2,361.23 158.7,361.37C159.2,361.5 159.7,361.64 160.2,361.8C160.7,361.96 161.2,362.15 161.7,362.33C162.2,362.51 162.7,362.7 163.2,362.88C163.7,363.06 164.2,363.25 164.7,363.4C165.2,363.56 165.7,363.68 166.2,363.82C166.7,363.96 167.2,364.08 167.7,364.23C168.2,364.38 168.7,364.55 169.2,364.71C169.7,364.88 170.2,365.08 170.7,365.22C171.2,365.36 171.7,365.49 172.2,365.56C172.7,365.62 173.2,365.59 173.7,365.6C174.2,365.61 174.7,365.6 175.2,365.6C175.7,365.6 176.2,365.6 176.7,365.6C177.2,365.6 177.7,365.6 178.2,365.6C178.7,365.6 179.2,365.6 179.7,365.6C180.2,365.6 180.7,365.6 181.2,365.6C181.7,365.6 182.2,365.6 182.7,365.6C183.2,365.6 183.7,365.6 184.2,365.6C184.7,365.6 185.2,365.6 185.7,365.6C186.2,365.6 186.7,365.6 187.2,365.6C187.7,365.6 188.2,365.6 188.7,365.6C189.2,365.6 189.7,365.6 190.2,365.6C190.7,365.6 191.2,365.6 191.7,365.6C192.2,365.6 192.7,365.6 193.2,365.6C193.7,365.6 194.2,365.6 194.7,365.6C195.2,365.6 195.7,365.6 196.2,365.6C196.7,365.6 197.2,365.6 197.7,365.6C198.2,365.6 198.7,365.6 199.2,365.6C199.7,365.6 200.2,365.6 200.7,365.6C201.2,365.6 201.7,365.6 202.2,365.6C202.7,365.6 203.2,365.6 203.7,365.6C204.2,365.6 204.7,365.6 205.2,365.6C205.7,365.6 206.2,365.6 206.7,365.6C207.2,365.6 207.7,365.6 208.2,365.6C208.7,365.6 209.2,365.6 209.7,365.6C210.2,365.6 210.7,365.6 211.2,365.6C211.7,365.6 212.2,365.6 212.7,365.6C213.2,365.6 213.7,365.6 214.2,365.6C214.7,365.6 215.2,365.6 215.7,365.6C216.2,365.6 216.7,365.6 217.2,365.6C217.7,365.6 218.2,365.6 218.7,365.6C219.2,365.6 219.7,365.6 220.2,365.6C220.7,365.6 221.2,365.6 221.7,365.6C222.2,365.6 222.7,365.6 223.2,365.6C223.7,365.6 224.2,365.6 224.7,365.6C225.2,365.6 225.7,365.6 226.2,365.6C226.7,365.6 227.2,365.6 227.7,365.6C228.2,365.6 228.7,365.6 229.2,365.6C229.7,365.6 230.2,365.6 230.7,365.6C231.2,365.6 231.7,365.6 232.2,365.6C232.7,365.6 233.2,365.6 233.7,365.6C234.2,365.6 234.7,365.6 235.2,365.6C235.7,365.6 236.2,365.6 236.7,365.6C237.2,365.6 237.7,365.6 238.2,365.6C238.7,365.6 239.2,365.6 239.7,365.6C240.2,365.6 240.7,365.6 241.2,365.6C241.7,365.6 242.2,365.6 242.7,365.6C243.2,365.6 243.7,365.6 244.2,365.6C244.7,365.6 245.2,365.6 245.7,365.6C246.2,365.6 246.7,365.6 247.2,365.6C247.7,365.6 248.2,365.6 248.7,365.6C249.2,365.6 249.7,365.6 250.2,365.6C250.7,365.6 251.2,365.6 251.7,365.6C252.2,365.6 252.7,365.6 253.2,365.6C253.7,365.6 254.2,365.6 254.7,365.6C255.2,365.6 255.7,365.6 256.2,365.6C256.7,365.6 257.2,365.6 257.7,365.6C258.2,365.6 258.7,365.6 259.2,365.6C259.7,365.6 260.2,365.6 260.7,365.6C261.2,365.6 261.7,365.6 262.2,365.6C262.7,365.6 263.2,365.6 263.7,365.6C264.2,365.6 264.7,365.6 265.2,365.6C265.7,365.6 266.2,365.6 266.7,365.6C267.2,365.6 267.7,365.6 268.2,365.6C268.7,365.6 269.2,365.6 269.7,365.6C270.2,365.6 270.7,365.6 271.2,365.6C271.7,365.6 272.2,365.6 272.7,365.6C273.2,365.6 273.7,365.6 274.2,365.6C274.7,365.6 275.2,365.6 275.7,365.6C276.2,365.6 276.7,365.6 277.2,365.6C277.7,365.6 278.2,365.6 278.7,365.6C279.2,365.6 279.7,365.6 280.2,365.6C280.7,365.6 281.45,365.6 281.7,365.6L281.7,365.6L37.2,365.6Z" fill="#FF0000" fill-opacity="0.5"/>
<path d="M37.2,352.7C37.45,352.23 38.2,350.87 38.7,349.91C39.2,348.95 39.7,348.01 40.2,346.95C40.7,345.89 41.2,344.72 41.7,343.57C42.2,342.43 42.7,341.25 43.2,340.08C43.7,338.91 44.2,337.72 44.7,336.54C45.2,335.36 45.7,334.18 46.2,332.99C46.7,331.81 47.2,330.6 47.7,329.44C48.2,328.28 48.7,327.1 49.2,326.02C49.7,324.94 50.2,323.9 50.7,322.95C51.2,322 51.7,321.07 52.2,320.31C52.7,319.55 53.2,318.9 53.7,318.38C54.2,317.87 54.7,317.54 55.2,317.25C55.7,316.96 56.2,316.78 56.7,316.65C57.2,316.53 57.7,316.45 58.2,316.49C58.7,316.53 59.2,316.66 59.7,316.88C60.2,317.09 60.7,317.41 61.2,317.79C61.7,318.17 62.2,318.63 62.7,319.15C63.2,319.67 63.7,320.35 64.2,320.92C64.7,321.49 65.2,322.09 65.7,322.58C66.2,323.07 66.7,323.46 67.2,323.85C67.7,324.24 68.2,324.59 68.7,324.93C69.2,325.26 69.7,325.56 70.2,325.88C70.7,326.2 71.2,326.51 71.7,326.85C72.2,327.19 72.7,327.51 73.2,327.89C73.7,328.28 74.2,328.66 74.7,329.16C75.2,329.67 75.7,330.24 76.2,330.92C76.7,331.6 77.2,332.39 77.7,333.22C78.2,334.05 78.7,334.99 79.2,335.91C79.7,336.82 80.2,337.82 80.7,338.71C81.2,339.6 81.7,340.44 82.2,341.26C82.7,342.08 83.2,342.79 83.7,343.61C84.2,344.42 84.7,345.27 85.2,346.15C85.7,347.03 86.2,347.98 86.7,348.9C87.2,349.82 87.7,350.83 88.2,351.66C88.7,352.48 89.2,353.2 89.7,353.86C90.2,354.52 90.7,355.08 91.2,355.6C91.7,356.13 92.2,356.55 92.7,356.99C93.2,357.43 93.7,357.87 94.2,358.24C94.7,358.61 95.2,358.89 95.7,359.19C96.2,359.49 96.7,359.77 97.2,360.04C97.7,360.31 98.2,360.56 98.7,360.79C99.2,361.03 99.7,361.23 100.2,361.44C100.7,361.65 101.2,361.86 101.7,362.06C102.2,362.26 102.7,362.45 103.2,362.63C103.7,362.81 104.2,363.01 104.7,363.16C105.2,363.32 105.7,363.44 106.2,363.56C106.7,363.69 107.2,363.79 107.7,363.9C108.2,364.01 108.7,364.12 109.2,364.22C109.7,364.33 110.2,364.43 110.7,364.54C111.2,364.64 111.7,364.75 112.2,364.85C112.7,364.95 113.2,365.06 113.7,365.16C114.2,365.26 114.7,365.39 115.2,365.46C115.7,365.53 116.2,365.57 116.7,365.59C117.2,365.62 117.7,365.6 118.2,365.6C118.7,365.6 119.2,365.6 119.7,365.6C120.2,365.6 120.7,365.6 121.2,365.6C121.7,365.6 122.2,365.6 122.7,365.6C123.2,365.6 123.7,365.6 124.2,365.6C124.7,365.6 125.2,365.6 125.7,365.6C126.2,365.6 126.7,365.6 127.2,365.6C127.7,365.6 128.2,365.6 128.7,365.6C129.2,365.6 129.7,365.6 130.2,365.6C130.7,365.6 131.2,365.6 131.7,365.6C132.2,365.6 132.7,365.6 133.2,365.6C133.7,365.6 134.2,365.62 134.7,365.6C135.2,365.57 135.7,365.55 136.2,365.44C136.7,365.33 137.2,365.11 137.7,364.92C138.2,364.73 138.7,364.51 139.2,364.33C139.7,364.14 140.2,363.97 140.7,363.81C141.2,363.65 141.7,363.52 142.2,363.38C142.7,363.24 143.2,363.09 143.7,362.96C144.2,362.82 144.7,362.68 145.2,362.55C145.7,362.41 146.2,362.29 146.7,362.16C147.2,362.03 147.7,361.89 148.2,361.77C148.7,361.64 149.2,361.5 149.7,361.4C150.2,361.29 150.7,361.2 151.2,361.12C151.7,361.04 152.2,360.97 152.7,360.89C153.2,360.82 153.7,360.71 154.2,360.67C154.7,360.63 155.2,360.6 155.7,360.65C156.2,360.7 156.7,360.87 157.2,360.99C157.7,361.1 158.2,361.23 158.7,361.37C159.2,361.5 159.7,361.64 160.2,361.8C160.7,361.96 161.2,362.15 161.7,362.33C162.2,362.51 162.7,362.7 163.2,362.88C163.7,363.06 164.2,363.25 164.7,363.4C165.2,363.56 165.7,363.68 166.2,363.82C166.7,363.96 167.2,364.08 167.7,364.23C168.2,364.38 168.7,364.55 169.2,364.71C169.7,364.88 170.2,365.08 170.7,365.22C171.2,365.36 171.7,365.49 172.2,365.56C172.7,365.62 173.2,365.59 173.7,365.6C174.2,365.61 174.7,365.6 175.2,365.6C175.7,365.6 176.2,365.6 176.7,365.6C177.2,365.6 177.7,365.6 178.2,365.6C178.7,365.6 179.2,365.6 179.7,365.6C180.2,365.6 180.7,365.6 181.2,365.6C181.7,365.6 182.2,365.6 182.7,365.6C183.2,365.6 183.7,365.6 184.2,365.6C184.7,365.6 185.2,365.6 185.7,365.6C186.2,365.6 186.7,365.6 187.2,365.6C187.7,365.6 188.2,365.6 188.7,365.6C189.2,365.6 189.7,365.6 190.2,365.6C190.7,365.6 191.2,365.6 191.7,365.6C192.2,365.6 192.7,365.6 193.2,365.6C193.7,365.6 194.2,365.6 194.7,365.6C195.2,365.6 195.7,365.6 196.2,365.6C196.7,365.6 197.2,365.6 197.7,365.6C198.2,365.6 198.7,365.6 199.2,365.6C199.7,365.6 200.2,365.6 200.7,365.6C201.2,365.6 201.7,365.6 202.2,365.6C202.7,365.6 203.2,365.6 203.7,365.6C204.2,365.6 204.7,365.6 205.2,365.6C205.7,365.6 206.2,365.6 206.7,365.6C207.2,365.6 207.7,365.6 208.2,365.6C208.7,365.6 209.2,365.6 209.7,365.6C210.2,365.6 210.7,365.6 211.2,365.6C211.7,365.6 212.2,365.6 212.7,365.6C213.2,365.6 213.7,365.6 214.2,365.6C214.7,365.6 215.2,365.6 215.7,365.6C216.2,365.6 216.7,365.6 217.2,365.6C217.7,365.6 218.2,365.6 218.7,365.6C219.2,365.6 219.7,365.6 220.2,365.6C220.7,365.6 221.2,365.6 221.7,365.6C222.2,365.6 222.7,365.6 223.2,365.6C223.7,365.6 224.2,365.6 224.7,365.6C225.2,365.6 225.7,365.6 226.2,365.6C226.7,365.6 227.2,365.6 227.7,365.6C228.2,365.6 228.7,365.6 229.2,365.6C229.7,365.6 230.2,365.6 230.7,365.6C231.2,365.6 231.7,365.6 232.2,365.6C232.7,365.6 233.2,365.6 233.7,365.6C234.2,365.6 234.7,365.6 235.2,365.6C235.7,365.6 236.2,365.6 236.7,365.6C237.2,365.6 237.7,365.6 238.2,365.6C238.7,365.6 239.2,365.6 239.7,365.6C240.2,365.6 240.7,365.6 241.2,365.6C241.7,365.6 242.2,365.6 242.7,365.6C243.2,365.6 243.7,365.6 244.2,365.6C244.7,365.6 245.2,365.6 245.7,365.6C246.2,365.6 246.7,365.6 247.2,365.6C247.7,365.6 248.2,365.6 248.7,365.6C249.2,365.6 249.7,365.6 250.2,365.6C250.7,365.6 251.2,365.6 251.7,365.6C252.2,365.6 252.7,365.6 253.2,365.6C253.7,365.6 254.2,365.6 254.7,365.6C255.2,365.6 255.7,365.6 256.2,365.6C256.7,365.6 257.2,365.6 257.7,365.6C258.2,365.6 258.7,365.6 259.2,365.6C259.7,365.6 260.2,365.6 260.7,365.6C261.2,365.6 261.7,365.6 262.2,365.6C262.7,365.6 263.2,365.6 263.7,365.6C264.2,365.6 264.7,365.6 265.2,365.6C265.7,365.6 266.2,365.6 266.7,365.6C267.2,365.6 267.7,365.6 268.2,365.6C268.7,365.6 269.2,365.6 269.7,365.6C270.2,365.6 270.7,365.6 271.2,365.6C271.7,365.6 272.2,365.6 272.7,365.6C273.2,365.6 273.7,365.6 274.2,365.6C274.7,365.6 275.2,365.6 275.7,365.6C276.2,365.6 276.7,365.6 277.2,365.6C277.7,365.6 278.2,365.6 278.7,365.6C279.2,365.6 279.7,365.6 280.2,365.6C280.7,365.6 281.45,365.6 281.7,365.6" fill="none" stroke="#FF0000" stroke-width="1.6" stroke-linejoin="round"/>
</g>
<line x1="22.5" x2="24.1" y1="365.6" y2="365.6" stroke="#333" stroke-width="1.1"/>
<line x1="22.5" x2="24.1" y1="333.17" y2="333.17" stroke="#333" stroke-width="1.1"/>
<line x1="22.5" x2="24.1" y1="300.74" y2="300.74" stroke="#333" stroke-width="1.1"/>
<line x1="22.5" x2="24.1" y1="268.31" y2="268.31" stroke="#333" stroke-width="1.1"/>
<line x1="33.7" x2="33.7" y1="370" y2="372" stroke="#333" stroke-width="1.1"/>
<line x1="93.6" x2="93.6" y1="370" y2="372" stroke="#333" stroke-width="1.1"/>
<line x1="153.5" x2="153.5" y1="370" y2="372" stroke="#333" stroke-width="1.1"/>
<line x1="213.4" x2="213.4" y1="370" y2="372" stroke="#333" stroke-width="1.1"/>
<line x1="273.3" x2="273.3" y1="370" y2="372" stroke="#333" stroke-width="1.1"/>
<rect x="306" y="311.2" width="7.9" height="7.65" fill="#F2F2F2"/>
<rect x="306.4" y="311.6" width="7.1" height="6.85" fill="#00FF00" fill-opacity="0.75" stroke="#00FF00" stroke-width="0.8"/>
<rect x="306" y="318.85" width="7.9" height="7.65" fill="#F2F2F2"/>
<rect x="306.4" y="319.25" width="7.1" height="6.85" fill="#0000FF" fill-opacity="0.75" stroke="#0000FF" stroke-width="0.8"/>
<rect x="306" y="326.5" width="7.9" height="7.65" fill="#F2F2F2"/>
<rect x="306.4" y="326.9" width="7.1" height="6.85" fill="#FF0000" fill-opacity="0.75" stroke="#FF0000" stroke-width="0.8"/>
<g class="tx"><text x="24" y="104.65" text-anchor="end" class="tk">0.00</text>
<text x="24" y="84.34" text-anchor="end" class="tk">0.05</text>
<text x="24" y="64.02" text-anchor="end" class="tk">0.10</text>
<text x="24" y="43.7" text-anchor="end" class="tk">0.15</text>
<text x="24" y="23.39" text-anchor="end" class="tk">0.20</text>
<text x="34.1" y="115.3" text-anchor="middle" class="tk">0</text>
<text x="91.9" y="115.3" text-anchor="middle" class="tk">5</text>
<text x="149.7" y="115.3" text-anchor="middle" class="tk">10</text>
<text x="207.5" y="115.3" text-anchor="middle" class="tk">15</text>
<text x="265.3" y="115.3" text-anchor="middle" class="tk">20</text>
<text x="161" y="123.9" text-anchor="middle" class="at">Acetic.Acid</text>
<text transform="translate(7.3,53.9) rotate(-90)" text-anchor="middle" class="at">Density</text>
<text x="306" y="42.6" class="lt">Type.of.IBS</text>
<text x="317.5" y="53.23" class="lx">HV</text>
<text x="317.5" y="60.88" class="lx">IBS − C</text>
<text x="317.5" y="68.53" class="lx">IBS − D</text>
<text x="366.6" y="104.5" text-anchor="end" class="tk">0.0</text>
<text x="366.6" y="81.4" text-anchor="end" class="tk">0.1</text>
<text x="366.6" y="58.3" text-anchor="end" class="tk">0.2</text>
<text x="366.6" y="35.2" text-anchor="end" class="tk">0.3</text>
<text x="366.6" y="12.1" text-anchor="end" class="tk">0.4</text>
<text x="400.2" y="115.3" text-anchor="middle" class="tk">0</text>
<text x="470.54" y="115.3" text-anchor="middle" class="tk">2</text>
<text x="540.88" y="115.3" text-anchor="middle" class="tk">4</text>
<text x="611.22" y="115.3" text-anchor="middle" class="tk">6</text>
<text x="505.7" y="123.9" text-anchor="middle" class="at">Propionic.Acid</text>
<text transform="translate(354.3,53.9) rotate(-90)" text-anchor="middle" class="at">Density</text>
<text x="652.6" y="42.6" class="lt">Type.of.IBS</text>
<text x="664.1" y="53.23" class="lx">HV</text>
<text x="664.1" y="60.88" class="lx">IBS − C</text>
<text x="664.1" y="68.53" class="lx">IBS − D</text>
<text x="20.1" y="236.75" text-anchor="end" class="tk">0.0</text>
<text x="20.1" y="212.9" text-anchor="end" class="tk">0.1</text>
<text x="20.1" y="189.05" text-anchor="end" class="tk">0.2</text>
<text x="20.1" y="165.2" text-anchor="end" class="tk">0.3</text>
<text x="20.1" y="141.35" text-anchor="end" class="tk">0.4</text>
<text x="51.6" y="247.6" text-anchor="middle" class="tk">0</text>
<text x="113.2" y="247.6" text-anchor="middle" class="tk">2</text>
<text x="174.8" y="247.6" text-anchor="middle" class="tk">4</text>
<text x="236.4" y="247.6" text-anchor="middle" class="tk">6</text>
<text x="159.15" y="256.2" text-anchor="middle" class="at">Butyric.Acid</text>
<text transform="translate(7.3,185.9) rotate(-90)" text-anchor="middle" class="at">Density</text>
<text x="306" y="174.6" class="lt">Type.of.IBS</text>
<text x="317.5" y="185.22" class="lx">HV</text>
<text x="317.5" y="192.87" class="lx">IBS − C</text>
<text x="317.5" y="200.52" class="lx">IBS − D</text>
<text x="370.5" y="236.5" text-anchor="end" class="tk">0.00</text>
<text x="370.5" y="212.65" text-anchor="end" class="tk">0.05</text>
<text x="370.5" y="188.8" text-anchor="end" class="tk">0.10</text>
<text x="370.5" y="164.95" text-anchor="end" class="tk">0.15</text>
<text x="370.5" y="141.1" text-anchor="end" class="tk">0.20</text>
<text x="457.1" y="247.3" text-anchor="middle" class="tk">10</text>
<text x="540.8" y="247.3" text-anchor="middle" class="tk">20</text>
<text x="624.5" y="247.3" text-anchor="middle" class="tk">30</text>
<text x="507.7" y="255.9" text-anchor="middle" class="at">Total.SCFA</text>
<text transform="translate(354.3,185.7) rotate(-90)" text-anchor="middle" class="at">Density</text>
<text x="652.6" y="174.4" class="lt">Type.of.IBS</text>
<text x="664.1" y="185.02" class="lx">HV</text>
<text x="664.1" y="192.67" class="lx">IBS − C</text>
<text x="664.1" y="200.32" class="lx">IBS − D</text>
<text x="20.2" y="368.5" text-anchor="end" class="tk">0.0</text>
<text x="20.2" y="336.07" text-anchor="end" class="tk">0.1</text>
<text x="20.2" y="303.64" text-anchor="end" class="tk">0.2</text>
<text x="20.2" y="271.21" text-anchor="end" class="tk">0.3</text>
<text x="33.7" y="379" text-anchor="middle" class="tk">0</text>
<text x="93.6" y="379" text-anchor="middle" class="tk">10</text>
<text x="153.5" y="379" text-anchor="middle" class="tk">20</text>
<text x="213.4" y="379" text-anchor="middle" class="tk">30</text>
<text x="273.3" y="379" text-anchor="middle" class="tk">40</text>
<text x="159.43" y="387.6" text-anchor="middle" class="at">Acetic.to.Butyrate.ratio</text>
<text transform="translate(7.3,317.7) rotate(-90)" text-anchor="middle" class="at">Density</text>
<text x="306" y="306.4" class="lt">Type.of.IBS</text>
<text x="317.5" y="317.02" class="lx">HV</text>
<text x="317.5" y="324.67" class="lx">IBS − C</text>
<text x="317.5" y="332.32" class="lx">IBS − D</text></g>
</svg>
</body></html>
